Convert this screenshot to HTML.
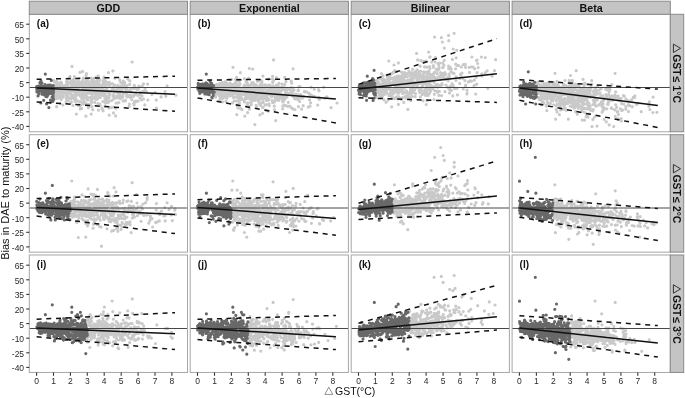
<!DOCTYPE html><html><head><meta charset="utf-8"><style>html,body{margin:0;padding:0;background:#fff;overflow:hidden}svg{display:block;will-change:transform}</style></head><body><svg width="685" height="398" viewBox="0 0 685 398">
<rect width="685" height="398" fill="#fff"/>
<rect x="29.3" y="14.3" width="158.2" height="117.45" fill="#fff"/>
<path d="M68.3 93.3h0M91.2 78.2h0M120.1 90.9h0M71.2 93.4h0M129.7 95h0M84 101h0M73.8 97.8h0M63.6 87.1h0M105.7 103h0M99.6 87.2h0M82.8 80.3h0M72.5 84.4h0M72.7 88.3h0M76 84.5h0M122.7 82h0M79.1 93.7h0M57.6 88h0M102.8 87.9h0M72.2 84h0M75.5 88.5h0M103.9 83.4h0M105.7 84.4h0M65.8 88.3h0M71.4 94.5h0M125.1 92.8h0M71.2 85.5h0M96.4 77h0M80.3 92.6h0M98.2 87.5h0M75.1 97.5h0M60.1 90.1h0M113.6 95.4h0M107.4 83.7h0M76 95.5h0M53.6 86.8h0M82.8 104.1h0M85 95h0M104.1 85.1h0M84.6 95h0M143 91.2h0M103.2 80.9h0M111.1 107.6h0M59.3 90.2h0M72.6 84h0M108.8 97.9h0M61.4 90.9h0M59.7 93h0M105.6 95.5h0M78.9 85.3h0M133.7 103.6h0M102.9 95.5h0M56.6 82.6h0M123.1 93.2h0M67.3 94.4h0M66.6 87.2h0M84.8 92h0M97.3 80.7h0M96.1 96.4h0M67.4 85h0M92.4 85.4h0M120.7 82.4h0M105.8 90.2h0M103.4 90.5h0M67.6 97.2h0M130.7 89h0M66.4 98.6h0M83.2 92.4h0M97.3 89.8h0M80 91.1h0M103.2 85.9h0M100.2 88h0M57.8 97.8h0M75.2 101.5h0M104.3 79.3h0M82.6 95h0M55.7 98.4h0M59.5 88h0M66.1 88.4h0M95.8 83.7h0M87.9 80.9h0M104.9 90.5h0M99.8 104.1h0M70.5 88.8h0M75 99.9h0M54.6 90.5h0M96.8 94h0M111.4 91.1h0M107.1 98h0M128.7 96.3h0M86.1 79.4h0M88.4 90.8h0M53.6 93h0M96.2 91.2h0M60.9 84.7h0M138.1 101.1h0M103.5 81.5h0M61.2 99.5h0M90.4 104.7h0M131.8 99.6h0M77.7 86.9h0M57.8 91.3h0M129.5 91.1h0M84.9 95.7h0M100.5 93.8h0M92.1 85h0M115.8 96.4h0M100.8 86.7h0M57.5 90.7h0M59.3 87.7h0M94.8 102.4h0M59.2 97.6h0M71.8 97h0M66 88h0M100.4 91.7h0M89.3 89h0M124.7 82.7h0M101.9 85h0M96.1 92.5h0M96.3 95h0M145.1 88.3h0M88.4 93h0M165.1 91.6h0M78.4 88h0M75.4 93.6h0M70 93.1h0M156.3 100.1h0M92.3 88.1h0M117.4 89.7h0M101.2 89.4h0M129.4 104.2h0M118.9 95.3h0M74.3 91.8h0M55.1 87.8h0M120.5 96.4h0M60 83.6h0M94.4 97.7h0M102.1 90.7h0M91.6 88.4h0M91.3 89.5h0M55.9 89.3h0M72.2 88.4h0M93.9 85.5h0M87.1 86h0M92.1 94.6h0M81.4 92.2h0M73 105.5h0M78.7 93.2h0M94.3 90.5h0M75.3 83.7h0M114.6 85.1h0M85.8 81.6h0M115.6 115.9h0M95.1 98.5h0M115.6 96.7h0M80.4 94.6h0M73.9 87.9h0M115.6 108.3h0M60.8 82.2h0M114.8 78.2h0M79.5 83.2h0M78.1 80.9h0M53.7 80.5h0M76.6 86.1h0M120 96h0M142 95.8h0M57.8 95h0M83.6 97.4h0M74.1 82.9h0M84.6 85.6h0M71.7 88.2h0M124.1 88.4h0M118 95.5h0M109.1 97.7h0M87.4 87.2h0M56.9 84.8h0M99.4 93.6h0M76.3 82.9h0M109.2 115.2h0M97.1 88.3h0M123.1 100.9h0M82.6 102.1h0M86.5 85.3h0M112.7 87.3h0M73.3 95.5h0M99 84.4h0M68.7 87.6h0M54 85.9h0M124.3 84.6h0M126.7 94.4h0M59.9 97h0M127.7 79h0M87.6 88.9h0M101.8 92.8h0M106.6 84.5h0M72 80.5h0M65.4 91.8h0M77.8 93.6h0M118.6 97.7h0M60.2 88h0M59.5 88.9h0M55 91.1h0M99.2 97.3h0M103.4 91.4h0M113.8 89h0M141.6 100h0M56.6 106.7h0M89.7 97.5h0M119.8 92.6h0M92.1 96.6h0M77.3 95.1h0M105.2 92.4h0M83.5 98.3h0M125.7 86.4h0M74.8 95.5h0M72.6 96.1h0M83.1 84.7h0M124.4 87.6h0M129.8 84.4h0M132.5 95.5h0M54.8 90.6h0M85.4 89.1h0M87.4 79.5h0M74.4 81.8h0M91.4 78.6h0M118.9 88.4h0M62 92.9h0M114.5 85.5h0M138.3 89.2h0M65.2 92.7h0M70.6 81.9h0M129.3 106.3h0M76.4 86.5h0M93.6 89.4h0M88.5 106.1h0M97.6 87.8h0M78.4 105.4h0M74.5 86.6h0M102.7 109.9h0M112.1 89h0M107 96.8h0M67.9 100h0M119.4 89.2h0M97.4 87.4h0M60.9 88.9h0M87 96.7h0M95.5 94.4h0M58.8 86.7h0M120.4 98.7h0M84.9 90.8h0M56.2 94.7h0M127 96.9h0M113.5 112.9h0M56.3 84.7h0M136 101.1h0M66.2 87h0M88.7 83.9h0M106.6 96.8h0M86.4 87.5h0M92.9 98.3h0M103.7 78.6h0M132.9 88.1h0M117.8 85.3h0M120.5 87.8h0M143.5 99h0M78.5 92.1h0M57.9 86.9h0M105.4 80.8h0M63 95h0M78.3 79.8h0M70 76.4h0M146.3 91.4h0M74.3 79.4h0M87.6 99.9h0M133.4 96.5h0M104.6 92.5h0M62.9 105h0M66.6 97.6h0M76.3 93.6h0M65.1 89.3h0M78.2 101.2h0M74.4 85.1h0M155.1 92.5h0M81.8 85.9h0M105.8 87.3h0M70.8 93.8h0M97.6 79.7h0M85.5 87.7h0M109.3 82.4h0M91.8 100.4h0M53.8 99.4h0M94.8 92h0M96.5 95.7h0M66.2 101.5h0M83.1 96.8h0M99 89.9h0M75.3 100h0M89.6 91.3h0M121.1 86.2h0M114.1 98.9h0M66.1 95.2h0M117.2 92.4h0M104.4 92.4h0M78.1 80h0M123.4 81.1h0M90.8 100.9h0M75.1 92.2h0M64.6 91.2h0M127 85.5h0M64.9 86.1h0M108.5 72.7h0M88.3 83.5h0M144.1 91h0M82.7 85.3h0M116 96.8h0M66.8 94.4h0M99.1 94h0M62.8 95.8h0M82.5 90.9h0M142.2 85.8h0M67.4 95.5h0M118.8 95.8h0M97 85.9h0M57.9 84.6h0M55.9 95.9h0M66.5 82.2h0M95.4 88.6h0M151.9 94.4h0M95.3 94.9h0M99.6 94.9h0M105.5 100.6h0M69.3 89.1h0M113 96.7h0M125 101h0M75.8 99.4h0M104.8 98h0M94 84.7h0M53.6 85.5h0M68.9 98.1h0M73.2 97.2h0M89.9 93.4h0M71.2 91.5h0M111.3 84h0M61 97.4h0M103.2 82.9h0M108.1 91.4h0M144.8 104.9h0M66.2 103.1h0M91 84h0M60.9 84.4h0M58.7 90.9h0M87.1 93.3h0M77 89.8h0M98.3 75.9h0M78.8 90.5h0M76.4 82.2h0M113.6 107.2h0M82.5 91.3h0M99.7 93.2h0M125.8 87h0M109.1 101h0M70.7 89.5h0M104.1 77.1h0M59 86.9h0M83.1 89h0M80.2 108.9h0M108.9 93h0M61.5 85.9h0M67.4 88.5h0M99.1 86.5h0M87.3 91.3h0M104.5 93.8h0M134.1 104.9h0M112.8 94.8h0M84.8 103.5h0M93.8 82.7h0M102.6 84.3h0M167.1 85.8h0M85 84.9h0M83.5 78h0M93.8 78.6h0M130.1 97.1h0M62.1 85.9h0M58.8 83.8h0M126.5 94.5h0M156.5 108h0M84.4 89.6h0M68.2 100.5h0M71.9 86.6h0M133.3 87.8h0M126.2 90.5h0M117.7 90.2h0M64.6 85.5h0M90.1 84.8h0M79.2 85.7h0M124.2 87.2h0M59.1 84.2h0M70 83.3h0M73.1 85.3h0M83.2 87.9h0M54.5 82h0M81.7 98.8h0M108.2 102.5h0M54.2 91.2h0M102.2 94.9h0M81.5 92.1h0M135.8 101.8h0M68.9 97.5h0M116.1 103.1h0M147.9 100h0M73.7 79.3h0M60.2 103.6h0M98.1 89.2h0M89.5 87.4h0M134.4 85.4h0M134.5 101.6h0M120.8 86h0M65.3 88.3h0M78.6 83h0M81.8 84.9h0M93 82.8h0M60.1 89.2h0M79.5 90.8h0M117.2 89.6h0M80.3 101.9h0M58.1 88.8h0M57.2 89.4h0M100 79.9h0M57.5 88.8h0M82.6 71.4h0M122.6 85.5h0M72.7 85h0M73.8 98.5h0M129.8 80.9h0M82.7 88.2h0M54.3 92.5h0M84.1 83.4h0M69.2 97.8h0M104 94.6h0M91.1 88.3h0M87 99.7h0M59.4 85.1h0M57.2 98.5h0M92.6 83.5h0M109.4 95.1h0M109.6 91.4h0M59.4 90.1h0M77.3 89.1h0M108.3 92.9h0M119.7 79.9h0M101.4 86.9h0M119.7 86.7h0M135.8 88h0M86.4 73.7h0M96.2 99.4h0M99 82.4h0M91.2 114.1h0M140 98.1h0M75 88.7h0M61.6 84.3h0M114.6 90.9h0M59.7 87.8h0M79.6 92.4h0M60.2 87.5h0M92 93.3h0M114.3 98.6h0M92.4 91.6h0M60.8 93h0M84.5 97.2h0M71.5 83.4h0M94.4 81.3h0M68.1 96.2h0M114.5 90.2h0M98.5 110.2h0M84.7 87.8h0M85.2 89.6h0M91.2 81.2h0M81.7 108.5h0M90.3 98.1h0M53.9 89.8h0M94.2 86.6h0M108 91h0M60.3 85.7h0M57.2 94.9h0M81.9 90.6h0M76.2 89.9h0M87 85.7h0M70.9 87.1h0M59.4 91.1h0M62.7 86.4h0M93.3 92.7h0M66.9 81.1h0M103.3 101.7h0M84.3 86.9h0M60.5 87.3h0M74.4 76.5h0M91 90.1h0M58.5 88.3h0M56.6 86.7h0M75.8 98.6h0M130.5 97.5h0M62.2 91.5h0M68.2 82.7h0M58.3 83.3h0M122 91.4h0M99.9 91.7h0M67.1 92.3h0M86 103.4h0M74.4 87.5h0M89.4 83.6h0M72.7 87.4h0M60.8 88h0M67.8 90.1h0M105.9 85.5h0M123.1 84h0M122.9 95h0M97.7 98.8h0M53.8 86.5h0M66.8 85.4h0M80.4 93.9h0M71 83.7h0M96.3 99.3h0M58.2 97.2h0M82.9 82.8h0M76.7 85.6h0M91.1 83.6h0M109 108.1h0M135.9 94.1h0M72.2 88.9h0M138.8 86h0M97.8 82.7h0M87.9 86.9h0M117.1 98h0M100.2 105.3h0M71.5 102.1h0M72.9 86.2h0M139.8 94.5h0M69.3 90.8h0M62.3 86.9h0M71.3 93.5h0M85.4 87.4h0M82.4 90.5h0M66.6 85h0M61.5 82.9h0M71.5 89.4h0M97 85.3h0M65.1 91.2h0M78.4 94.3h0M82.1 89.2h0M91.7 102.2h0M143.6 83.8h0M88.4 107.7h0M57.3 94.9h0M58.4 91.1h0M137 89.5h0M80.3 96.2h0M63.5 89.1h0M104.1 101.5h0M96.1 84.6h0M71 98.8h0M103.9 94.9h0M119.6 94.9h0M113.8 98.9h0M81.6 82h0M92.6 87.6h0M62.9 94.6h0M100.2 97.5h0M96.7 82.6h0M57.5 87.4h0M98 103.5h0M87.8 81.5h0M65.4 87h0M63.8 89h0M56.9 90.2h0M73.3 81.1h0M94.9 90.8h0M88.2 86.7h0M63.3 97.1h0M73.4 87.6h0M85.1 83.1h0M161.1 96.9h0M74.4 88.1h0M89.8 87.5h0M55 92.5h0M134 95h0M91.8 92.2h0M83.3 89.1h0M70.7 102.7h0M165.8 96.2h0M56.8 81.2h0M107 88.3h0M137.9 95.5h0M103.9 90.4h0M89.1 83.8h0M56.7 86h0M64.3 91.6h0M125.6 86.5h0M122.9 97.2h0M70.8 87.4h0M106.9 100.8h0M60.1 84.4h0M119.9 95.9h0M86.1 75.6h0M83.2 95.4h0M60.1 96h0M91.8 106.6h0M134.9 94.8h0M104 86.7h0M71.2 94.5h0M91.2 92.5h0M94.1 87.3h0M104.6 86.1h0M73.3 89.9h0M93.2 85.1h0M147.7 84.2h0M85.1 91.6h0M69.6 77.8h0M91.6 94h0M84 88.3h0M175.9 95.2h0M115.2 97.6h0M81.3 83.5h0M133.9 88.6h0M58 93.9h0M81.5 94.4h0M57.5 85h0M123.4 84.9h0M102.8 101.7h0M121.4 90.9h0M77.5 92.4h0M126.8 96.5h0M117.5 86.5h0M72.4 96.7h0M127.1 88.9h0M85.2 97.3h0M66.9 87.7h0M107 90.2h0M109.3 85.7h0M118.9 102.6h0M69.5 78.8h0M125.5 100.3h0M103.1 110.8h0M78.9 86.7h0M109.2 95.3h0M140.4 92.3h0M105 106.2h0M139.5 87h0M58.6 88.3h0M118.2 102.9h0M74.4 89.7h0M76.9 93.6h0M96.2 89.4h0M119.6 92.2h0M112.2 83.5h0M68.8 90.3h0M58.5 88.4h0M88.4 104.4h0M80.7 82h0M53.8 100.2h0M106.4 82.1h0M100.5 86h0M73.4 81.2h0M131.6 92h0M114.5 92.2h0M87.7 89.8h0M117 87.5h0M88.4 105.6h0M60.8 85.5h0M72.9 88h0M93.7 80.7h0M80.3 105.8h0M121.3 89.3h0M101.9 108.2h0M87.2 82.8h0M55.5 86.6h0M98.2 91.9h0M90.3 84.9h0M117.2 90.4h0M104.1 91h0M82.5 87.6h0M109.6 93.8h0M65.7 92.5h0M77.8 86.3h0M111.7 100.6h0M61.2 92.6h0M72 66.4h0M132.1 62h0M112.9 70.9h0M80 72.4h0M76.4 114.1h0M85.9 116.2h0M92.7 109.7h0" stroke="#c9c9c9" stroke-width="3.2" stroke-linecap="round" fill="none"/>
<path d="M48 94.9h0M49.4 85.4h0M37.3 89.3h0M38 95.9h0M44.7 94.6h0M48.5 93.9h0M37.9 88.4h0M43 89.2h0M52.6 92.7h0M39.7 87.5h0M46.6 103.9h0M50.1 89h0M41.4 87.8h0M45.9 88.7h0M44.5 90.6h0M45.9 96.4h0M36.7 86.5h0M46.8 91.2h0M53.5 92.6h0M47.7 93.1h0M50.7 90.4h0M45.3 87.1h0M45.1 93.7h0M38.4 89.3h0M37.4 88h0M45.5 92.8h0M45.4 95.3h0M53.3 85.6h0M40.3 91.1h0M50.5 93.4h0M44.8 87.5h0M48.4 87.5h0M36.7 88h0M50.5 100.1h0M40.2 91.1h0M45.8 87.7h0M43.7 100.3h0M45.6 88.1h0M49 89.2h0M38.2 91.4h0M52.6 101.5h0M42.9 87.1h0M38.9 93.9h0M39.2 90.8h0M45 84.5h0M41 90h0M53.4 90.7h0M41.5 88.1h0M44.2 86.1h0M53 94.8h0M43.8 93.2h0M38.5 90.7h0M47 96.7h0M47 86.9h0M47.2 89.7h0M36.9 91.8h0M45.2 93.9h0M42.1 94.2h0M51.3 80.4h0M39.3 86.4h0M53.2 95.9h0M47.3 89.5h0M48.8 85.9h0M45.6 87.8h0M47.9 90.1h0M39.6 90.2h0M50 86.5h0M48.7 86.5h0M41 81.1h0M52.1 97.2h0M52.9 89.4h0M49.6 85.4h0M42 83.1h0M48.8 88.1h0M36.9 87.4h0M50.8 92.4h0M46 86.5h0M40.7 91.1h0M53.1 89.9h0M47.1 87.6h0M46.6 88.1h0M53.5 90.3h0M38.1 90.1h0M40.7 86.6h0M42 91.1h0M53 87.8h0M48.9 107.6h0M37.9 86.3h0M53.3 98.4h0M50.7 101.9h0M36.8 89.5h0M39.9 82.7h0M38.7 92.6h0M43.9 92.9h0M51.9 93h0M53.4 99.7h0M53.1 88.2h0M42.1 86.4h0M40.4 89.8h0M42.1 90.9h0M40.8 102.9h0M41.2 87.8h0M38.5 86.1h0M49.5 90.5h0M37.3 89.9h0M48.1 91.9h0M50.5 85h0M42.3 92.7h0M50.8 87.3h0M45.2 88.2h0M39.2 89.1h0M38.7 93.1h0M40.3 87.7h0M44.4 94.9h0M40.9 85.3h0M48.1 85.1h0M45.3 74.1h0" stroke="#686868" stroke-width="3.2" stroke-linecap="round" fill="none"/>
<line x1="29.3" x2="187.5" y1="87.5" y2="87.5" stroke="#333" stroke-width="0.9"/>
<line x1="36.6" x2="175" y1="79.3" y2="76.2" stroke="#111" stroke-width="1.5" stroke-dasharray="5 4.7"/>
<line x1="36.6" x2="175" y1="101.9" y2="111.3" stroke="#111" stroke-width="1.5" stroke-dasharray="5 4.7"/>
<line x1="36.6" x2="175" y1="87.9" y2="94.2" stroke="#111" stroke-width="1.5"/>
<rect x="29.3" y="14.3" width="158.2" height="117.45" fill="none" stroke="#a6a6a6" stroke-width="1"/>
<text x="36.8" y="26.8" font-family="Liberation Sans" font-weight="bold" font-size="10" fill="#111">(a)</text>
<rect x="190.2" y="14.3" width="158.2" height="117.45" fill="#fff"/>
<path d="M225 94.4h0M262.4 89.9h0M215.5 89.8h0M262.6 98.7h0M256.2 88.5h0M297.8 99.4h0M224.9 95.3h0M232.6 89.1h0M256.6 91.7h0M247.4 96.3h0M260.7 103.9h0M276 93.1h0M283.7 87.4h0M266.3 91.6h0M283.4 99.5h0M225 81.8h0M263.1 107.6h0M220.9 93.9h0M232.2 84.3h0M272.5 92.6h0M249.7 88.9h0M281.1 98.1h0M273.7 80.6h0M240.1 90.6h0M229.2 92.1h0M264.9 86.1h0M285.4 90.3h0M256.6 85.3h0M303.2 105.7h0M269 92.5h0M251.2 89.9h0M220.8 98.4h0M259.1 86.7h0M255.5 95.1h0M282.5 101.3h0M282.3 87.2h0M272.2 100.7h0M245.8 96h0M235.9 90h0M268.5 92.9h0M244.7 89.6h0M262.5 85.3h0M266.3 100.5h0M262.4 90.4h0M216.6 90.4h0M245.6 92.9h0M235.9 88h0M276.4 85.1h0M222 86.2h0M240.1 88.2h0M217 87h0M278.8 100.4h0M238.1 94.9h0M233.5 87.9h0M267 92.5h0M300.8 94.6h0M244.4 101.9h0M229.1 87.2h0M248.4 89.2h0M249.1 94.1h0M275.3 94h0M274.3 91.1h0M219 95.4h0M249.4 96.3h0M236.7 88.5h0M239.8 89.3h0M243.5 90.5h0M221.8 90.1h0M252.6 91.9h0M275.2 96.2h0M310 106.2h0M229.3 88.4h0M221.7 91.3h0M270.3 87.9h0M254 93.9h0M311.1 87.2h0M285.3 93h0M272.8 81.8h0M287.6 93.1h0M224.8 91.8h0M248 88.9h0M283.8 95.7h0M225.9 89.9h0M266.5 110.4h0M226.8 98.2h0M229.2 87.6h0M215 88.8h0M276.5 77.5h0M263 98.5h0M251.5 90.2h0M229.8 93h0M236.2 92.6h0M227.4 93.3h0M248 102.9h0M280.7 91.2h0M225.1 97.2h0M244.8 89.2h0M279.1 96h0M297.1 98.3h0M278.9 83.3h0M215 93.1h0M238.6 97.7h0M297.3 95.1h0M229.2 84.6h0M256.9 106.3h0M261.4 92.6h0M238.1 97.5h0M244.5 89.2h0M237.4 92.9h0M279.1 90.3h0M245.5 97.7h0M301.6 109.2h0M220.7 87.1h0M310 95.1h0M242.2 88.9h0M231.5 86.4h0M239.9 92.7h0M224.7 95.3h0M231.3 91.1h0M302.3 98.2h0M266 91.3h0M280.7 96.2h0M261.5 91.2h0M226.3 91.4h0M215.3 91.6h0M267.9 100.2h0M221.4 93.9h0M216.7 92.7h0M243.1 89.9h0M274.2 93.8h0M214.6 95.8h0M291.7 83.2h0M254.5 85.9h0M246.1 82.1h0M233.5 87.9h0M304.4 91.7h0M247.3 91h0M236.7 89.3h0M259.7 80.3h0M292.7 95h0M318.5 89.5h0M216.8 87.1h0M237.3 85.2h0M226.8 90.3h0M253.3 82.7h0M227.5 96.3h0M229.3 88.8h0M217.3 91.8h0M259.4 91.7h0M237.7 86.1h0M291.2 94.7h0M234.9 92.2h0M227.4 92.6h0M249.3 87.3h0M298.5 87h0M233.7 87.4h0M232.7 90.6h0M227 91.3h0M284.2 96.9h0M223.5 88.1h0M319.1 97.3h0M216.6 84.3h0M269.7 93.4h0M285.9 81.4h0M216 94.2h0M215.7 97.1h0M282.9 96.8h0M233.5 84.9h0M238.6 93.8h0M260.3 84.3h0M216.3 90h0M217.7 88.7h0M246.3 80.4h0M260.9 84.2h0M252.7 69.1h0M292.8 108.9h0M278.2 95.6h0M249.1 97.9h0M262 82.4h0M309 93h0M237.4 93.3h0M231.1 92.2h0M252.2 92.4h0M300.9 97.4h0M231.6 89.4h0M253.5 96.6h0M255.3 97.5h0M238.7 97.4h0M254.3 86h0M263.7 98.2h0M256.1 91.3h0M269.4 94.4h0M285.2 97.1h0M247.6 112.7h0M248.5 94h0M249.5 87.1h0M256.7 93.8h0M231.1 87.9h0M232.5 94.3h0M249 93.7h0M220.2 89.8h0M220 93.3h0M291.9 90.8h0M246.5 98h0M299.6 101.4h0M229.4 92.2h0M220.8 93.4h0M268.7 79.2h0M284.1 105.4h0M313.2 96.4h0M292.1 94.8h0M229.6 95.8h0M237.4 91.7h0M285.8 93.9h0M265 92.4h0M233.3 93h0M225.4 93.2h0M254.2 98.1h0M223.8 96.6h0M255.8 92.5h0M290.7 90.8h0M298 90.4h0M223.1 91.6h0M250.8 99.3h0M248.6 78.4h0M263.2 102.4h0M284.8 84.6h0M281 87.6h0M233.4 88.6h0M289.7 106h0M260.6 105.3h0M251.2 102.4h0M295.9 93.8h0M258 99h0M233.5 86.7h0M287.8 106.3h0M235.3 85.8h0M296.3 94.9h0M283.1 101.9h0M271.1 91.9h0M247.2 98.5h0M276.7 90h0M263.1 88.4h0M249.3 109.2h0M247 105.9h0M275.7 120.6h0M287.7 94.7h0M218.8 88h0M234.2 100.9h0M261.1 93h0M247.3 93.5h0M301 95h0M223.2 98h0M261.6 89.6h0M285.8 105.6h0M229.9 86.9h0M219.9 85h0M237.3 92.7h0M236.6 101.1h0M238.7 80.9h0M236.2 93.9h0M226.4 83.2h0M221.8 91.4h0M261.8 80.9h0M248.3 93.9h0M255.6 98.2h0M225.4 84.8h0M217 89.7h0M247 90.6h0M230.1 84.4h0M249.3 68.4h0M279.6 98.3h0M242.3 93.8h0M232.9 85.1h0M268.3 91.1h0M216.2 88.6h0M234.1 89.9h0M254.9 100.4h0M253.7 87.8h0M295 99h0M217.5 89.8h0M230.2 92.3h0M248.8 106.2h0M236.2 82.3h0M260 96.9h0M227.2 96.8h0M246.3 91.5h0M251 103.1h0M303.4 96.4h0M232.7 88.9h0M278.2 86.1h0M246.9 91.9h0M240.7 108.7h0M229.2 92h0M271 95.4h0M233.7 89.9h0M324.9 98.1h0M272.7 102.7h0M235.5 92.5h0M282.6 108.8h0M221 93.7h0M251.4 94.3h0M251.9 99h0M255.1 96.3h0M220.8 88.5h0M252 93.7h0M236.3 93.4h0M223.1 86.5h0M247.3 95.3h0M272.5 96.2h0M232.7 88.4h0M263.3 99h0M235.5 92h0M269.2 105.6h0M219.7 99.9h0M241.4 97.7h0M237.4 91h0M214.7 93.9h0M290.4 94.1h0M239.6 91.4h0M228.3 93.6h0M236.2 90.4h0M256.1 105.3h0M269.6 92.6h0M240 83.6h0M298.5 90.3h0M244.7 89.5h0M231.7 92h0M287.8 93.1h0M241.1 99.4h0M235.7 90.6h0M232.8 95.1h0M260.6 86.8h0M247.8 94h0M265.9 96.6h0M239.7 83.8h0M235.3 93.3h0M252.4 89h0M261.8 94.6h0M264.2 93.4h0M226 87.4h0M244.1 89h0M219.4 89.7h0M223 93.2h0M220.4 88.1h0M250.4 90.7h0M235.4 97.1h0M237.1 79.8h0M251.9 92.4h0M257.9 94.9h0M254.2 98.6h0M288.3 102.3h0M219.4 91h0M242.4 89.5h0M230.1 93.4h0M221.6 90.5h0M250.8 91.9h0M267.8 90.1h0M238.5 100.3h0M216.3 94.1h0M255.1 90.8h0M259.2 93.4h0M276.7 99.8h0M253 83.8h0M272.5 76.3h0M236.4 93.5h0M337 103h0M311.3 95h0M251.8 82.5h0M232.4 90.2h0M276.4 94.7h0M220 90.8h0M246.3 88.5h0M284.5 89.5h0M235.6 79.6h0M225.8 86.9h0M294.9 109.6h0M215 92.7h0M309.4 94.4h0M248.1 89.5h0M277.5 98.7h0M293.7 94.6h0M306.4 91.9h0M242.1 109.6h0M279.3 94.1h0M271.3 94.3h0M318.6 97.5h0M255.3 88.7h0M217 90h0M232.9 86.4h0M239.2 91.9h0M271.8 87.9h0M246.6 90.3h0M251.9 97h0M224.9 94h0M271.9 87.4h0M222.7 87.3h0M240.6 90.5h0M237.9 107.9h0M258.9 92h0M319 90.8h0M232.5 102.9h0M263 76.1h0M283.7 88.7h0M221.6 96.4h0M290.9 87.7h0M237.3 105.7h0M239.2 104h0M234.2 91.4h0M218.5 89.8h0M269 85h0M275.6 99.6h0M284.7 77.3h0M314.2 89.2h0M246.1 96.2h0M223.1 84.1h0M220.3 96h0M236.6 77.4h0M247.9 96.5h0M270.5 95.4h0M269.1 103.8h0M291.2 81.2h0M287.5 94.3h0M292.7 95.9h0M266 97.6h0M222.7 97.2h0M294.1 90h0M314.6 96.6h0M291.1 107.5h0M298.2 94.8h0M216.1 88h0M253.8 94.2h0M251.2 101.7h0M253.7 83.5h0M248.6 90.9h0M220.3 88.9h0M250 98.9h0M266.3 104.6h0M222.8 93.1h0M258 100.8h0M249.9 91.6h0M250.2 97.8h0M293.5 90.5h0M278.8 88.7h0M229.1 88.7h0M215.4 89h0M225.5 92.5h0M225.7 90.4h0M276.9 90.4h0M244.8 89.3h0M273.7 89.4h0M323.7 87.2h0M262.6 107.4h0M231.6 79.3h0M247.1 97.2h0M275.2 96.2h0M268.2 91.5h0M226.2 95.4h0M245.3 86h0M216.6 93.6h0M252.5 88.8h0M260.4 98.8h0M238.3 90.5h0M252.4 93.9h0M239.1 79.7h0M250.4 92.6h0M225.9 101.3h0M260.3 97.3h0M233.9 97.3h0M272.5 79h0M260.3 88.9h0M215.5 92.3h0M232.5 94.5h0M219.5 91.5h0M282.9 105.8h0M299.9 86.3h0M244.4 78.7h0M276.6 87.6h0M228.3 86.1h0M286.9 97h0M317.7 105.1h0M225.8 88.8h0M215.4 93.1h0M275.4 97h0M245.5 95h0M245.6 99h0M247.8 84.2h0M282.8 99.3h0M278.9 91.9h0M258.6 99.2h0M260.7 93.5h0M278.3 98.2h0M289.1 88.8h0M255.4 97.2h0M251.4 104.7h0M260.6 87.5h0M275.9 99.2h0M225.4 89.7h0M241.5 98.7h0M236.4 90.3h0M249.8 95.5h0M240.2 95.5h0M239.8 84.8h0M268.4 111.2h0M274.5 109.9h0M249.4 96.5h0M246.5 85.3h0M282.2 90.1h0M238.2 85.5h0M246.9 82.3h0M273.2 85.8h0M237.5 97.4h0M299.7 98h0M223.3 90.4h0M225.8 81.9h0M269 99.7h0M252.4 99.4h0M245.8 91.5h0M217.9 93.8h0M244.4 85.1h0M257.6 81.4h0M267.7 97.9h0M243.3 99.8h0M298.1 96.5h0M274.7 90.7h0M298.4 106.7h0M251.6 97.1h0M219.3 86h0M218.2 87.7h0M293.1 88h0M224.3 94.5h0M215.9 87.6h0M236.4 89h0M266.5 95.7h0M231.7 89.6h0M265.1 88.7h0M240.6 79.8h0M227.7 91h0M258.5 89.1h0M243.3 94.6h0M239.9 84.4h0M215.8 91.3h0M225.6 90.3h0M215.3 91.9h0M229.9 86.3h0M215 92.7h0M227.4 87.1h0M215 96h0M266.3 85.4h0M214.7 89.7h0M271.4 92.9h0M288.2 93.6h0M255.3 84.6h0M265 84.8h0M239.9 97.8h0M319.4 99.5h0M271 89.4h0M289.5 93.5h0M286.8 88.1h0M231.5 88.6h0M240.6 92.2h0M275.3 99.4h0M269.6 87.5h0M223.4 87.5h0M275.8 96.6h0M276 95h0M265 98h0M245.7 90.9h0M288.6 94.6h0M263.6 96.1h0M252.8 92.6h0M215.4 88.9h0M247.7 93.8h0M271.4 89.7h0M222.4 96h0M258.8 91.3h0M229.3 93h0M224.1 94.8h0M230.2 86.7h0M274.3 106.2h0M216.2 88.9h0M225.7 88.6h0M270.7 86.1h0M326.9 96.8h0M309.6 99.8h0M267.7 98.5h0M274.6 101.8h0M217.3 93.6h0M251.6 83.4h0M301.7 96.9h0M222.3 98.3h0M277.7 93.3h0M285.7 97.7h0M248.9 86.9h0M294.1 97.6h0M234.5 90.6h0M258.9 101.5h0M266.1 91.7h0M233.4 97.4h0M222.6 86.5h0M219.5 83.6h0M256.6 97.1h0M298.4 90.7h0M222.5 101.8h0M235.2 82.7h0M237.9 104.5h0M236.8 91.7h0M268.7 87.8h0M228.8 95.2h0M236.3 92.6h0M249.6 95.2h0M227.4 96.4h0M267.9 85.9h0M255.2 91.8h0M254.9 91.4h0M232 95.4h0M252.4 91.6h0M247.3 103.4h0M230 83.1h0M265.7 85.9h0M222.8 87.9h0M269.8 85.2h0M242.5 89.3h0M254.1 92.7h0M243.7 86.4h0M331.1 107.7h0M225.9 96.5h0M254.9 124.6h0M222.2 82.5h0M222.6 85h0M228.3 93.7h0M218.5 85.8h0M272.6 82.5h0M248.4 91.6h0M308.3 107.1h0M292.4 91.9h0M261.5 90.2h0M234.4 89.6h0M216.1 90h0M220.3 97.9h0M219.2 95.7h0M266.3 99h0M281.4 94.4h0M262.5 97.4h0M310.6 102.8h0M269.4 87.7h0M271.8 96.8h0M251.4 89.2h0M232.5 92.6h0M239.4 99h0M232.3 89.9h0M239.9 95h0M249.5 86.3h0M219.7 90.9h0M254.4 88.1h0M217.1 89.5h0M272 91.1h0M230.2 92.5h0M248.9 94.9h0M275.9 90.8h0M228.5 95.9h0M274.8 87.6h0M251.9 85h0M262.7 101.7h0M284.5 99.7h0M270.5 89.5h0M259.4 103.4h0M254.2 90.3h0M239.6 102.5h0M282 84.1h0M250.3 85.3h0M243.9 86.8h0M228.8 84h0M254.4 99.4h0M218.1 91.7h0M287.1 92.9h0M253.6 100.2h0M267.2 91h0M263.4 98.2h0M264.9 105h0M229.6 79.3h0M247.6 97h0M254.6 93.4h0M264.8 92.4h0M249.8 93.7h0M231 90.2h0M269 99.1h0M287.7 89.4h0M215.8 91.3h0M259.9 114.9h0M271.3 94.9h0M273.6 59.9h0M293.1 68.8h0M233 67.3h0M240.4 72.7h0M236.8 114.7h0M244.8 116.2h0M262.6 113.3h0" stroke="#c9c9c9" stroke-width="3.2" stroke-linecap="round" fill="none"/>
<path d="M205.2 85.7h0M200.5 88h0M199.8 91.1h0M205 91.4h0M206.8 83.4h0M200.4 84.3h0M201.2 92h0M204.1 86.8h0M199.1 88h0M206.2 89.9h0M203 86h0M198.9 87.1h0M207.5 89.7h0M204.9 94h0M212 90.1h0M211.8 97.3h0M200 85h0M207.4 88.9h0M210.9 85.4h0M197.9 88.9h0M201.2 87.1h0M211 86.7h0M202.5 83.8h0M213.8 85.6h0M200.2 90.9h0M204.5 91.7h0M208.8 90.1h0M208.8 84.9h0M204.3 85.9h0M197.8 87h0M208.4 94.4h0M203.8 86.6h0M207.3 86.4h0M198.5 86.3h0M210.1 81.4h0M199.8 88.3h0M213.2 95.4h0M200 91.3h0M204.8 85.6h0M211.3 88.4h0M209.2 89.5h0M207.4 91.2h0M198.2 83.4h0M199.1 91h0M199.8 84.5h0M199.8 93.3h0M206 90.7h0M202 88.4h0M207.5 88.3h0M209.6 92.6h0M207.8 85.8h0M210.9 92.2h0M211.5 85.2h0M201 87.9h0M201 85.6h0M197.7 87h0M207.8 86.2h0M208.7 90.7h0M198.7 88.4h0M211.6 83.3h0M209.1 85.5h0M201.1 90.7h0M211.2 87.8h0M203.6 87.5h0M210 90.3h0M198 89.1h0M201.3 90.6h0M199.7 87.9h0M208.2 87.3h0M197.7 87.9h0M208.9 87.7h0M198 87.9h0M202.1 88.3h0M200 85.5h0M203.2 90.7h0M210.9 88.4h0M200.5 85h0M213.4 92h0M202.8 88.2h0M199.6 89.8h0M206.1 90.4h0M209.2 94.7h0M202.3 89.2h0M214.3 92.1h0M210.6 86.6h0M202.9 84.5h0M206 86h0M212.6 90.6h0M210.4 84.9h0M212.2 97.8h0M205.1 83.9h0M206.9 92.3h0M200.2 84.5h0M211.4 88.2h0M202.7 86.6h0M198 86.9h0M205.2 87.9h0M205.8 82.8h0M206.9 90.8h0M199 88.9h0M205.1 84.8h0M207.4 86.9h0M198.3 84.6h0M202.4 90.3h0M202.9 88.8h0M202.2 91.9h0M204.7 88.9h0M207.3 94.1h0M213.2 93.3h0M206.3 74.1h0" stroke="#686868" stroke-width="3.2" stroke-linecap="round" fill="none"/>
<line x1="190.2" x2="348.4" y1="87.5" y2="87.5" stroke="#333" stroke-width="0.9"/>
<line x1="197.5" x2="335.9" y1="80.2" y2="78.5" stroke="#111" stroke-width="1.5" stroke-dasharray="5 4.7"/>
<line x1="197.5" x2="335.9" y1="97.9" y2="123" stroke="#111" stroke-width="1.5" stroke-dasharray="5 4.7"/>
<line x1="197.5" x2="335.9" y1="87.9" y2="98.9" stroke="#111" stroke-width="1.5"/>
<rect x="190.2" y="14.3" width="158.2" height="117.45" fill="none" stroke="#a6a6a6" stroke-width="1"/>
<text x="197.8" y="26.8" font-family="Liberation Sans" font-weight="bold" font-size="10" fill="#111">(b)</text>
<rect x="351.2" y="14.3" width="158.2" height="117.45" fill="#fff"/>
<path d="M386.6 89.3h0M429.3 78.9h0M434.9 90.8h0M407.6 94h0M390.1 88.9h0M417 76.8h0M405.9 98.1h0M401.2 90.7h0M421.7 81.5h0M434.7 72h0M396.6 85.7h0M376.7 85.6h0M463.2 89h0M411.8 76h0M416.6 53.4h0M417.7 80.3h0M471.4 81.2h0M410.5 79.7h0M398.6 93.2h0M389.6 86.5h0M406.5 90.9h0M485.3 72.8h0M432.8 86.7h0M467.1 93.4h0M410.9 78.3h0M417.1 69.9h0M429 71.5h0M403.9 88.5h0M394.8 88.1h0M376.4 91.3h0M458.7 65.5h0M422.5 94.4h0M430.4 91.4h0M396.4 78.6h0M429.8 57.2h0M431.9 75.4h0M377.6 90.9h0M402.3 87.8h0M439 69.1h0M381.5 85.3h0M401.2 83.7h0M390.3 87.4h0M415.6 93.5h0M387.7 79.2h0M431.8 62.1h0M431.5 85.8h0M459.7 83.4h0M388.9 77.2h0M447.6 78.5h0M399.1 86.3h0M384.1 81.4h0M422.6 79.8h0M440.5 72.6h0M392.4 94h0M445 72.6h0M430 74.4h0M381.4 73.5h0M448.6 66.1h0M402.4 80.8h0M407.3 80.6h0M402.8 72.8h0M428.6 73.9h0M414.6 76.8h0M421.5 80.2h0M393.4 82.4h0M395.7 77h0M383.5 84.6h0M402.7 88.3h0M425.9 83.7h0M394.7 91.2h0M390.7 82.9h0M473.2 67.2h0M468.4 81.9h0M394.7 70.6h0M384.6 94.3h0M381 88.9h0M415.2 96.6h0M397.3 83.6h0M401.2 72h0M449.7 87.8h0M398.9 90.4h0M391.4 83.9h0M466.8 94.1h0M385.4 90.2h0M423.1 100.8h0M448 77.1h0M423.4 73.8h0M454 73.4h0M432.8 88.8h0M384.9 89h0M420.9 71.3h0M375.5 85.9h0M434.3 94.3h0M383.3 90.1h0M418.3 73.6h0M381.2 93.2h0M397.1 85.4h0M448.3 80.8h0M434.7 78.2h0M448.6 35.4h0M426.2 104.5h0M426.9 67.2h0M398.7 85.8h0M379.4 84.2h0M388.8 87.1h0M419.4 89.6h0M408.5 85.4h0M449.5 78h0M445.4 79.2h0M382.3 94.9h0M437.7 87.2h0M428.1 95.4h0M389 94.2h0M447.5 79.8h0M423.6 83.8h0M398.5 90.7h0M419.1 90.4h0M401.5 82.8h0M437.2 78.1h0M451.2 68.9h0M413 92.6h0M407.5 80.4h0M420.9 60.7h0M391.6 95.2h0M437.5 92.3h0M461.1 77h0M427.6 88.9h0M391 73.6h0M394.5 72.3h0M456 80.4h0M416.4 81.9h0M423.6 80h0M397.7 79.9h0M428.5 80.8h0M423.9 71.8h0M402.4 77.4h0M417.2 85.5h0M430.2 78.3h0M441.6 95.5h0M397.6 88h0M408.5 81.2h0M430.6 79.4h0M427.2 89h0M389.6 80.1h0M392.9 90.9h0M381 94.1h0M461.3 74h0M453 73.2h0M380.4 96.6h0M402.4 80.3h0M442.7 67.6h0M426.3 79h0M384.5 92.2h0M445.7 74.3h0M429.3 93.7h0M427.9 84.9h0M427.4 77.7h0M417.9 87.3h0M386.9 85.8h0M421.9 82.4h0M403.2 92.2h0M406.8 73.6h0M413.2 81.5h0M394.4 82.5h0M402.7 93.4h0M398.3 84.2h0M423.9 93.4h0M422.8 86.6h0M425.4 89.3h0M428.4 84.4h0M421.4 91.3h0M426.7 93.2h0M476 77.2h0M394.6 81.9h0M380.2 84.1h0M385.4 94h0M433.4 65.5h0M388 84.3h0M451.4 90.3h0M393 92.6h0M387.7 87.6h0M445 91.7h0M443.8 75.2h0M419.8 83.4h0M424.9 76.7h0M422.3 77.5h0M402.6 87.2h0M401 80.2h0M411.3 85.7h0M471.7 66.9h0M494.5 70.7h0M445.7 79.2h0M410.4 84.2h0M426.7 90.3h0M406.2 86.8h0M427.3 74.6h0M389.1 84.2h0M404.2 77.6h0M437.1 84.3h0M410.5 88.8h0M411.7 92.5h0M425.3 91.5h0M429.4 90.2h0M439.4 91.5h0M423.2 61.3h0M417.8 76.7h0M395.8 79.6h0M478.2 67.6h0M392.9 82.6h0M390 89.3h0M379.7 92.7h0M399.7 88.8h0M399.5 87.8h0M415.5 71.5h0M393.9 82.3h0M381.7 91.7h0M417.7 59.9h0M379.3 84.2h0M424.3 90.5h0M384.1 83.5h0M417.1 87.5h0M401.9 75.6h0M426.6 72.1h0M422.5 82.3h0M396.8 88.4h0M376.7 86.6h0M412.3 96.4h0M411.2 78.8h0M404.9 92.4h0M456.1 76.8h0M410.9 93.5h0M389.2 80.1h0M447.5 87.2h0M421.9 86.4h0M381.9 95.4h0M418.1 80.6h0M384.2 88h0M394.7 77.2h0M410.8 100.6h0M460.4 74.4h0M426.1 81.7h0M417 81.2h0M405.4 74.6h0M420.2 74.8h0M444.4 79h0M378.8 82.7h0M432.6 87.2h0M450.1 90h0M474.3 85.4h0M382.2 80.9h0M417.5 78.4h0M395.3 86.3h0M424 76.5h0M476.4 60.6h0M398 98.9h0M406.9 83.8h0M379.3 89.9h0M435.4 57.5h0M389 84.3h0M440.9 75h0M384.6 85.6h0M446 85.1h0M378.8 92.7h0M416.7 78.9h0M396.6 89.7h0M441.7 77.5h0M393.7 89.3h0M410.7 80.9h0M404.7 80.8h0M383.6 88h0M411.6 84.1h0M407.6 82.7h0M433.5 76.4h0M430 85.2h0M421.9 87.8h0M395.4 83.3h0M428.5 88.7h0M385.1 81.7h0M387.8 79.6h0M440.1 76h0M413.2 86.2h0M391.7 93.9h0M441 85.4h0M377.5 88.2h0M391.5 74.1h0M396.3 91.2h0M409.3 93.4h0M412.4 75.4h0M439.7 63h0M411.1 83.7h0M492.1 76.1h0M419.1 83.5h0M390.3 93.1h0M379.1 93.6h0M442 83.7h0M449.5 93.1h0M431.6 74.9h0M387 83.7h0M393.2 72.4h0M463.3 64.6h0M435.1 62h0M424.2 79.9h0M387.3 86.3h0M389.4 82.2h0M398.9 87.9h0M423 81.9h0M420.8 89.7h0M383.1 75.7h0M411.6 85h0M388.4 83.9h0M405.9 97h0M452.4 59.4h0M407 92.7h0M450.3 89.9h0M395.8 82.8h0M439.7 85.3h0M429.4 77.5h0M437.5 70.3h0M390.7 83.2h0M394.2 79.1h0M442.2 84.6h0M429.9 68.6h0M406.9 82.3h0M462 73h0M390 89.7h0M397.5 77.1h0M435.2 86.6h0M392.1 78h0M389.9 79.4h0M411 96.5h0M428.6 52.1h0M424.5 66.9h0M405.7 83.3h0M392.2 78.5h0M376.2 84.6h0M383.4 83.4h0M417.4 80.8h0M475.7 94.1h0M377.4 82.9h0M401.4 99.4h0M410.4 81.9h0M454.5 88.2h0M419 75.5h0M452.1 83.6h0M411.3 93h0M400.8 83.8h0M388.2 99.9h0M423.8 73.4h0M381.9 95.2h0M404.7 72.6h0M389.6 85.7h0M477.2 60h0M384 99.8h0M397.5 79.1h0M393.8 93.3h0M428.1 71.5h0M413.8 89.5h0M452.8 85.5h0M408.9 97.7h0M419.6 82.3h0M409.5 82.9h0M432.8 78.8h0M396.6 80.8h0M388.3 83.3h0M399.3 78.2h0M449.2 89.2h0M435.8 78.1h0M420.7 75.4h0M402.2 83.7h0M436.2 69.1h0M397 88.7h0M378.1 87h0M428.9 79.5h0M425.2 77h0M414.2 82.7h0M399.6 92h0M411.9 78.8h0M391 91.9h0M427.8 83.3h0M379.2 84.1h0M396.9 71.3h0M428.7 77.6h0M382.6 86.7h0M388.8 95.6h0M407.7 94.4h0M386.7 83h0M399.7 86.7h0M387.5 77h0M400.4 79.7h0M407.9 94.9h0M383.2 78.8h0M408.8 72.5h0M404.8 80.7h0M408.8 94.1h0M469.5 72.4h0M448.8 76.8h0M390.1 78.1h0M431.2 81.1h0M399.3 87.9h0M481.9 75.9h0M427.1 79.2h0M440.3 79.4h0M381.1 91.6h0M398.4 96.7h0M379.7 84.8h0M410.5 90.8h0M443.2 73.3h0M398.5 78.5h0M383.2 84h0M403.8 102.4h0M422.9 84.8h0M454.9 88.6h0M414 85.1h0M376.9 85.5h0M388.9 76.6h0M453.2 85.5h0M389.6 89h0M395.9 83.7h0M414.7 88.1h0M464.9 80.6h0M384 91.1h0M426.7 93.9h0M441.5 73.3h0M399.5 89.6h0M382.4 96.4h0M383.3 83.5h0M403.4 88h0M380.6 78.9h0M395.9 86.1h0M387.2 86.4h0M415.7 72.6h0M457 88.4h0M377.5 80.1h0M394.6 81.1h0M386.6 92.3h0M391.3 97.4h0M414 72.9h0M380.9 86.6h0M388.8 61h0M389.6 76.4h0M402.1 79.9h0M461.4 67h0M411.8 72.6h0M402.8 73.3h0M410 81h0M429.8 79.4h0M438.7 64.9h0M444.2 60.4h0M414.1 72.9h0M413.2 83.4h0M426.3 72.3h0M376 90h0M420.3 66.2h0M457 65.3h0M399.8 83.9h0M425.6 95.5h0M435.5 77.5h0M449.1 74h0M414.4 87.3h0M377.7 85.3h0M412.3 79.3h0M379.9 86h0M443.9 76.9h0M412 88.3h0M434 99.6h0M495.6 59.7h0M430 84.4h0M376.5 85.5h0M455.6 68.8h0M403.8 76.1h0M456.2 57.8h0M469.1 67.3h0M419.1 71.6h0M398.1 82.5h0M399.3 83.9h0M438 63.7h0M397.4 76.2h0M399.5 84.1h0M474 85.9h0M400.2 81.2h0M409.8 75.2h0M393.2 81.5h0M401.7 76.6h0M427.1 79.9h0M433.6 73.6h0M450.5 86h0M429.7 66.5h0M415.2 76.6h0M388.8 84.4h0M417.8 79.8h0M399.3 88.6h0M413.4 72.9h0M419.7 72.3h0M425.7 61h0M395.5 82.4h0M439.1 67.2h0M409 71.1h0M401.5 82.3h0M376.8 87.2h0M433.4 67.3h0M450.1 67.4h0M481.8 73.8h0M404 81.4h0M452.8 95.9h0M432.3 77.8h0M377.9 91.3h0M407.4 76.8h0M443 67.7h0M448.7 68.7h0M465.6 85.1h0M399.1 76.1h0M487.1 70.8h0M383 82.3h0M437.4 91.2h0M455.7 64.2h0M400 79.7h0M434 82.3h0M408.2 92.9h0M385.4 91.7h0M383.8 84.7h0M385.3 86.5h0M388.6 81.2h0M451.3 86.3h0M388.4 85.7h0M388.6 83.1h0M411.6 77.8h0M407.4 80.7h0M412.4 85.3h0M397.1 86.9h0M414.8 90.1h0M386.8 75.1h0M467 90.2h0M376.5 90.3h0M385.2 82.8h0M474.7 68.8h0M427.6 73.7h0M397.6 89.3h0M397.8 82.2h0M382.2 94.5h0M440.9 75.2h0M383.2 89h0M465.5 86.4h0M403 89.5h0M442.2 74.8h0M417.6 81.9h0M420.1 76.9h0M444.4 74.7h0M400.8 81.9h0M437.2 73.7h0M438.4 86.2h0M423.2 62.5h0M383.4 82.3h0M392 96h0M449.3 75.8h0M407.8 85.5h0M415.5 84.3h0M412.6 69.3h0M405.9 75.5h0M388.8 86.2h0M462.9 78.3h0M430 56.9h0M410.7 73.9h0M395.5 89.2h0M428.4 89.6h0M456.7 50.3h0M413.1 78.9h0M457.5 94.9h0M390 86.1h0M406.2 74.3h0M393.1 89.5h0M395.9 87.6h0M415.2 75.4h0M443.9 65.3h0M465.3 64.4h0M425.5 77.4h0M410.1 82.9h0M427 100.7h0M419.8 92.7h0M422 80.1h0M412.7 90.3h0M388.6 84.2h0M384.9 80h0M477.7 63.5h0M476.8 84.2h0M384.6 86.2h0M415.6 74.7h0M402.7 97.6h0M435.8 85.2h0M400.5 98.1h0M376.7 81.2h0M396.8 87.4h0M409.2 83.3h0M376.5 89.7h0M383.7 83.9h0M391.7 106.8h0M381.1 92.9h0M474.3 80.2h0M404.2 84.9h0M387.3 77.3h0M376.2 90h0M422.1 76.3h0M440.7 85.2h0M485.3 57.5h0M397.9 85.6h0M487.8 88.4h0M394 92.3h0M401.9 86.5h0M426.5 86.6h0M409 80.2h0M465.5 67.3h0M396.1 96.8h0M387.3 85h0M386.7 88h0M426 88h0M405.4 96.1h0M430.4 89.7h0M393.8 98.4h0M477.1 72.7h0M377 86.1h0M380 90.2h0M429.8 87.2h0M442.8 63.2h0M402.5 89.8h0M376.9 83.9h0M432.8 87.4h0M394.6 84.2h0M407.6 95.9h0M383.2 88.6h0M376.2 96.1h0M377.5 92.3h0M386.2 83h0M401.2 86.6h0M376.5 97.5h0M429.6 82.5h0M379.6 95.6h0M438.9 95.4h0M402.6 85.1h0M392.8 89.9h0M395.8 81.2h0M451 71.6h0M459.7 78.5h0M383.8 87.5h0M429.8 74.1h0M394.1 84.1h0M418.6 79h0M406.6 82.8h0M417.3 85.9h0M420.4 96.9h0M400.3 76.9h0M375.7 85.3h0M470.1 80.9h0M411.6 80h0M380.4 91h0M406 76.4h0M408.1 85.6h0M439.1 76.5h0M429.4 83.9h0M418.8 76.1h0M386.7 89.9h0M401.1 83.8h0M403.7 79.9h0M397.4 93.1h0M376.8 87.2h0M404.5 84.7h0M395.4 98.3h0M434.6 37.1h0M441.4 37.7h0M454.1 33.3h0M442.3 42.1h0M448.8 40.7h0M444.3 48.1h0M453.2 49h0M471.9 57h0M481.4 57h0M394 65h0M398.4 62.9h0M407.9 109.4h0M386 102.3h0M398.4 104.4h0" stroke="#c9c9c9" stroke-width="3.2" stroke-linecap="round" fill="none"/>
<path d="M363.8 88.9h0M374.5 94.6h0M367.9 84.2h0M370.7 83.5h0M362.3 84.3h0M360 90.8h0M367.1 91.8h0M372.5 90.8h0M374.1 89.1h0M373.9 93h0M361.5 85.2h0M359.8 94.3h0M363.5 95.5h0M374.1 98.1h0M371.5 88.5h0M371.9 86h0M366.2 89.7h0M369 84h0M372.3 82.7h0M365.2 86h0M365.5 82.8h0M367.1 90.6h0M366.6 85.8h0M363.8 89.3h0M369 85.8h0M365.4 88.4h0M361.4 89h0M362 90.2h0M370.8 85.3h0M366 86.1h0M360.5 94.7h0M359.1 89.5h0M371.4 88.2h0M374.4 87.5h0M363.2 86.2h0M373.4 86.1h0M368.1 91.6h0M368.7 86.9h0M362.8 85.1h0M359.1 94h0M375.1 89.9h0M371.8 87h0M366.2 85.5h0M374.3 87.1h0M369.8 91h0M359.3 88h0M368.2 87.9h0M373.2 85.3h0M365.8 86.8h0M372.5 85.8h0M364.3 93h0M370.2 82h0M373.8 79.9h0M372.4 89.8h0M365.7 87.4h0M374.8 83.4h0M375.3 94.9h0M367.3 82.6h0M373.4 82.5h0M372.7 85.8h0M371.8 88.1h0M371.3 84.9h0M374.6 83.7h0M360.2 92.1h0M370.2 88.2h0M362.1 84.3h0M361.9 89.4h0M372.6 78.7h0M361.5 85.5h0M364.4 91.6h0M363.8 91h0M374.4 84.4h0M358.5 90.3h0M363.8 86.9h0M359.4 93.9h0M361.1 84.6h0M371.8 89.3h0M361.4 86.2h0M360.6 87.8h0M361.8 91h0M367.8 90.3h0M372.2 81.5h0M368.8 85.8h0M369.2 84.8h0M359.2 86.2h0M366.4 87.4h0M363.9 82.8h0M368.7 85.7h0M362.1 87h0M372 83.9h0M364.3 86.4h0M373.1 100.4h0M359.7 88.2h0M360.3 88.3h0M375.3 93.4h0M373.3 80.9h0M372.6 87.3h0M374.6 83.1h0M363.8 90h0M358.9 89.9h0M367 87.1h0M369.2 84.1h0M363 89.5h0M366.6 100.3h0M360 86.8h0M367.6 87.2h0M360.4 88.6h0M359.8 92.5h0M375.1 86.4h0M369.3 84.1h0M366 86.7h0M366.9 83h0M364.9 91.8h0M365.4 95.7h0M360.5 89.4h0M359.9 86.6h0M369.3 88h0M359.5 88.6h0M366.2 95.9h0M366.8 93.7h0M366.5 90.2h0M374.7 87.5h0M367.4 89.8h0M359.2 91.7h0M367.8 89.2h0M366 88.2h0M375 93.3h0M373.8 93.8h0M360.4 85.8h0M365.2 87.7h0M361.4 87.9h0M361.3 88.4h0M374.8 88.5h0M374 85.2h0M371.3 87.1h0M374.1 70.3h0M367.3 76.2h0" stroke="#686868" stroke-width="3.2" stroke-linecap="round" fill="none"/>
<line x1="351.2" x2="509.4" y1="87.5" y2="87.5" stroke="#333" stroke-width="0.9"/>
<line x1="358.5" x2="496.9" y1="84.4" y2="38.6" stroke="#111" stroke-width="1.5" stroke-dasharray="5 4.7"/>
<line x1="358.5" x2="496.9" y1="97.8" y2="102.4" stroke="#111" stroke-width="1.5" stroke-dasharray="5 4.7"/>
<line x1="358.5" x2="496.9" y1="88.9" y2="73.7" stroke="#111" stroke-width="1.5"/>
<rect x="351.2" y="14.3" width="158.2" height="117.45" fill="none" stroke="#a6a6a6" stroke-width="1"/>
<text x="358.7" y="26.8" font-family="Liberation Sans" font-weight="bold" font-size="10" fill="#111">(c)</text>
<rect x="512.1" y="14.3" width="158.2" height="117.45" fill="#fff"/>
<path d="M540.9 91.8h0M569 92h0M540.5 85.5h0M616.7 107.3h0M592 126.6h0M618.5 97.8h0M546.8 110.7h0M622.6 110h0M572.5 96.5h0M603.9 109.5h0M604 107.7h0M605.7 89.1h0M595.1 104.8h0M603.2 108.2h0M594.8 102.9h0M589.2 95.4h0M545.1 88.6h0M574.1 101.9h0M540.2 90.4h0M542.1 97.4h0M548.6 97.2h0M545.9 89.5h0M652.9 112.5h0M588.5 91.8h0M576.4 106.1h0M576.2 70.7h0M588.8 96h0M583.7 97.9h0M570.6 100h0M540.2 97.5h0M600.7 103.3h0M603.5 98.1h0M577.7 105.4h0M545 96.5h0M572.7 104.1h0M592.8 111h0M547.2 91.8h0M548.3 94.4h0M537.8 89.3h0M591.9 84.3h0M563.3 99.4h0M638.1 103.5h0M597.5 86.3h0M583.5 99h0M649.1 103.7h0M546.2 94.2h0M583.6 83.9h0M541.3 95.9h0M542.3 102.4h0M549.8 93.7h0M596.3 91.6h0M556.6 92h0M597.1 90.3h0M607.6 104.2h0M582.3 107.4h0M587.5 84.5h0M565.2 104.3h0M631.6 99.9h0M588.9 103.2h0M575.4 84h0M562.5 86.9h0M620 99.8h0M575.8 86.4h0M539.8 93h0M550.2 92.7h0M589.1 108.1h0M546.9 87.8h0M559.2 89.9h0M538.9 88.1h0M553 86.1h0M543.3 95.6h0M536.9 93.5h0M553.3 89.3h0M554 94.7h0M563.7 84.3h0M579.6 90.5h0M551.2 90.7h0M573.3 90.5h0M561.2 104.2h0M592.9 104.5h0M579.1 95.1h0M593.9 101.3h0M574.7 104.6h0M545 98.8h0M560.2 92.1h0M563.9 94.2h0M542 85.6h0M581.3 100.5h0M585.7 92.3h0M560.1 87.9h0M581.5 109h0M583 79.3h0M570.3 82.7h0M548.5 89.9h0M538.1 90.8h0M545.9 91.8h0M537.5 92.1h0M583.6 89.2h0M542.1 93.5h0M608.5 101.8h0M550.5 103.6h0M549.3 95h0M576 86.9h0M550.1 93h0M571.9 96.9h0M572.8 94.1h0M576.3 93.9h0M549 85.2h0M544.3 83.5h0M577.6 94.7h0M602.1 112.2h0M597 126.1h0M557.1 111.9h0M625.9 106.6h0M553.9 94.7h0M550.5 91.4h0M555.6 119.2h0M588.8 105.4h0M548.6 93.5h0M556.8 90.1h0M553.2 98.8h0M564.7 102.1h0M609.4 101h0M587.6 89.1h0M584.5 120.2h0M582.4 103.4h0M545.4 98.9h0M607.3 95.8h0M547.4 102h0M605.8 98.1h0M560.6 92.9h0M615.7 91.9h0M611.2 108h0M620.1 100.3h0M588.9 88.3h0M575.5 100h0M582 94.2h0M585.9 99.2h0M577.5 95.2h0M553.7 104.8h0M587.4 103.2h0M571.2 102.7h0M595.6 90.6h0M538.4 89.2h0M550.3 92.8h0M555.3 95.5h0M579.5 93.9h0M609.3 91.4h0M570.2 102.2h0M546.6 93.9h0M544.9 89h0M578.5 96.2h0M574.2 108.2h0M541.4 92.4h0M593.2 100.1h0M573.6 104.3h0M553.6 85.3h0M588.1 106.1h0M576.3 95.8h0M571.2 84.3h0M583.5 87.9h0M553.9 89.9h0M551.4 100.7h0M583.4 97.2h0M558.6 104.9h0M565 80.6h0M564.5 98.5h0M602.6 95.5h0M556.6 90.1h0M617.9 111.5h0M566.1 86.8h0M554 89.8h0M553.9 97.8h0M539.5 90.5h0M586.3 97.6h0M539.4 99.6h0M547.4 90.2h0M618 99.8h0M554.2 91.8h0M617.4 112h0M593.3 91.3h0M557.9 84.5h0M601 88.9h0M557.6 98.8h0M548.3 95.2h0M560.9 96.7h0M562 92h0M593.9 93.4h0M608.6 94.2h0M551.9 96.3h0M583.7 91.9h0M539.6 85.6h0M613.3 97.7h0M588.3 108.9h0M555.2 90.1h0M540 92h0M547.5 83.5h0M578.9 96.3h0M570.3 91h0M551.9 92.6h0M567.5 86.6h0M587.1 108.9h0M561 100h0M571.3 93.6h0M590.3 94.4h0M553.1 97.9h0M570.6 93.7h0M584.9 93.2h0M574.5 87.8h0M559.6 102.7h0M543.1 92.2h0M567 86.3h0M562.3 94.4h0M632.3 106.7h0M537.7 82.3h0M549 85.1h0M568.7 90.1h0M577.7 92.6h0M547 90.4h0M578.8 107.3h0M536.4 87.5h0M542 89.7h0M543.9 92.9h0M546.4 95.8h0M605.8 94.6h0M552.1 97.7h0M588.9 104.3h0M539.2 86.8h0M653.1 97.1h0M567.8 91.2h0M620 99.6h0M585.2 108.5h0M581.9 108.9h0M559.9 92h0M546.3 98.1h0M589.8 92.9h0M611.9 108.5h0M586.4 91.4h0M539.7 91.7h0M586.9 97.9h0M595.1 101.2h0M629.5 105.7h0M599 90h0M566.5 103.1h0M536.7 88h0M588 117.2h0M540.9 98.1h0M562.2 101h0M542.4 91.1h0M607.2 97.9h0M628.5 111.6h0M571.3 101h0M614.9 95.2h0M550.5 86.5h0M568.6 96.3h0M570.8 98.2h0M563.4 94.7h0M608.4 102.4h0M603.4 100.6h0M656.9 112.3h0M543 86.6h0M582.9 109h0M587.6 104.2h0M621.3 121h0M590.1 106.1h0M579.8 101.7h0M572.3 80.4h0M602.8 107.8h0M564.1 107.1h0M537.5 89.8h0M563.3 104.6h0M554.3 88.9h0M554.1 87.9h0M616.1 96.2h0M550.7 91.5h0M572.5 81.8h0M580.4 97.1h0M544 96.7h0M569.2 90.2h0M565.6 90h0M571.5 89.1h0M577 99.9h0M582 88.7h0M541.9 90.5h0M542.2 88.4h0M575 89.4h0M594 92.8h0M573.2 105.6h0M578.3 108.3h0M595.3 95h0M574 92.8h0M564.6 86.5h0M552.1 89.8h0M545.3 90.4h0M556 106h0M582.9 95.7h0M608.2 101.4h0M574 87.9h0M589 106.7h0M571.9 106.6h0M579.3 86.5h0M554.4 92.8h0M579.3 93.9h0M559.8 100.7h0M577.7 104.1h0M574 100.8h0M547.6 96h0M620.3 108.8h0M582.9 104.6h0M550.4 82.5h0M556.9 81.3h0M592.2 96.1h0M548.2 94.9h0M648.8 106.3h0M585.4 90.2h0M554.2 98.4h0M615.3 116.3h0M584.1 108h0M613.7 126.5h0M542.4 98.4h0M593.5 96.5h0M609.9 89.3h0M583 99.8h0M584.7 96.5h0M549.1 84.1h0M559.1 93.4h0M554.4 93.9h0M542.1 100.9h0M589 114h0M615.2 110h0M590.4 96.3h0M578.7 97.1h0M592.1 110.1h0M546.4 106.1h0M595.3 93.1h0M595.3 100h0M560.4 89.2h0M558.1 86.5h0M588 95.3h0M546.8 85.3h0M600.1 92.9h0M555.6 84.4h0M589.1 90.2h0M591.1 88h0M587.1 100.6h0M573.2 92.4h0M565.7 92h0M565.5 99.4h0M565.3 108h0M547 99.3h0M582.1 96.9h0M575 88.4h0M565.5 89.7h0M649.4 101.9h0M560.7 109.9h0M546.1 99.1h0M550.8 93.5h0M557.4 89.6h0M566.3 110.2h0M543.3 89.7h0M623.4 95.5h0M544.5 87.3h0M542.5 87.5h0M568.8 87.7h0M550.7 94.1h0M584.2 85.4h0M609.2 124.9h0M577.3 114.2h0M550.6 99.1h0M576.3 96.3h0M556.5 96.2h0M559.8 92.1h0M571.3 101.4h0M553.9 89.7h0M575.5 88.2h0M589.8 91.1h0M569.2 80.4h0M562.2 91.7h0M572.3 101.6h0M558.9 86.6h0M597.3 99.9h0M547.3 89.5h0M628.4 104.7h0M575.3 101.4h0M596 106.2h0M559.5 87.4h0M583.4 95.4h0M547.9 91.3h0M562.8 102.3h0M586.1 116.7h0M587.2 88.8h0M545.2 93.1h0M573.8 98.8h0M543 94.1h0M589.5 93.9h0M585 97.1h0M555.6 89.4h0M559 92.4h0M594.6 98.8h0M558.4 98h0M538.5 91.7h0M550.8 89.1h0M591.1 85.8h0M557.2 104.2h0M583.6 92.9h0M607.1 90.1h0M537.8 88.8h0M570.2 106.2h0M548.6 90.3h0M578.8 93.4h0M577.8 95.7h0M571.5 91.6h0M585.5 99h0M582.9 94.9h0M548.6 82.8h0M574.5 94.3h0M575.6 111.7h0M556.3 100.9h0M543.8 103.1h0M547.9 87.9h0M636.5 104.4h0M541 104.8h0M578.7 102.2h0M553 89.4h0M539.2 84.4h0M560 91.7h0M556.2 92.4h0M584.1 100.8h0M577.2 96.1h0M540.9 88.3h0M561.4 99.7h0M577.7 99.7h0M562.7 89.3h0M611.5 107.8h0M624.3 96.2h0M606.1 96.3h0M603.5 99.7h0M556.5 90.7h0M545.5 95.5h0M602.7 110.9h0M565 101.8h0M553 99.7h0M612.3 99.3h0M543.3 102.1h0M568.3 89.9h0M585 96.7h0M555.9 95.9h0M572.3 100.4h0M572.9 94.3h0M548.2 92.1h0M649.9 109.6h0M562 94.4h0M564.3 104.7h0M561.3 101.3h0M544.6 85.3h0M617.9 118.7h0M547.2 92.9h0M556.9 90.4h0M553.6 96.5h0M559.3 96.5h0M546.4 93.6h0M597.8 93.9h0M552.9 101h0M548.1 97.9h0M566.6 94.7h0M546.3 105.1h0M590.5 97.3h0M553 84.6h0M560.5 107.2h0M564.7 100.4h0M604.1 119.3h0M542.8 93.2h0M547.5 94.3h0M537.8 93h0M544.3 87.6h0M551 82.3h0M542 81.9h0M565 108.9h0M561.1 95.9h0M582.5 98h0M611.9 95.8h0M559.2 90.3h0M610.3 97.2h0M563.3 109.4h0M575.6 103h0M618.5 114.5h0M580.7 101.4h0M558.1 97h0M568.6 97.7h0M614.7 109.8h0M568.1 98.3h0M539.2 99.3h0M623.8 104.1h0M581.7 92.3h0M547.2 90.7h0M538.4 93.5h0M553.6 82.6h0M573.3 100.9h0M579.5 99.2h0M550.3 90.4h0M593.3 109.6h0M578.9 98.4h0M591.7 80.7h0M565 89.8h0M600.6 96h0M590 108.5h0M603.2 103.9h0M590.4 88.1h0M575 89.6h0M578.3 85.4h0M581.9 93.3h0M575.4 95.1h0M569.4 82.9h0M579.9 105.7h0M576.9 92.6h0M611.7 96.8h0M571.2 94.2h0M563.1 88.7h0M551.6 99.6h0M602.8 103.7h0M538.6 97.6h0M625.8 109.2h0M548.8 97.7h0M572 103h0M583.6 90.4h0M621.6 103.6h0M554.1 84.9h0M621.1 118.7h0M556.5 95.5h0M568.8 100.7h0M550.2 96.8h0M574.2 84.8h0M608 104.5h0M573 106.9h0M584.4 112.3h0M560.1 92.5h0M573.4 97.5h0M618.1 96h0M641.2 111.7h0M540.1 99.8h0M574.8 107.3h0M576.2 104.7h0M581.9 111.2h0M615.7 104.8h0M539 93.4h0M545.1 94h0M544.2 96.3h0M543.6 88.6h0M551.6 90.3h0M607.4 87.9h0M582.2 120h0M608.7 94.4h0M552.4 89.9h0M565 92.1h0M595.3 87.8h0M544.4 90.5h0M585.5 108.7h0M590.6 110.2h0M601.4 101.8h0M594.6 117h0M611.8 84.6h0M594.1 94h0M553.2 96.4h0M556.2 109.6h0M548.5 103.2h0M585.1 83.2h0M560.9 94.1h0M586.6 94.7h0M552.9 86.7h0M606.8 108.8h0M570.5 75.5h0M573.8 90h0M621.1 98.4h0M627.6 100.7h0M584.6 104h0M559.6 97.7h0M572.7 93.6h0M606.3 121.9h0M601.8 106.1h0M554 88.3h0M613.1 99.7h0M579 89.5h0M621.9 110.4h0M567.8 103.6h0M548.6 92.1h0M598.8 104.9h0M548.2 85.8h0M537.5 90h0M571.9 86.7h0M538.2 88.8h0M556.4 87.9h0M570.1 95.8h0M582.8 101.3h0M629.8 101.1h0M559.7 88.3h0M551.6 97.5h0M574.8 104h0M582.3 89.4h0M558.2 98h0M584.4 95.3h0M572 99.4h0M549.6 82.1h0M577.8 94h0M551.1 93.8h0M618.4 119.1h0M568.3 101h0M590.3 90.5h0M569.1 86.2h0M587.7 105h0M558.6 90.3h0M625.9 99.1h0M581.5 88.4h0M565.7 85.5h0M634.9 95.8h0M588.6 90.7h0M609.9 97.9h0M582.7 96.3h0M586.6 114.3h0M586.4 95.5h0M595 89.7h0M555.4 85.2h0M615.6 97.4h0M537.7 83.3h0M633.3 97.3h0M614.5 96.3h0M564.8 98.4h0M567.2 95.2h0M587.7 92h0M557.2 86.9h0M541.4 96.1h0M537.8 90.2h0M574.3 100.2h0M634.7 97.5h0M548.8 95.5h0M545 91.9h0M592.9 119.4h0M540 93.6h0M544.7 97.9h0M576.3 86h0M563.3 91h0M587.7 116.8h0M612.8 100.3h0M546 83.9h0M563.2 86h0M589 96.7h0M577.6 90.5h0M555 73.3h0M615.1 73.3h0M568.3 119.2h0M559.4 114.7h0" stroke="#c9c9c9" stroke-width="3.2" stroke-linecap="round" fill="none"/>
<path d="M532.2 89.2h0M523.5 84.7h0M532.2 85.8h0M523 87.2h0M529.7 83.4h0M521.9 92h0M522.1 87.7h0M521.1 88.6h0M533.1 90.9h0M528.1 93.9h0M523.8 82.1h0M528.4 86.8h0M534.2 88.6h0M526 84.5h0M520.6 85.9h0M528.4 92.1h0M525 87.8h0M534.4 98.5h0M527.6 88.8h0M519.9 87.1h0M530.9 94.6h0M522.2 94.2h0M524.1 85.5h0M525.5 87.6h0M529.4 92.8h0M530.4 94.5h0M520 95.1h0M531.7 89.1h0M527.4 91.1h0M534.7 97.9h0M527.1 95.9h0M529.7 91.1h0M524.8 85.8h0M526.3 89.8h0M526.7 91.9h0M533.8 87.7h0M534.9 90.5h0M535.3 88.3h0M534.8 82.3h0M521.2 87.6h0M522.3 90h0M535.8 86.4h0M520.9 93.1h0M525.2 90h0M532.4 97.4h0M521.1 88.4h0M523.8 84.7h0M532 84.2h0M520.9 85.9h0M527.3 91.1h0M529.2 88.9h0M534.1 94.1h0M535.1 86.5h0M527.6 92.8h0M521.1 88.4h0M527 89.6h0M528.7 87.2h0M530.7 86.3h0M525.6 87.2h0M524 84.8h0M535.7 88.9h0M535.6 93.9h0M536.2 96.3h0M531.2 84.8h0M522.4 86.3h0M521.9 87.6h0M527.2 91.5h0M532 96.8h0M535.5 89.5h0M535.2 93.4h0M535.7 104h0M522.9 95.7h0M535.1 89.6h0M524 90.2h0M526.3 92h0M536.3 89.2h0M521.6 90.3h0M528.6 90.2h0M535.9 86.3h0M534.6 93.8h0M534.6 89.1h0M527.6 85h0M522.7 89.6h0M526.4 91.3h0M532.3 89.5h0M524 87.2h0M525.9 85.1h0M523.5 89.1h0M534.8 89.1h0M533.5 89.7h0M525.3 85h0M528.4 88.8h0M526.2 85.3h0M532.3 84h0M521.9 89.6h0M531.5 93.5h0M534.6 89.8h0M531.4 90.2h0M529.3 88.9h0M520.2 88.5h0M534.1 85.5h0M522.7 86h0M519.7 90.2h0M536.3 86.2h0M531.5 89.1h0M526.5 85.2h0M532.9 93h0M525.4 90.4h0M534 92.4h0M520 86h0M524.2 89.1h0M531.9 90h0M528.6 91.5h0M535.8 91.5h0M526.2 84.2h0M536 93.7h0M534.8 89h0M519.5 91.3h0M522.2 89.8h0M533.7 85.6h0M523 96.7h0M521.4 89.1h0M529.2 91h0M525.6 104h0M533.3 88.8h0M533.5 98.2h0M522.9 91.6h0M530.5 97.3h0M524.2 92.8h0M525.6 87.9h0M527.1 84.7h0M531.2 88.6h0M529.3 95.7h0M532.7 90.3h0M536.2 87h0M532.8 88.3h0M525.6 94.6h0M527.9 87.9h0M527.3 96.5h0M533.9 97.4h0M522.1 93.1h0M528.4 85.1h0M532.4 89.3h0M536.2 97.1h0M536.1 94.7h0M524.3 86.9h0M533.6 88.1h0M530 85.5h0M530.5 90.3h0M530.5 93.3h0M530.8 84.9h0M526.4 93.2h0M527.9 90.4h0M520.7 89.9h0M528.3 71.8h0" stroke="#686868" stroke-width="3.2" stroke-linecap="round" fill="none"/>
<line x1="512.1" x2="670.3" y1="87.5" y2="87.5" stroke="#333" stroke-width="0.9"/>
<line x1="519.4" x2="657.8" y1="79.7" y2="89.1" stroke="#111" stroke-width="1.5" stroke-dasharray="5 4.7"/>
<line x1="519.4" x2="657.8" y1="100.3" y2="127.5" stroke="#111" stroke-width="1.5" stroke-dasharray="5 4.7"/>
<line x1="519.4" x2="657.8" y1="87.9" y2="105.4" stroke="#111" stroke-width="1.5"/>
<rect x="512.1" y="14.3" width="158.2" height="117.45" fill="none" stroke="#a6a6a6" stroke-width="1"/>
<text x="519.6" y="26.8" font-family="Liberation Sans" font-weight="bold" font-size="10" fill="#111">(d)</text>
<rect x="29.3" y="134.7" width="158.2" height="117.45" fill="#fff"/>
<path d="M141.1 221.3h0M100.1 204.9h0M89.4 207.1h0M115.6 222.2h0M116 191.9h0M75.3 209.7h0M100.1 204.4h0M167.1 202.8h0M96.3 202.6h0M122.1 222.3h0M80.8 204.2h0M97.8 215.5h0M146.8 215.1h0M83.4 205.5h0M106.6 207.7h0M120.2 217.6h0M84.3 203.3h0M86.9 209h0M160 213.6h0M117 202.9h0M91.5 209.4h0M83.4 204.7h0M83.2 204.8h0M116.9 218.3h0M111.1 212.3h0M79.2 202.8h0M79.2 210.6h0M110.3 205.2h0M137.8 211.9h0M87.8 220.7h0M83.1 205h0M109 200h0M110.4 214.5h0M98.7 199.5h0M78.2 205.7h0M118.9 216.4h0M103.7 219.3h0M121 229.4h0M82.6 206.5h0M81.3 213.1h0M93.6 224.3h0M113.5 196h0M78.8 202.5h0M147.3 214.7h0M156.4 203.6h0M106.8 199.6h0M174.8 210.2h0M110.1 205.1h0M93 212h0M113.8 230.3h0M90.9 209.3h0M136.5 194.7h0M73.4 200.7h0M132.4 214.2h0M137.3 215.7h0M91.8 214.8h0M98.9 207.8h0M89.1 216.2h0M106.4 216.5h0M175.5 214.4h0M84.2 208.5h0M94.3 221.9h0M70.7 206h0M98.2 205.4h0M119.4 209.2h0M71.1 205.2h0M107 217.6h0M130.4 210.7h0M91.1 210.1h0M171.5 206.4h0M79.2 204.5h0M91 209.1h0M87.6 208h0M100.8 210.3h0M73.9 202.8h0M99.7 202.9h0M133.6 213.1h0M75.2 215.8h0M75 211.5h0M84.9 215.1h0M109.4 203.9h0M77.9 208.1h0M97.4 209.2h0M89 200.1h0M107.4 201.7h0M93.5 215.7h0M92.4 212h0M109.2 221.3h0M89.1 214.1h0M94.2 197.9h0M105.1 206.3h0M147.1 199.6h0M96.2 211.1h0M101.2 214.8h0M128.2 211.6h0M83.8 212h0M72.7 206.3h0M86.5 202.7h0M140.1 211.2h0M140.7 213.5h0M89.8 204.2h0M89.1 201.6h0M142.6 213.8h0M120.7 216.2h0M107.2 217.3h0M111.8 208.3h0M136.6 208.9h0M103.1 206.3h0M74.6 198.9h0M73.9 212.4h0M145.6 202.7h0M103.9 219.3h0M107.5 202h0M97.2 213.5h0M100.8 210.8h0M81 210.5h0M84 201.2h0M90.6 217.2h0M104.8 216.6h0M84.4 214.5h0M72.6 207.7h0M122.3 223.4h0M107.7 192.5h0M71.8 213.5h0M84.1 214.9h0M121.6 218.5h0M82 194.8h0M99.5 217.3h0M97.5 204.8h0M113.2 213.6h0M93.8 199.2h0M94.5 218.9h0M103.9 212.7h0M111.4 214.3h0M152.1 218.6h0M101.5 246.2h0M114.7 207.1h0M103.2 205.8h0M92.9 214.3h0M116.6 228.4h0M104.4 208.4h0M122.4 208.6h0M96.4 219.6h0M131.4 201.4h0M70.9 201.7h0M118.6 218.9h0M93.4 213.1h0M91.8 212h0M93.2 210.2h0M103.4 203.8h0M85.8 201.2h0M155.6 222.4h0M171.2 214.9h0M79 206.7h0M110.3 212.3h0M88.3 204.5h0M125.1 208h0M105.1 212.5h0M87.5 225.9h0M110.3 216.2h0M133.3 215.6h0M74.2 207.8h0M70.9 212.9h0M134.5 210.5h0M102.6 206.8h0M81.3 210.8h0M96 206.5h0M105.8 205.7h0M111.2 214.4h0M83.3 207.9h0M76.6 207h0M102.1 203h0M90.1 206.5h0M143 204h0M80.6 206h0M74.1 206.5h0M133.3 215.1h0M104.5 201.1h0M105.8 214.9h0M83.9 207.8h0M127.9 223.8h0M91.7 215.3h0M114.7 220.5h0M88.7 204.9h0M80.4 215.1h0M122.8 203h0M104.7 211.4h0M120 203.4h0M74.6 197.2h0M93.9 209.1h0M169.1 209.4h0M119.5 201.2h0M122.1 214.8h0M102.6 201.7h0M77 206h0M110.9 214.8h0M91.5 204.7h0M112.5 202.4h0M90.9 215.8h0M92.9 204.2h0M91 194.1h0M126.1 210.4h0M141.2 206.7h0M111.9 230.9h0M128.6 209.1h0M98.6 208.4h0M70.5 216h0M101.2 206.6h0M138.1 206.9h0M132.4 218.1h0M112.5 207.9h0M102.6 199h0M71.6 214.1h0M93.5 209.1h0M132.8 211.3h0M81.2 211.8h0M89.5 217.5h0M90.7 211.6h0M85 215.4h0M103.6 218.1h0M116.7 202.6h0M108.3 202.8h0M96.2 214.9h0M100.2 220.2h0M107 228.8h0M81.6 215.6h0M94.5 207.8h0M94.2 209.1h0M81.1 203.3h0M93.3 203.1h0M101.7 208.3h0M99.2 208.8h0M95.9 204.6h0M117.4 207.1h0M74.7 208.5h0M104.9 206.6h0M104.3 219.3h0M99.4 202.1h0M80.1 205.1h0M149.9 220.6h0M93.7 194.3h0M115 219h0M78.3 215.1h0M75.4 216.4h0M126.2 224.5h0M88.8 202.2h0M124.9 218.8h0M110.9 221.7h0M71.2 208.9h0M150.5 217.6h0M96.4 212.2h0M73.3 204.3h0M115.4 209.1h0M83.5 220.1h0M103.8 205.3h0M117.1 222.1h0M92.4 204.7h0M108.1 201.9h0M72.8 206.3h0M77.2 208.1h0M150.3 215.8h0M88.5 223.1h0M90.1 204.4h0M124 210.5h0M87 202.8h0M152.6 227h0M107.4 205.1h0M72.4 214.7h0M77.1 208.9h0M84.3 214.3h0M84.8 196.5h0M103.4 217.8h0M116.5 206.5h0M108.6 212.4h0M117.9 231.3h0M114.2 213h0M76.8 222.5h0M142.5 208.8h0M79.2 210.8h0M110 212.9h0M78.3 202.3h0M87.8 224.7h0M93.3 205.6h0M73.6 209.1h0M118.3 217.6h0M109.5 202.6h0M120.5 225.4h0M95.9 207.4h0M93.4 224.1h0M79.8 212.5h0M124.6 216.3h0M112 219.6h0M172.3 220.6h0M70.5 208.4h0M95.4 219.3h0M74.8 211.3h0M73.7 208.8h0M86.3 216.7h0M76 207.3h0M108.3 219.1h0M165.1 215.4h0M85.8 208.1h0M112.5 219.5h0M75.2 212.8h0M111.5 215.2h0M76.2 205.7h0M84.7 209h0M131.2 232.6h0M78.9 214.6h0M73.9 200h0M163.9 215.9h0M77.7 208.9h0M117.6 228.2h0M123.3 200.2h0M113.1 216.1h0M87.1 222.9h0M133.8 206.7h0M96.5 211.9h0M89 205h0M86.7 207h0M72.7 209.7h0M106.4 209.3h0M109.8 218.6h0M103.5 207.4h0M108.1 194.1h0M175 208.9h0M112.9 209.9h0M118.1 224.6h0M133.3 206.1h0M72.6 209.3h0M96.9 201.6h0M77.5 210.2h0M125.7 211h0M106.8 204.7h0M72.6 206.4h0M90.7 199.6h0M143.9 215.4h0M113.7 208.1h0M74.6 201.6h0M98.1 210.9h0M81.5 200.4h0M111.6 220.1h0M84 215.7h0M100.8 210.9h0M156.2 210h0M104 208.3h0M84.2 213.7h0M134.4 217.1h0M105 206h0M112.4 203h0M129.2 205.7h0M105.3 210.4h0M72.7 204.3h0M111.7 205.4h0M102.6 208h0M94.4 198.6h0M109.2 210.6h0M123.6 218.5h0M92.2 219.3h0M75.3 213.4h0M95.1 203.4h0M91.3 209.3h0M103.9 208.2h0M73.3 215.5h0M164.8 207.6h0M76 210.9h0M100.9 203.8h0M124 214.2h0M116.9 228.7h0M159.3 220.9h0M158.8 213h0M77.8 220.5h0M101.6 202.8h0M95.9 206.6h0M90.5 218.2h0M85.6 213h0M130.1 224.8h0M85.9 214.1h0M83.5 200.5h0M77.6 201.9h0M77.4 211.1h0M78.3 237.5h0M127.9 212.3h0M85.1 206.8h0M113.3 204h0M89.2 210.3h0M125.3 224.7h0M133.6 215.8h0M113.4 202.8h0M125.3 217.1h0M165.2 220.9h0M139.5 213.7h0M72.3 205.7h0M104.3 209.4h0M114.4 220.9h0M127.8 212.5h0M81 207.2h0M71.2 206.7h0M78.9 218h0M114.1 187.7h0M97.4 189.4h0M85.3 207.9h0M90.2 210.3h0M73.3 204.3h0M137 203h0M113.7 214h0M88.1 188.9h0M116.9 221.2h0M85.8 213.5h0M98.1 207.3h0M85.1 212.9h0M111.1 220.4h0M118.5 209.1h0M73 208.4h0M86.8 210.7h0M91.7 209.8h0M100.2 208h0M96.7 205.5h0M101.4 211.9h0M101.9 208.5h0M97 203.1h0M72.1 206.8h0M108.3 211.2h0M104.9 207.7h0M101.1 227.1h0M76.6 211.7h0M107.6 206.7h0M115.4 218.7h0M73.3 213.4h0M111.7 231.2h0M83.2 212.8h0M92.6 195.1h0M112.8 205.2h0M85.8 223.3h0M87.6 211.2h0M85.6 207.9h0M89.4 209.9h0M126.1 222.6h0M86.7 216.3h0M157.5 221.8h0M126.9 201.4h0M123.3 214.2h0M96.4 201.2h0M70.9 209h0M95.6 200.5h0M97.8 218h0M115.9 208.7h0M74.1 203.8h0M95.7 208.6h0M86.3 209.3h0M79.8 209.5h0M161.5 211.2h0M87.4 210.1h0M85.6 221.1h0M99.9 206h0M130.9 207.2h0M103.4 215.5h0M85 213.9h0M72.9 202h0M93.1 228.2h0M128 200.9h0M79.9 203.7h0M77.5 215.6h0M95.9 195.5h0M96 208.2h0M82.1 218.7h0M78.2 216.5h0M148.8 223.2h0M100.8 210.9h0M122.2 214.7h0M80.4 203h0M77.2 211.6h0M91.5 209.3h0M115.8 203.5h0M101.7 199.1h0M132.9 209.5h0M89.7 213.1h0M147.2 197.6h0M129 207.3h0M130 221.9h0M87.9 214.8h0M77 207.2h0M109.9 196h0M127.8 222.7h0M99.6 226.6h0M120.6 215.2h0M104.9 214.3h0M101.9 208.1h0M79.6 206h0M85.5 200.9h0M77.9 215.4h0M91.2 212.9h0M79 204.3h0M122.1 227h0M82.5 212.6h0M130.6 206.4h0M113.1 213.5h0M126.9 217.2h0M95.2 210.3h0M117.2 209h0M124.1 209.2h0M74.5 208.7h0M72.6 217.2h0M97.3 224.5h0M97.2 208.8h0M159.7 214.4h0M106.5 216.2h0M118.2 214.9h0M71.8 181h0M132.2 182.7h0M85.8 237.2h0" stroke="#c9c9c9" stroke-width="3.2" stroke-linecap="round" fill="none"/>
<path d="M49.1 210h0M45.7 213.9h0M62.1 209.3h0M67 208.3h0M38 208.3h0M68.9 213.5h0M58 208.3h0M68.5 209.7h0M62.6 206.8h0M47.2 211h0M58.7 208.5h0M70.1 210.3h0M40.9 211.1h0M59.5 210.8h0M40.7 203.8h0M62.3 212.4h0M66.9 212.9h0M54.3 205.7h0M41.7 208h0M57.2 206.9h0M38.8 205.6h0M61.5 203.2h0M50 202.4h0M55.9 212.4h0M61.3 203.9h0M50.6 205.4h0M48.6 207.7h0M54.1 206.2h0M50 205.9h0M62.7 206.6h0M62.5 205.3h0M65.2 204.6h0M53.2 208.3h0M69.9 219.8h0M47.2 208.4h0M66 207.3h0M46.4 200.6h0M60.3 214.5h0M63.1 209.6h0M62.7 211h0M48.8 211h0M39.1 208.4h0M42.1 207.3h0M50.5 208.5h0M56.9 210.7h0M63.9 216.8h0M43.3 209.3h0M67.1 204.5h0M63.1 208.2h0M45.3 205.1h0M59.8 217.4h0M62.6 206.1h0M57.3 213.9h0M68 209h0M42.7 207.3h0M57.6 206.4h0M59.8 213.5h0M45 208.1h0M38 208.3h0M39.3 207.2h0M68.7 203.8h0M60.5 210.1h0M43.7 209.5h0M66.5 208.4h0M51.7 205.8h0M58.2 212h0M39 206h0M58.5 206.7h0M57.2 209.7h0M47.5 214.6h0M44.1 205.6h0M56.9 203.3h0M38.3 206.3h0M54.5 208.3h0M58.4 212h0M56.4 215.9h0M38.4 207.6h0M69.4 207.5h0M50.1 207.3h0M69.8 208.5h0M48.4 209.6h0M52.2 208.2h0M39.8 207.8h0M52.5 207.1h0M57.9 212.6h0M69.5 203.8h0M64.4 210.3h0M61.6 218.7h0M38.2 207.7h0M45.9 207.4h0M55.8 207.6h0M41 208h0M57.8 216.3h0M68.1 214.5h0M55 217.3h0M50.9 202.1h0M55.4 210.1h0M42 212.7h0M37.6 207h0M50.5 209.5h0M38.9 205.3h0M42 203.2h0M47 209h0M64.5 205h0M47.1 211h0M51.5 209.1h0M45.1 206.5h0M40.7 207.2h0M42 204.2h0M51.9 213.4h0M44.2 209.1h0M53.8 202.5h0M68.1 206.2h0M60.9 212.1h0M69 211.2h0M64.4 219.9h0M57.8 213.2h0M47.8 200.6h0M55.9 208.6h0M54.3 206.6h0M48.7 207.2h0M61.3 206.5h0M67.1 216.1h0M55.7 210.9h0M64.3 207.9h0M70.1 210.7h0M52.5 208.6h0M54.4 202.2h0M59.3 212.3h0M67.4 198.8h0M70.1 208.7h0M63.6 212.8h0M59.5 207.8h0M68.2 207.5h0M39.8 199.1h0M59.2 202.7h0M54.6 209.2h0M51.6 208.1h0M58.1 207h0M59.8 211.1h0M60.3 215.7h0M53.2 209.3h0M63.2 206h0M45.6 205.4h0M37.5 206.5h0M52.8 211.8h0M60.2 202h0M37.8 209.1h0M49.6 211.6h0M52.5 200.3h0M65.3 206h0M67.1 206.2h0M52.9 198.9h0M37 207.6h0M58.8 203.4h0M62.9 206.8h0M63.9 207.6h0M50.3 212.7h0M61.5 214.8h0M46 204.8h0M52.1 203.8h0M58.3 207.4h0M68.6 213.2h0M56.1 199.3h0M64.2 213.8h0M38 211.1h0M59.5 204.5h0M62.2 214.7h0M40.5 212.4h0M58.8 204.7h0M61.1 206.8h0M57.4 209.5h0M60.9 197.3h0M58.3 214.5h0M65.9 214.2h0M58.6 207.1h0M67.9 209.2h0M50 202.4h0M60.2 211.6h0M56.7 209.1h0M58.5 207.6h0M52.3 211.3h0M47.3 207h0M58.2 210.2h0M67.4 210.4h0M44.7 211.6h0M60.5 211.1h0M59.2 211.9h0M51.5 215.2h0M58.1 202.4h0M68.8 205.6h0M56.4 212h0M49.3 215.4h0M43.4 209.4h0M54.3 209.1h0M42.1 206.3h0M54.1 210.8h0M43.4 205.6h0M50.6 209.6h0M52.3 209.5h0M51.8 207.4h0M45.9 206.7h0M43.9 208.5h0M45.1 207.6h0M55.3 219.9h0M49.3 214.8h0M51.8 210.7h0M51.4 208.6h0M39.7 208.1h0M37.7 207.5h0M63 207.8h0M57.5 204h0M65.1 211.2h0M68.6 219.2h0M62.3 211.8h0M64.8 209.3h0M39.1 210.7h0M57.4 200.4h0M42.8 205.5h0M37.8 206.3h0M68.7 210.4h0M43 202.9h0M42.2 203.4h0M57.6 208.3h0M45.7 207.9h0M52.5 211.8h0M69.6 206.9h0M47 205.1h0M62.3 209.8h0M64.7 208.4h0M59.7 213.9h0M52.1 210.5h0M67.7 214.8h0M45.7 211.7h0M55.1 210.4h0M43.5 209.4h0M49.1 198.5h0M49.9 207.6h0M58.5 200.1h0M58.4 208.5h0M67.8 208.9h0M61.9 213.1h0M41.2 207.6h0M61.4 205.7h0M62.9 206h0M60.2 206.2h0M47.6 209.5h0M36.7 201.4h0M67.6 219.1h0M48.8 206.8h0M63.7 209h0M63.1 208.7h0M59.1 198.5h0M67.2 209.2h0M69.5 206.3h0M55.9 207.1h0M59.9 208h0M62.1 209.1h0M69.2 208.4h0M60.3 209.2h0M38.9 202.6h0M68.2 216.3h0M37 209.1h0M52.5 213.9h0M48.7 214.2h0M53.1 205.7h0M38.7 208.3h0M41.2 206.8h0M53.5 203h0M50.8 219.9h0M42.5 209.9h0M66.3 212.4h0M47.4 206.7h0M68 210.7h0M48.5 209.2h0M48 214.1h0M47 207.5h0M55.4 214.3h0M66.9 197.7h0M56.3 210.6h0M47.3 202.9h0M39.5 212.4h0M36.9 204.9h0M66 201h0M56.9 207.1h0M67.4 206h0M43.9 205.1h0M67.9 217.1h0M57 210h0M44.9 207.5h0M54.1 209.1h0M68 218.7h0M52.3 185.4h0M45.4 193.2h0" stroke="#686868" stroke-width="3.2" stroke-linecap="round" fill="none"/>
<line x1="29.3" x2="187.5" y1="208" y2="208" stroke="#333" stroke-width="0.9"/>
<line x1="36.6" x2="175" y1="198.6" y2="193.9" stroke="#111" stroke-width="1.5" stroke-dasharray="5 4.7"/>
<line x1="36.6" x2="175" y1="216.1" y2="233.6" stroke="#111" stroke-width="1.5" stroke-dasharray="5 4.7"/>
<line x1="36.6" x2="175" y1="207.4" y2="214.4" stroke="#111" stroke-width="1.5"/>
<rect x="29.3" y="134.7" width="158.2" height="117.45" fill="none" stroke="#a6a6a6" stroke-width="1"/>
<text x="36.8" y="147.2" font-family="Liberation Sans" font-weight="bold" font-size="10" fill="#111">(e)</text>
<rect x="190.2" y="134.7" width="158.2" height="117.45" fill="#fff"/>
<path d="M268.1 217.9h0M270.4 206.2h0M282.4 212h0M233.2 216.6h0M252.2 215.4h0M234.7 212h0M256.3 215.9h0M236.5 215.7h0M266.2 225.8h0M277.1 217.8h0M244.9 207.6h0M256.7 220.5h0M233.7 203.2h0M234.4 199.4h0M238.8 214.7h0M232 203.7h0M259.5 222.4h0M281.1 207.6h0M266.6 210.3h0M249.1 217.4h0M260.3 218.7h0M259.7 219.6h0M234.2 204.8h0M241.3 212.7h0M281.7 216.2h0M283.1 205.5h0M271.7 224.9h0M266.7 211.8h0M236 210h0M296.1 203.3h0M234.7 219.3h0M254.7 220.6h0M289.5 232.5h0M305.9 214.1h0M241.9 208.4h0M269.1 220.8h0M251.7 204h0M241.7 205.4h0M256.4 205.3h0M252 215.8h0M333.7 217.5h0M236.1 219.9h0M248.3 217.3h0M231.8 209h0M257.8 199.7h0M265.8 222.2h0M248.8 214.9h0M248.5 205.1h0M233.8 230.3h0M275.3 216.6h0M266.2 205.4h0M275.8 212.3h0M292 222.9h0M282.6 215.3h0M238 201.7h0M299 221.1h0M238.1 210.1h0M279.4 205.6h0M243.5 210.8h0M271.2 214h0M246.3 211.8h0M243.6 221.5h0M281.5 216.3h0M293.7 209.9h0M262.5 196h0M252.2 210.3h0M273.4 223.6h0M233.4 212.2h0M286.4 222.2h0M271.3 210.5h0M274.4 209.7h0M242.1 211.1h0M295.6 206.1h0M243.1 212.1h0M293.9 226.6h0M256.8 218.8h0M259.6 199.4h0M286.7 217.5h0M250.7 208.4h0M240.8 210.7h0M275.4 218.7h0M241.8 204.8h0M244.7 217h0M232.8 205h0M300.1 214.9h0M258.9 227.2h0M242.5 214.8h0M245.8 211.4h0M234 207.6h0M264.5 207.5h0M307.3 211h0M248.3 211.5h0M254 219.1h0M269.5 211.1h0M291.7 223h0M282.3 204.9h0M312.9 213.4h0M237.2 217.3h0M232.5 202.5h0M257.5 217.5h0M280.7 218.2h0M248.8 219.7h0M269.4 214.9h0M253.4 215.1h0M291.7 214.6h0M263.2 212.4h0M235.8 213.6h0M244.2 213.2h0M262.2 214.8h0M232.6 222.1h0M255.3 206h0M233.9 209.9h0M265.9 219.1h0M254.6 205.3h0M286.7 208.4h0M232.5 201h0M266.5 211.4h0M279.8 215.7h0M263 224.1h0M292.1 210.7h0M303.9 219.3h0M231.4 214.8h0M277.4 219.7h0M283.9 220h0M247.1 213.3h0M270.3 199.6h0M253.1 201.7h0M243.2 220.1h0M243.9 210.3h0M263.3 206.2h0M235.7 204.1h0M288.3 214.2h0M266.8 204h0M301.6 218.6h0M245.9 204.6h0M268 209.9h0M278.1 203h0M246.2 210.8h0M262.7 218.6h0M304.9 221.3h0M250.5 215h0M247.2 210h0M245.4 210h0M245.1 225.3h0M268.6 208.6h0M245.9 204.4h0M274 205h0M278.1 210h0M267.5 210.1h0M257.3 205.4h0M261.3 218h0M239.7 219h0M323.6 220.4h0M271.6 208.2h0M241.7 206.7h0M278.2 225.4h0M255.2 212.7h0M237.8 206.5h0M270.1 218.6h0M252.4 213.4h0M257.1 201.2h0M235.1 213h0M234 220.5h0M247.9 204.3h0M294.4 209.8h0M246.9 209h0M268.6 219.9h0M276.3 200.7h0M281 212.1h0M263.6 201.1h0M255.5 210.1h0M287.7 207.6h0M280.7 218.6h0M271.7 208.7h0M282.9 220.8h0M255.9 208.7h0M313.5 213h0M292.7 230h0M292.9 214.5h0M266.8 200.1h0M248.5 202.6h0M284.8 214.1h0M243.1 210.6h0M262 205.4h0M254.8 216.8h0M234 213.2h0M249.8 200.4h0M270.4 217.3h0M251.3 203.2h0M254 224.1h0M252 212.8h0M254.1 199.6h0M244.4 232.5h0M252.6 209.6h0M257.1 223.8h0M285.3 210.9h0M231.7 214.4h0M304.8 201.7h0M249.9 211.9h0M265.9 206.3h0M288.2 201.6h0M298.8 211.7h0M269.5 221.2h0M233.2 210.4h0M235.4 210.7h0M272.4 199.6h0M257.9 219.4h0M286.9 221.2h0M261.4 194.8h0M255.5 209.6h0M282.5 215.1h0M234.3 210.8h0M247.3 205.3h0M288.4 210.1h0M256.9 224.4h0M254.4 217h0M285.8 215.3h0M279.1 215.6h0M250.9 210.1h0M239.1 211.7h0M248.3 206.6h0M255.9 220.6h0M303.1 208h0M256.1 218.2h0M235.8 220.2h0M258.3 211.1h0M266.3 215.8h0M237.2 190.1h0M252 214.5h0M234.9 219.1h0M255.3 212h0M284.9 214.8h0M319.5 223.6h0M250.4 198.3h0M265.2 202.5h0M266.6 206.5h0M260.9 210.8h0M257.8 221.5h0M244.6 208.2h0M266.5 205.5h0M242.1 203.9h0M256.8 202.1h0M260.5 225h0M252.6 208h0M231.8 207.9h0M246.6 207.6h0M244.2 204.4h0M281.5 216.7h0M275.5 210.1h0M232.8 203.3h0M236.1 202.7h0M258.5 215.2h0M277.2 222.1h0M253.5 212.8h0M246.6 209.9h0M270.6 223.5h0M257.7 209.2h0M243.9 214.8h0M259.7 211.4h0M242.2 214.3h0M242.4 200.9h0M262.3 197h0M240.1 205.3h0M232.8 202.6h0M234.7 227.6h0M268.6 215.1h0M301 211.6h0M249.4 206.4h0M265.7 216.9h0M300.8 215.5h0M235.8 205.8h0M239.4 214.2h0M318 208.3h0M248.3 215.2h0M232.6 203.7h0M261.2 213.3h0M251.3 201.8h0M263.5 229.2h0M243.2 221h0M242.9 214.1h0M246.6 215.3h0M255.6 208.3h0M285.2 208.8h0M245.2 206.8h0M330.7 220.9h0M247.6 200.1h0M279.6 217.8h0M242.5 218h0M307.8 195h0M244.4 219.4h0M239.9 205.3h0M312.6 218h0M243 200.6h0M233.8 206.1h0M263.9 214.8h0M241.4 210.3h0M265.8 220.5h0M235.9 214.9h0M276.8 204.1h0M235.5 203.4h0M280 218.1h0M234.5 220.3h0M246.7 199.3h0M277.6 199.5h0M268.9 215.8h0M256.5 199h0M246.7 214.5h0M243.9 205h0M244.1 223.2h0M290.4 202.5h0M269.3 203.3h0M252.8 218.4h0M296.8 218.5h0M262.9 194.8h0M280.2 213h0M282.4 205.4h0M251.1 208.6h0M283.5 218.3h0M282.9 209.2h0M259.6 210h0M295.9 226.1h0M269.4 210.6h0M255.3 214.7h0M232.1 201h0M233.4 213.4h0M259.9 221.7h0M253 214.2h0M251.6 206h0M243.4 214.7h0M242.3 197.2h0M285.2 204.4h0M237.1 216.2h0M232.8 210h0M294.9 220.7h0M253.2 201.7h0M282.7 208.8h0M281.1 211.9h0M256.1 226.2h0M253.8 214.3h0M259 205.2h0M279.4 218.2h0M250.5 208.7h0M296.8 212.7h0M281.7 213.2h0M253.9 214.7h0M275 216.3h0M282.7 204.5h0M268.4 218.4h0M244.7 201.8h0M258.9 231.2h0M293 218.2h0M304.1 212.9h0M277.8 203.2h0M247.1 213.7h0M292.8 225.2h0M274.4 199.5h0M245.4 198.3h0M268.8 222.9h0M240 207.2h0M265.2 213.5h0M264.4 210.3h0M269.1 215.6h0M266 210.7h0M291.5 226h0M258 203.3h0M272.7 219.5h0M259.1 207.2h0M292.5 205.7h0M233.8 217.1h0M309.5 208.9h0M319.6 224h0M235.2 207.7h0M244 208.8h0M274.6 218.2h0M264.2 206h0M250.8 220h0M242.8 224.6h0M250.7 219.5h0M241.2 212.7h0M264.7 206.4h0M283.4 208.9h0M279.1 220.2h0M245.1 203h0M250.2 220.6h0M265.2 205.5h0M253.8 209.3h0M259.2 206.2h0M238.6 221.8h0M311.4 207.7h0M249.3 219.9h0M268.1 211.8h0M273.8 208h0M290.8 213.5h0M270 219.1h0M232.2 212.2h0M255.8 213.2h0M277.1 214.1h0M244.1 208.7h0M279.4 205.5h0M274.3 203.3h0M288.3 209h0M261.5 219.3h0M262.3 222h0M290.3 219.9h0M261.5 218.2h0M264.6 204h0M298.4 213.8h0M249.6 198.6h0M267.4 208h0M242.6 204.8h0M252.1 211.8h0M247.4 222h0M259.5 213h0M264.8 214.5h0M247 212h0M239.4 219.6h0M289.9 202.9h0M247.9 219.1h0M247.8 217h0M267.6 208.6h0M263.8 211.9h0M259.7 213.5h0M244.7 200.4h0M240.6 222.4h0M276.2 215.6h0M273.9 224.5h0M234.5 214.2h0M237.4 224.9h0M252.3 214.6h0M275 209.5h0M262.7 205.6h0M303.9 211.8h0M252.5 211.7h0M292.2 210.7h0M258.2 218.3h0M249.2 208.3h0M239.7 203.6h0M243.8 223.5h0M241.2 206.8h0M233.5 217.1h0M236.4 209.5h0M305.1 212.9h0M236.6 216.7h0M263.2 207.5h0M246.7 211.7h0M290.2 208.1h0M246.7 220.2h0M248.6 215.9h0M279.3 215.2h0M266.3 211.3h0M254.5 215.4h0M236.6 212.4h0M233.8 204.7h0M281.7 212.7h0M290.3 225.4h0M265.3 214.5h0M292.2 213.4h0M271.2 219.3h0M280.6 205.1h0M242 215.6h0M234.6 212.1h0M254.9 207.3h0M307.3 211.4h0M293.1 224.4h0M240.3 220.7h0M256.7 215.9h0M245.3 207.1h0M244.8 210.9h0M250.3 203.2h0M260.9 201.6h0M282.5 211.3h0M259.7 210.5h0M247.8 216.2h0M313.4 211.5h0M281.5 216.8h0M243.8 204.9h0M254.5 209.3h0M249 217h0M236.6 201.6h0M258.2 219.4h0M290.3 213.6h0M263.3 220.2h0M285.9 191.3h0M237.3 215.3h0M240.7 206.2h0M262.6 197.5h0M317.2 208.8h0M293.6 221.3h0M246.2 213.3h0M235.8 214.5h0M263.6 216.3h0M260.6 231.2h0M311.4 223.3h0M273.8 223.1h0M246 204.8h0M262.7 208.4h0M257.4 221.4h0M257.5 216.5h0M267.2 207.8h0M322.3 219.5h0M305.9 221.3h0M245.1 198.5h0M316.2 215.9h0M285.2 197.7h0M275.4 209.2h0M270.8 213.4h0M291.9 219.2h0M251.6 214h0M270.1 208.4h0M288.6 207.2h0M300.2 204.4h0M254.8 215.8h0M269.2 201.2h0M257.8 214.6h0M252.7 216.9h0M264.6 217.2h0M232.6 214.2h0M272.1 224.7h0M232.8 181h0M273.1 181.8h0M293.2 188.4h0M231.9 190.2h0M240.8 193.2h0M246.8 237.2h0M233.4 229.7h0" stroke="#c9c9c9" stroke-width="3.2" stroke-linecap="round" fill="none"/>
<path d="M214.6 205h0M214.5 211.4h0M223.3 216.8h0M225.6 206.4h0M228.9 224.1h0M216.2 210.2h0M223.2 207.5h0M198 206.6h0M213.4 213h0M229.6 201.9h0M223.5 206.7h0M227.9 214.9h0M211.2 215.8h0M226 209.5h0M227.9 207.8h0M228.7 209.1h0M206.9 205.8h0M210.2 206.9h0M219.5 214.7h0M224.7 207.7h0M222.4 207.7h0M220.8 210.2h0M199.2 205.3h0M226.1 218.3h0M231 216.7h0M220 205.8h0M220.6 219.1h0M201.5 208.9h0M202.3 204.2h0M210.5 206.4h0M222.3 206.5h0M215.9 214.5h0M222.3 205.4h0M213.8 206.8h0M204 206.3h0M207.6 211.9h0M230.4 211.8h0M207.7 206.8h0M208.3 206.1h0M215.7 210.6h0M204.9 211.8h0M202.3 208.9h0M230.4 217.6h0M216.7 212.7h0M214.3 212.6h0M225.7 216.4h0M219.5 207.2h0M224.6 204.9h0M206.9 209.1h0M199.9 217h0M212.6 216.6h0M227.8 206.7h0M205.9 206h0M202.3 203h0M207.7 202.6h0M215.4 208.4h0M223.4 214.4h0M204.8 209.4h0M213.2 219.1h0M225.9 209.1h0M229.9 209.8h0M199.7 204.1h0M213.1 205.9h0M207.3 210h0M205.2 206h0M224.4 210.7h0M214.1 207.8h0M220 205.7h0M202.9 207.4h0M227.8 213.2h0M206.6 208.4h0M231 212.7h0M199.9 212h0M214.2 213.2h0M218.9 218.7h0M205.6 203.4h0M219.3 211.7h0M205.2 207.7h0M203.9 202.4h0M227.9 211h0M217.5 208.8h0M198.3 205.3h0M219.7 211.8h0M204.1 207h0M216.3 208.1h0M212.4 206.1h0M223.7 208.9h0M223.1 206.5h0M209.2 207.2h0M207.5 210.3h0M200.9 209.8h0M219.6 204.6h0M228.5 210.4h0M201.2 211.8h0M217.4 214.7h0M202.3 209.4h0M203.5 212.6h0M222 208.3h0M227.9 204.6h0M201.4 205.8h0M226.9 204.7h0M202.8 203.8h0M229.8 207.3h0M206.7 211h0M219.8 209.1h0M205.6 208h0M219.8 203.9h0M207.4 214h0M226.1 208.9h0M217.5 207h0M229.8 222.7h0M201.7 207.4h0M212.8 207.6h0M218.3 209h0M227.1 210.6h0M220.1 210.9h0M206.3 211.9h0M220.8 207.6h0M207.3 212.1h0M227.3 209.5h0M215.2 212.8h0M230.1 209.5h0M228.9 215.1h0M228.4 207.6h0M223.3 211.2h0M225.3 215.8h0M207.6 206.7h0M231.1 209.4h0M225.5 212h0M206 208.2h0M218.6 209.1h0M201.1 209.2h0M225.4 214.5h0M219.9 212.2h0M219.2 214.7h0M212 209.9h0M214.7 211.1h0M204.7 204.8h0M205.4 206.3h0M215.7 215.1h0M224.4 205.9h0M225 206.4h0M211.6 207.4h0M216.8 207.8h0M213.5 205h0M219.8 209.3h0M203.6 203.3h0M198.4 206.8h0M218.1 207.2h0M220.6 214.4h0M209.1 200.2h0M203 211.8h0M228.8 221.8h0M206.6 206.9h0M199.8 205.2h0M224.5 212.1h0M208.5 209h0M230.4 211.8h0M223.9 200.7h0M197.7 208.1h0M199.1 210h0M199.9 205h0M205.1 213.3h0M221.9 212.9h0M214.9 215.7h0M223.1 207.6h0M226 213.3h0M222.2 214.4h0M223.5 206.1h0M226.5 210h0M225.1 211.1h0M201.5 204.8h0M203.6 202.3h0M216.9 206.5h0M223.6 209.1h0M200.7 214h0M198.9 209.7h0M224 207.8h0M225.6 212.4h0M198.8 214.2h0M229.4 214.2h0M199.8 206.6h0M212.3 207.1h0M197.7 206.3h0M219.7 206.8h0M230.2 202.3h0M211.3 203.8h0M202.8 208.6h0M198.5 207.6h0M206.4 211h0M224.4 214.2h0M221.7 215.1h0M216.7 200.4h0M208.2 205.7h0M215.3 208.2h0M221.7 215.1h0M217.5 206.8h0M212.1 208.5h0M220.7 197.6h0M225.5 209.7h0M201.4 211.2h0M209.5 208.3h0M228.8 213.9h0M200.1 205h0M230.9 217.2h0M229.5 211.9h0M206.5 207.2h0M227.2 210.3h0M223.7 215.9h0M222.7 208.8h0M227.6 217.1h0M197.6 206h0M221.8 210.1h0M222.8 204.7h0M227.4 207.6h0M203.8 213.5h0M200.6 207.8h0M221.8 208.5h0M213.6 208.5h0M230.4 208.7h0M227.9 216.6h0M230.8 214.9h0M214.8 208.6h0M224.2 214.7h0M211.1 206.4h0M204.8 205.2h0M212.4 208.5h0M222.6 213.2h0M207.3 203.8h0M224.8 214.3h0M217.6 209.4h0M225.3 207.8h0M230.6 218.4h0M200.8 206.4h0M212.2 202.9h0M224.8 213h0M227.8 205.1h0M225.9 212.1h0M228.4 206.7h0M210.7 207.5h0M223.1 205h0M221.9 212.1h0M213.3 207.6h0M214.7 212.4h0M199.1 202.2h0M198.6 212.2h0M223.9 225.8h0M207 206.8h0M225.6 198.9h0M227.8 204h0M206.8 206.5h0M225.4 205.4h0M199.8 206.5h0M200.6 213.1h0M216.7 211h0M213.1 206.6h0M228.1 206.2h0M209.3 222.6h0M211.9 205.7h0M201.6 209.9h0M211.3 203h0M210.4 205h0M220 212.1h0M207.8 209h0M215.9 221.3h0M226.3 213.5h0M225.8 212.7h0M206.9 207.4h0M225.8 214.8h0M201.4 214h0M199.2 207.1h0M213.4 210.9h0M204.2 207.3h0M202.4 210.4h0M224.8 210h0M218.9 206.5h0M201.4 208.9h0M230.1 209.4h0M217.8 212.8h0M208.5 210h0M230 213.1h0M226.2 215h0M206.4 193.2h0" stroke="#686868" stroke-width="3.2" stroke-linecap="round" fill="none"/>
<line x1="190.2" x2="348.4" y1="208" y2="208" stroke="#333" stroke-width="0.9"/>
<line x1="197.5" x2="335.9" y1="199.7" y2="195.7" stroke="#111" stroke-width="1.5" stroke-dasharray="5 4.7"/>
<line x1="197.5" x2="335.9" y1="217.9" y2="235.2" stroke="#111" stroke-width="1.5" stroke-dasharray="5 4.7"/>
<line x1="197.5" x2="335.9" y1="207.4" y2="218.4" stroke="#111" stroke-width="1.5"/>
<rect x="190.2" y="134.7" width="158.2" height="117.45" fill="none" stroke="#a6a6a6" stroke-width="1"/>
<text x="197.8" y="147.2" font-family="Liberation Sans" font-weight="bold" font-size="10" fill="#111">(f)</text>
<rect x="351.2" y="134.7" width="158.2" height="117.45" fill="#fff"/>
<path d="M444 206.8h0M465.1 193.9h0M419.8 198h0M426.5 210.7h0M489 196.7h0M474.7 205.4h0M424.7 201.1h0M433.1 188.8h0M441 180.9h0M403.3 200.9h0M422.9 205.1h0M405 210.3h0M400.9 206.9h0M409.6 201.7h0M392.3 206.6h0M409.1 199.1h0M416.8 192.8h0M438.2 202.1h0M424.7 199h0M410 208.7h0M422.1 202h0M464.8 185.7h0M459.2 191.8h0M428.9 195.9h0M426.6 204.8h0M414.7 205.1h0M406.7 205.4h0M430.8 195.6h0M396.8 216.2h0M448.9 192h0M395.8 205.8h0M468.6 207.3h0M422 207.6h0M447.3 178.5h0M456.8 205.5h0M436.2 190.9h0M467.9 195.5h0M402.8 209.8h0M395.9 210.9h0M421.3 194.4h0M458 211.8h0M433.1 209h0M420.5 212.1h0M430.1 200h0M412.4 199.2h0M424.8 193h0M416.4 205.5h0M409.5 211.7h0M424 209.3h0M431.8 191.8h0M417.9 204.5h0M423.1 205.3h0M483 202.7h0M430.5 188.9h0M455.2 202.8h0M396.4 212.7h0M426.1 209.1h0M435.7 203.2h0M419.4 199.5h0M409.5 203.6h0M437.1 203.2h0M411.5 206.4h0M406.4 211h0M422.1 201.1h0M434.8 195.4h0M399.8 208.4h0M421.1 207h0M439 182.8h0M421.8 194.5h0M429.1 205.6h0M394.2 213.2h0M396.1 205.5h0M404 200.8h0M467.8 189.9h0M414.9 205.8h0M442.9 206h0M439.3 186.7h0M416 196.7h0M430.4 209.4h0M471.2 204h0M413.1 209.1h0M428.8 204.9h0M441.9 177.9h0M437.8 194.2h0M442.6 195.9h0M402.1 200.9h0M401.5 207.1h0M425 205.2h0M437.7 194.5h0M420.5 211.7h0M408.6 215.2h0M408.4 207.5h0M424.8 187.9h0M404.6 208.2h0M401.4 202.3h0M419.4 210.7h0M432.7 195.3h0M415.2 202.6h0M429.4 200.3h0M395.2 198.8h0M449.9 202.3h0M426.7 209.7h0M461 199.6h0M453.1 204.3h0M444.1 201.8h0M406.3 207.3h0M465.7 200.7h0M447.9 196.6h0M393.3 200.4h0M435.4 183.4h0M475.2 188.8h0M422.3 189.1h0M430.4 198.8h0M393.3 210.1h0M397.7 201.5h0M408.1 211.7h0M451 202.9h0M432.7 198.1h0M437.3 207.7h0M416.8 205h0M405.1 203.2h0M405.1 201.7h0M417.4 216.5h0M412.2 204.5h0M407.7 199h0M455.7 200.1h0M459.5 199.2h0M446.6 187.2h0M407.3 198.2h0M398 193.8h0M406.2 210.1h0M408.7 196h0M403.2 195.4h0M427.2 192.5h0M424.7 208h0M395.7 200.5h0M431.2 170.5h0M412.7 183.9h0M406.3 198.5h0M464.7 203.4h0M395.8 201.7h0M393 199.8h0M402.9 203.3h0M402.5 201.2h0M394.4 206.7h0M415.7 196.9h0M414.8 201.3h0M423.9 206.8h0M449.9 205.1h0M439.1 201.1h0M458.6 198.8h0M427.8 208.5h0M401.4 212.1h0M444.8 202.8h0M440.3 203h0M406.2 210.6h0M404.3 199.7h0M402.5 211.9h0M432.1 202.1h0M421.3 208.1h0M481.8 194.8h0M421.9 204.4h0M415.4 199.6h0M439.9 202.7h0M430.8 199.5h0M417.7 212.2h0M393.6 206.7h0M433.8 194.6h0M474.9 187.9h0M403.1 203.3h0M429.4 208.1h0M407.1 204.3h0M413.3 207.3h0M430.3 203.6h0M429.8 192.6h0M412.3 200.5h0M398.3 202.2h0M413.5 217.3h0M404.7 200.4h0M417.9 208.6h0M431.3 209.8h0M414 200h0M394.1 207.5h0M400 197.3h0M460.5 209.9h0M392.8 204.8h0M410.7 198.6h0M437.2 190.8h0M459.6 202.9h0M416.8 192.9h0M409.7 205.4h0M476 202.7h0M465.9 184.4h0M477.6 197.7h0M409.4 211.8h0M405.5 202.9h0M401.2 196h0M398.6 203.4h0M425.7 198.1h0M444.6 201.3h0M406.8 200h0M414.8 212.3h0M406.6 212.4h0M451.4 207h0M392.7 209h0M404.2 200.5h0M456.3 189h0M398.6 203.7h0M442.9 204.7h0M435.8 180.9h0M435.5 205.1h0M424.6 200.1h0M434.5 192.5h0M411 210.3h0M467.4 198.8h0M435.8 189.7h0M455.3 187.6h0M409.3 202.8h0M434.9 204.8h0M406.1 210.5h0M400 206.9h0M449.7 201.8h0M445 195.2h0M396 211.9h0M411.8 202.5h0M427.9 195.5h0M443.8 189.1h0M400.4 222.1h0M421.2 209h0M457.2 205h0M398 214.5h0M401 193.6h0M482.4 204.2h0M401.5 200.7h0M429.3 203.2h0M434.8 201.3h0M418.5 199h0M400.7 215h0M424.1 198.6h0M406.1 202.2h0M423.6 187.5h0M462.2 193.3h0M408.6 215.6h0M442.9 205.3h0M432.8 210.4h0M436.8 203.4h0M398.9 207.5h0M416 209.5h0M395.7 203h0M453.8 198.5h0M396.4 203.2h0M439.7 196h0M404.8 199.4h0M397.8 214.1h0M417.5 203.1h0M397.2 212h0M394.6 210h0M411.7 202.2h0M442.1 197.5h0M419.1 206.5h0M413.6 213h0M424.5 206.5h0M438 184.6h0M419.5 190.4h0M397.2 206.4h0M408.5 205.9h0M418.6 204.2h0M416.7 200.9h0M424 201.9h0M488.3 203.9h0M419.9 199.2h0M430.9 195.3h0M394.1 203.4h0M398.3 210.3h0M427.4 205.4h0M430.9 192.6h0M467.3 212.2h0M431.3 208.4h0M412.2 205.4h0M416.7 206.8h0M460.4 198.3h0M441.2 198.7h0M425.4 205.7h0M456.3 205.1h0M453.6 202.3h0M403.4 204.2h0M414.3 213.1h0M424.3 203.8h0M410.7 216.8h0M437.5 204.3h0M408.2 207.2h0M419.6 196.2h0M429.5 193.1h0M421.5 204.5h0M399.1 202.9h0M409.4 198.1h0M437.9 197.2h0M418.9 206.1h0M426.2 198.2h0M450.1 203.1h0M401.6 202.4h0M397.6 206.4h0M432.2 202.2h0M402.6 208.8h0M428.1 190.1h0M425.5 184.8h0M430.3 195h0M411.7 204.5h0M401.3 203.9h0M429.4 196.3h0M451.1 177.9h0M433.7 202.5h0M409.2 205.4h0M438.3 190h0M437.2 200h0M435.8 205.6h0M399.3 206.9h0M457.3 193.1h0M431.1 212.9h0M412.6 209.3h0M417.5 207.7h0M454.9 200.8h0M430 193.3h0M458 176h0M434.5 198.7h0M448.2 189.8h0M420.2 210.8h0M435.9 190.7h0M424.2 195.2h0M403.3 210.5h0M422.9 196.7h0M434.2 198.5h0M447.6 209.3h0M414.1 204.4h0M448.6 193.6h0M396.3 210.3h0M413.7 201.8h0M394.8 204.6h0M396.2 209.1h0M426.3 203.4h0M401 204h0M403.1 203.9h0M450.8 185.1h0M440.3 203h0M455.6 207.6h0M432.7 209.2h0M410.7 208.7h0M404.5 200.9h0M400.4 213h0M401.8 221.2h0M420.1 203.2h0M420.8 194.7h0M397.5 209.9h0M419.2 192.8h0M398.7 205.6h0M441.6 206.4h0M460.6 194h0M410.4 207.7h0M424.3 206.4h0M408.9 206.9h0M423.8 195.4h0M432.7 194.3h0M448.5 195.2h0M392.4 206.1h0M473.9 195.1h0M393.9 205.1h0M443.2 200.2h0M449.7 201.3h0M449.7 211.1h0M414.2 205.2h0M436.7 202.9h0M454.8 202.6h0M457 201.2h0M438.6 210.1h0M416.4 204.3h0M412.3 205.9h0M447 191.9h0M438.6 201.3h0M408.9 209.1h0M399.6 201.3h0M403 205h0M446 205.4h0M401.1 205.4h0M419.3 207.8h0M412.6 203.4h0M462.4 199.3h0M453.3 203h0M441.1 203.1h0M401.3 204.4h0M392.8 200.6h0M394.1 209.7h0M402.5 210.1h0M441.6 194.4h0M400.6 205.9h0M411.5 213.9h0M397.6 201.8h0M408.6 212.3h0M412 215.3h0M399.2 210.6h0M435.9 205.3h0M428.6 209.3h0M401.7 199.9h0M395.7 211.3h0M448.9 194.2h0M421.8 206.9h0M399.9 202h0M452.7 203.7h0M467.3 183.5h0M438.3 203.3h0M405.1 199.2h0M477.9 192.4h0M412.8 200.2h0M436.1 189.4h0M446.2 207.3h0M394.5 201.6h0M417.1 210h0M399.2 192.1h0M428.6 203.5h0M439.1 198.4h0M412.7 186h0M412.6 214.7h0M406.1 206h0M421.6 207.3h0M450.2 200.6h0M421.4 205.6h0M409.7 196.9h0M416.1 202h0M411.1 214.9h0M401.5 206.4h0M418.5 208.3h0M411.2 208.2h0M397.3 203.4h0M392.7 210.9h0M403 200.3h0M401.7 200.5h0M404.1 208.4h0M433.3 209h0M413.2 216.7h0M402.1 201h0M440.6 201h0M397.3 205.7h0M402.2 205h0M437 195.5h0M436.9 184.9h0M394.5 200.4h0M415.1 203.8h0M407.4 202.9h0M415.8 199.9h0M410.7 206.3h0M407.4 205.2h0M434.7 196.1h0M416 199.8h0M432.3 198.1h0M442.2 203.7h0M452.8 193.2h0M398.3 211.6h0M441.2 203.2h0M447.7 205.5h0M397.4 201.1h0M417.6 206.7h0M414.2 204.8h0M448.6 204.7h0M394.4 200.7h0M404.4 208h0M467.5 180.5h0M399.6 213.9h0M403 210.2h0M404 199.8h0M417.8 197.1h0M443.2 190.4h0M396 205.5h0M443.1 191h0M446.5 202h0M403.2 211.3h0M426.8 197.2h0M423.2 196.5h0M434.1 201.4h0M432.1 195.7h0M423.9 204.4h0M408.9 204.2h0M429.9 211.7h0M417.3 206.4h0M416.4 204.2h0M433.7 208.8h0M423.7 206.7h0M463.3 201.3h0M436.6 206.3h0M442.3 177.3h0M418.8 197.5h0M396.3 206.3h0M395.4 204.1h0M405.4 213.3h0M393.8 205.7h0M396 206.5h0M394.1 204h0M446.5 186.1h0M418.6 195.8h0M409.4 199.8h0M455.4 202.7h0M440.7 147.5h0M443.1 155.5h0M434.7 157.3h0M454.2 162.4h0M444.3 160.3h0M454.2 166.9h0M449.7 172.9h0M394.4 184.8h0M407.8 229.7h0M403.3 223.7h0" stroke="#c9c9c9" stroke-width="3.2" stroke-linecap="round" fill="none"/>
<path d="M378.2 207.3h0M380.6 203.8h0M388.4 205.3h0M369.8 206.1h0M391.5 201.5h0M384.2 207.9h0M373.3 207.5h0M387.7 208.7h0M387.5 207.9h0M378.9 210.2h0M383.9 204.5h0M390.4 193.3h0M376.3 206.8h0M377 197.6h0M366 217.3h0M382.4 201.9h0M384.4 203.3h0M359.4 212.7h0M379.2 220.2h0M380.2 209.9h0M381 205.1h0M381.6 208.6h0M362.9 213.8h0M388.6 203.2h0M372.6 209.3h0M388.7 201.9h0M362 213.9h0M380 203.1h0M362.6 214.1h0M387.6 204.4h0M366.1 209.4h0M371.2 207.7h0M378.4 204.9h0M385.5 192.7h0M377.7 209.1h0M389 203.5h0M392 209.3h0M365.9 208.3h0M371.1 212.5h0M382.7 203.3h0M366 208.6h0M375.5 212.9h0M384 209.9h0M388.3 212.8h0M383 209.1h0M386.1 206.5h0M376 200.5h0M387.7 202.7h0M364.8 214.3h0M362.8 207.4h0M376.8 209h0M376.6 211.2h0M371 206.5h0M369.2 202.3h0M386.1 203.3h0M380 203.4h0M367 208.1h0M381.9 206.2h0M376.8 204.2h0M390.1 201.8h0M364.6 208.2h0M377.3 205.3h0M386.2 204.5h0M387.8 201.9h0M358.6 212.5h0M365.6 211.5h0M373.6 205.6h0M379.4 202.4h0M373.2 210.5h0M379.3 204.7h0M363.9 205.9h0M362.2 211.3h0M361.1 207.9h0M372.2 203.1h0M385.7 209h0M359.2 208.5h0M380.8 207.9h0M370.1 207.6h0M367.4 211h0M366.1 208.2h0M376.4 210.7h0M366 209.4h0M380 207.2h0M387.1 205.8h0M369.7 212.3h0M363.3 208.9h0M385.8 207.8h0M367.5 210.1h0M376.9 208.4h0M364.8 200.1h0M380.1 202.4h0M370.1 212.7h0M388.8 196.9h0M374.7 207.7h0M388 205.5h0M373.8 206.8h0M386.8 208.9h0M390.9 205.4h0M382.5 207.8h0M358.9 208.9h0M392.1 205.4h0M381.1 201.5h0M365.8 207h0M366.5 210.3h0M364.1 209.9h0M374.6 209.5h0M381.2 206.5h0M379.5 204.8h0M371.4 205.3h0M389.5 208.9h0M364.6 210.7h0M377.6 200h0M380 203.8h0M361.7 212.2h0M361.5 208.7h0M382.8 204.6h0M382.9 205.1h0M381.9 204.8h0M384.1 203.3h0M369.5 214.7h0M384.7 204.4h0M367.2 206.2h0M366.9 211.4h0M380 201.8h0M371.6 206.5h0M391.7 205.1h0M367.6 210.1h0M381.8 201.9h0M390.3 212.3h0M369.1 205.9h0M387.8 199.6h0M387.4 207h0M367.5 208.6h0M379.5 205.5h0M378.2 202.1h0M383.2 203.2h0M392.2 199.1h0M389.9 205.6h0M369.7 206.5h0M392.1 211.9h0M383 205.3h0M383 205.2h0M363.8 211h0M389.8 202.8h0M381.7 203.4h0M379.2 210.2h0M378.3 204.4h0M364.3 205.6h0M388.4 209.2h0M389 205.1h0M360.7 209.5h0M386 209.8h0M390.3 213.3h0M367.8 206.8h0M368.2 211.7h0M370.6 210.7h0M381.7 199.8h0M390.3 202.1h0M360.2 206.1h0M379.8 213.3h0M383.1 213.2h0M361.5 208.7h0M366.1 208.4h0M391.9 208.1h0M380.2 207.5h0M369.7 210.2h0M370.8 207.6h0M381.7 201.7h0M369.6 215.7h0M384.3 204.7h0M374.7 206.1h0M372.6 203.6h0M389.5 208.6h0M369.5 204.4h0M378.9 208.2h0M363.6 210.8h0M383.1 209.6h0M382.2 200.9h0M364.1 209.6h0M363.2 208.5h0M369.1 214h0M386.7 208.9h0M367.1 208.2h0M388.1 211.9h0M383.3 210.3h0M374 205.9h0M374.8 211.3h0M377.2 209.2h0M391.4 203.8h0M375.7 209.6h0M377.4 210.7h0M375.9 208.1h0M382.4 205.9h0M372.2 206.2h0M375 210.3h0M384.6 201.9h0M377.7 210h0M376 202.8h0M384 206.7h0M362.2 209.6h0M376.7 206.1h0M380.3 209.2h0M382.4 206.4h0M382.9 211.4h0M375.6 213.4h0M375.5 206.9h0M387.5 215.6h0M390.2 211.6h0M376.5 205.5h0M369.2 212.3h0M388.3 210.7h0M366.2 215h0M377 203.7h0M386.4 204.7h0M368.6 205.4h0M361.6 211.3h0M360.6 206.8h0M386.4 203.6h0M380.9 208h0M390.5 211.2h0M379.4 207.9h0M367.1 210.5h0M371.5 204.9h0M370.8 211.6h0M389.8 202.9h0M383.3 204.7h0M370.7 211.9h0M379.3 210.7h0M366.5 206.7h0M371.9 212.2h0M379.8 206.5h0M380.2 215.7h0M369 206.7h0M390.7 203.6h0M377.2 208.5h0M381 208.3h0M388.1 203.2h0M362 208.1h0M389.9 198.1h0M371.4 209.5h0M391.6 204.2h0M378 197.5h0M390.9 200.6h0M379.7 208.9h0M360.1 213.7h0M381.9 208.7h0M359.8 206.4h0M370.8 204.9h0M368.9 205.4h0M366.7 208.2h0M388.3 206.2h0M362.9 209.9h0M378.8 206.6h0M389.3 208.3h0M391.2 206h0M390.9 212.3h0M376.2 204h0M372.1 205.2h0M361.3 207.1h0M364.9 207.1h0M364 211.4h0M365.9 204.1h0M388.8 209.5h0M381.3 204.7h0M370.9 209.2h0M375.3 208.3h0M390.4 206.5h0M364.3 211.1h0M363.7 209.3h0M388.7 204.7h0M372.1 205.5h0M366.5 208h0M373.6 207.6h0M361.2 212.7h0M376.2 216.1h0M368.5 207.3h0M372.3 211.5h0M376.7 211.2h0M375 207h0M370.5 208.8h0M367.8 212.8h0M367.6 206.6h0M385.8 200.5h0M365 210.9h0M377.2 213.3h0M387.5 211.2h0M376 206.6h0M364.1 202.7h0M366.8 209.8h0M377.8 196h0M365.9 214.9h0M390.1 206.5h0M389.2 204h0M376.4 211.6h0M377.1 200.2h0M389.4 203.2h0M375.8 205.1h0M379.5 201.5h0M361.9 209h0M386.2 204.5h0M368.3 207.1h0M374.3 184.2h0" stroke="#686868" stroke-width="3.2" stroke-linecap="round" fill="none"/>
<line x1="351.2" x2="509.4" y1="208" y2="208" stroke="#333" stroke-width="0.9"/>
<line x1="358.5" x2="496.9" y1="203.2" y2="160.9" stroke="#111" stroke-width="1.5" stroke-dasharray="5 4.7"/>
<line x1="358.5" x2="496.9" y1="219.4" y2="212.9" stroke="#111" stroke-width="1.5" stroke-dasharray="5 4.7"/>
<line x1="358.5" x2="496.9" y1="209.4" y2="195.9" stroke="#111" stroke-width="1.5"/>
<rect x="351.2" y="134.7" width="158.2" height="117.45" fill="none" stroke="#a6a6a6" stroke-width="1"/>
<text x="358.7" y="147.2" font-family="Liberation Sans" font-weight="bold" font-size="10" fill="#111">(g)</text>
<rect x="512.1" y="134.7" width="158.2" height="117.45" fill="#fff"/>
<path d="M608.4 212.4h0M587.1 234.8h0M622.3 217h0M576.3 214.7h0M583.4 210h0M585.8 208.6h0M577 201.3h0M600.2 211.6h0M573.9 219.9h0M596.4 217.8h0M559.1 217h0M561.2 215.8h0M626.5 222.5h0M640.4 226.5h0M612.2 214h0M564.9 209.5h0M593.5 220.7h0M603.1 220.5h0M582.8 218.6h0M583.1 217.4h0M576.3 211.4h0M653.3 222.4h0M591.7 220.7h0M588.7 209.7h0M576.7 222.7h0M610.4 212.4h0M586.1 212.2h0M638 225.9h0M561 210.9h0M585.5 211.2h0M562 219.7h0M572.3 204.8h0M623.5 219.1h0M559.4 215.6h0M585.6 220.3h0M557.6 214.6h0M608.2 221.9h0M587.8 210.6h0M583.6 214.9h0M589.6 211.4h0M564.9 219.9h0M604.9 213.3h0M577.2 220.4h0M590.1 222.6h0M553.4 204.3h0M592.6 226.7h0M637.8 219.6h0M564.5 209.4h0M622.6 218.4h0M583.3 218.8h0M626.5 225.2h0M601.9 214.5h0M607.3 219h0M611.4 224.6h0M600.4 221.1h0M555.4 211.1h0M561.1 207.2h0M574.2 217.7h0M562.1 222.5h0M565.5 212h0M584.1 202.1h0M600.9 214.5h0M602.3 207h0M573.3 217.5h0M582 220.2h0M577 211.2h0M605.4 212.8h0M588.6 213.3h0M599.3 232.5h0M558.8 225h0M580.8 211.7h0M586.8 222h0M570.2 207.8h0M568.7 211.2h0M561.1 213.2h0M556.5 209.8h0M575.2 213.4h0M602.4 220.8h0M578.4 217.2h0M590 219.7h0M587.9 216h0M589.5 209.3h0M568.5 228.1h0M582.7 215.3h0M578.9 207.4h0M557.2 212.9h0M553.3 212.8h0M559 209.8h0M571.1 203h0M563 212.4h0M586.5 224.7h0M562.4 223.5h0M597.1 229.2h0M618.3 220.6h0M643.4 220h0M594 208.9h0M580.5 214.2h0M556.4 217h0M604.1 214.6h0M596.8 226.2h0M591.7 212.9h0M599.5 228.8h0M577.4 201.4h0M603.3 221.5h0M553.7 213.6h0M585.9 212.2h0M562.1 202.7h0M652.7 222.3h0M558.7 211h0M572.8 209h0M583.7 220.8h0M559.6 209.2h0M585.4 217.1h0M594.6 219.5h0M619 216h0M558.5 223.3h0M571.4 206.5h0M581.6 206.7h0M561.4 223.1h0M590.2 212.7h0M577.3 208.9h0M559.8 206.5h0M571.8 200.6h0M653.9 224.7h0M573.4 216.1h0M608.8 217.4h0M572.1 208.1h0M574.5 225.3h0M556.9 214.5h0M602.1 208.7h0M646.1 222.7h0M562.3 216.3h0M579.2 216.5h0M566.8 225h0M576.9 212.5h0M593.2 244.3h0M555.1 216.4h0M574.4 207.9h0M598.9 214.8h0M559.2 204.2h0M567.5 203.5h0M556.8 207h0M574.3 208h0M563.3 212.4h0M563.6 213.3h0M566.9 205.9h0M555.6 205.9h0M556.1 204.5h0M623.1 220h0M593.8 210.2h0M575.5 210.4h0M568 212.6h0M561.1 212.7h0M565.9 217.7h0M581.8 213.8h0M621 211.2h0M606.1 218.2h0M621.8 217.9h0M575.7 218.5h0M589.6 216.8h0M596.8 220.4h0M558 209.9h0M564.8 209.7h0M564.1 207.9h0M560.3 208.4h0M629.6 230.5h0M558.9 210.9h0M647.6 227.9h0M585.1 212.5h0M599 213.3h0M553.5 213.5h0M613 213.6h0M554.8 207.8h0M557.1 219.9h0M655.9 222.9h0M585.5 208.2h0M601.9 215.5h0M599 211.2h0M602.8 226.2h0M622.4 216.1h0M563.4 212.3h0M583 216h0M577.2 213.5h0M609.3 232.1h0M560.2 215.4h0M620.3 222.2h0M574.6 216.6h0M614.5 209.5h0M560.7 208.2h0M573.1 221.1h0M576.4 218.1h0M585.3 217.9h0M576.4 211.9h0M561.8 206.3h0M558.4 215.1h0M562.8 209.9h0M578.8 211.3h0M556 206.3h0M571.2 218.7h0M592.1 213.7h0M632.2 225.5h0M554.7 213.5h0M606.7 221.1h0M604.3 223.3h0M602.1 221.2h0M600 219.8h0M555.8 214.3h0M587.4 213.6h0M584.1 211.5h0M591.3 212.4h0M623.7 219.7h0M589.2 209.3h0M619.6 213.1h0M571.9 214.1h0M584.2 224.7h0M557.5 210.4h0M560.7 199.2h0M578.3 217.4h0M624.7 219h0M585.7 216.4h0M574.9 213.4h0M582.1 206.1h0M556.2 211.8h0M566.7 222.6h0M559.9 214.4h0M574.6 211.2h0M624.6 218h0M566.5 205.3h0M578.4 213.1h0M591.3 217.7h0M577.9 206.3h0M598.1 219.4h0M615.2 225.2h0M598.9 212.9h0M564.4 211.1h0M559.6 217.4h0M575.8 209.3h0M597.5 206.1h0M554.2 218.1h0M557.8 201.5h0M554 212.7h0M578.2 214.8h0M570.9 212.9h0M561.8 221.1h0M557.4 212.3h0M571.6 211h0M607.2 212.7h0M599.5 217.4h0M561.7 216.9h0M595.3 218.4h0M583.8 220.5h0M558.1 211.1h0M566.7 211.7h0M588.4 217.1h0M558 215.1h0M555.9 215.4h0M598.9 212.8h0M626 210.8h0M629.4 218.5h0M559.8 210.2h0M570.8 228.3h0M590.7 226.4h0M574.3 215.6h0M554.8 207.3h0M560.7 215.8h0M574.1 203.8h0M577.7 213h0M599.5 213.5h0M609.9 213.3h0M598.1 219.7h0M568.3 203.5h0M598.2 217.3h0M611.8 214h0M575.4 213.4h0M597.2 211.4h0M575.2 217.4h0M640 223.3h0M556.6 208h0M571 204.6h0M559.9 208.8h0M625.5 215.1h0M593.3 215.8h0M577.9 214.8h0M626.3 224.5h0M585.8 225.3h0M553.7 213.5h0M586.1 227.2h0M562.8 208.1h0M561.4 216h0M570.6 209.4h0M603 215.9h0M599 217.1h0M561 204.2h0M562.2 208.9h0M610.9 217.8h0M577.3 208h0M585.6 213.5h0M581.1 207.3h0M613.2 219.6h0M586.9 206.8h0M621.9 214h0M555.4 206.4h0M617.9 221.2h0M590.8 219h0M591.5 214.4h0M579.4 207.4h0M617.5 216.6h0M559.3 212.4h0M570.3 214.9h0M652 223.7h0M556.7 206.2h0M627.6 220h0M622.1 215.6h0M579.1 213.9h0M558.8 208.6h0M568.3 211.6h0M582.8 209.9h0M562.2 214.8h0M592.2 233.2h0M568.5 223.4h0M570 215.8h0M617.6 232.2h0M580.4 216.7h0M603.3 219.2h0M573.7 210.7h0M575 227.1h0M608.5 206.5h0M574.8 220h0M557.8 208h0M559.9 211.3h0M563.8 216.4h0M624.2 218.7h0M562.1 208.6h0M604.8 214.9h0M572.6 219.4h0M560.4 218.7h0M602.5 210.1h0M572.8 219.6h0M601.2 213.8h0M583.2 228.9h0M634.2 226.1h0M604.1 219.8h0M565.1 214.4h0M626 211.4h0M600.7 212.2h0M559.5 209.3h0M560.3 212.6h0M577.4 214.9h0M556.4 224.4h0M563.7 212.1h0M562.7 222.2h0M591.4 221.1h0M569.9 213.3h0M590.4 219.2h0M561.4 221.6h0M558.4 211.8h0M560.2 212.9h0M628.5 222.4h0M556 216.3h0M566.4 209h0M602.8 221h0M554 205.9h0M578 227.8h0M617.1 225h0M623.6 218.8h0M602.2 213.6h0M612.1 218.1h0M637.5 213.9h0M585 227.6h0M572.7 217.4h0M605.5 205.7h0M589.4 219.6h0M591.9 225.4h0M557.5 199.4h0M565.6 210.8h0M580.1 206.4h0M562.1 211.6h0M567.1 210.3h0M588.5 230.8h0M567.1 225.7h0M611.6 217.7h0M615.7 205h0M639.4 221.2h0M564.5 213.7h0M560.4 206.6h0M558.6 209.1h0M578.5 226.7h0M554.1 216.2h0M587.7 217.6h0M576.9 213.7h0M595.9 218.3h0M580.7 208.2h0M581.5 211.9h0M597.9 218.2h0M577.8 222.1h0M604.5 214.5h0M594.2 216.7h0M581.8 212.9h0M584 213.8h0M563.9 212.8h0M617.1 202.8h0M575.4 212.6h0M557.4 206.4h0M592.1 216.7h0M585.1 214.2h0M563.8 214.2h0M565.3 209h0M569.8 210.8h0M561.1 211.8h0M606.8 226.1h0M580 214.4h0M582.6 225.9h0M570.8 216.1h0M563.7 205.9h0M575.6 217.1h0M600.7 214.9h0M587.6 220.5h0M577 222.4h0M605 226.5h0M556.8 202.6h0M588.9 212.8h0M644.7 225.9h0M616.1 200.8h0M561.8 217.1h0M590.7 211.5h0M586.3 211.5h0M560.9 227h0M568.3 212.7h0M621.4 226.6h0M564.2 218.4h0M584.4 207h0M553.7 210.7h0M566.6 209.2h0M630.5 217.1h0M563.9 211h0M588.8 221.8h0M615.5 230h0M586.6 203.2h0M590.5 219.9h0M562.6 211.7h0M609.2 215.6h0M576.6 216.1h0M575.1 215.2h0M566.8 215h0M592.7 211.7h0M568.6 209.2h0M574.1 212.7h0M570.1 214.6h0M619.3 233.5h0M563.2 218.8h0M595.8 211.1h0M602.4 208.3h0M564.8 209.4h0M573.5 209.8h0M558.6 225h0M589.3 217.4h0M582.5 208.7h0M612.6 215h0M577.5 234h0M555.8 211h0M594.9 225h0M603.2 207.3h0M575.3 206.7h0M565.7 214.3h0M598.9 234.5h0M615.4 215.1h0M591.1 207.1h0M559.4 218.7h0M591 208.7h0M579.7 206.6h0M553.9 201.4h0M598.2 217.9h0M568.6 212.9h0M579.2 217.2h0M559.1 209.5h0M564.1 212h0M562 216.6h0M616.6 211.7h0M554.6 211.4h0M558.5 205.8h0M581.6 219.2h0M553.7 215.3h0M577.5 206.2h0M601.3 215h0M588.5 222.5h0M594.9 222.4h0M565.6 210.1h0M554 199.6h0M611.2 211.5h0M590.4 218.2h0M583.3 211.1h0M585.6 219.7h0M615.5 208.4h0M575.2 207.5h0M628.8 219.9h0M575.9 216.6h0M579.6 212.9h0M639.8 237h0M571.7 208.3h0M562.9 222.9h0M608.6 217.5h0M570.1 210h0M566.6 211.8h0M555.1 212h0M599.4 225.2h0M609.7 214.4h0M583.1 218.3h0M637.2 216.8h0M584.9 220.9h0M581.2 203.8h0M640.1 216.7h0M595 213.8h0M562.3 222.1h0M569.8 210.8h0M578.9 232.4h0M595.4 216.1h0M555.5 198.8h0M577.4 213.2h0M589.9 221.2h0M565.3 214.3h0M558.8 217.5h0M570.1 218.9h0M571.3 217.2h0M583.2 204.1h0M554.8 184.8h0M615.2 190.8h0M595.7 193.8h0M568.8 239.3h0M555.4 232.7h0" stroke="#c9c9c9" stroke-width="3.2" stroke-linecap="round" fill="none"/>
<path d="M547.5 213.1h0M538.5 210.3h0M533.3 207.7h0M520.4 203.6h0M540.3 204.5h0M543.9 205.9h0M547.5 211.8h0M528.6 207.7h0M544.3 207.8h0M520.9 205.9h0M540.5 216.1h0M528 211.3h0M526.9 205.3h0M540.7 205.7h0M544.3 210.3h0M547.9 217.3h0M524.9 206.7h0M540.3 205.4h0M531.6 210.2h0M548.9 217.7h0M546 213.3h0M522.1 211.8h0M524.8 208.9h0M545 210.4h0M527.9 212.6h0M522.3 209.1h0M532.2 214h0M548.6 216.2h0M527.1 209.5h0M548.3 205.2h0M549.1 217.2h0M549.4 210.5h0M534.6 210.3h0M537.6 207.6h0M544.8 216.4h0M542.5 211.3h0M545.1 209h0M526.1 210h0M549.2 202.6h0M536.3 211.4h0M528.9 209.8h0M522.3 209.6h0M551.4 215.7h0M535.8 212h0M530.1 207.7h0M540.8 210.9h0M552.5 204.9h0M537.2 213.3h0M529.9 207.2h0M539.9 215.6h0M538.2 202.9h0M546.1 214.8h0M526 207.1h0M550.7 208.6h0M533.1 208.1h0M541 212.9h0M551.7 207.3h0M526 207.4h0M548.3 212.1h0M519.5 210.3h0M545.8 217.9h0M523.8 208.8h0M545.7 209.6h0M522.3 206.4h0M533.3 203.3h0M544.3 210h0M524 210.8h0M542.7 221.1h0M537.6 210.8h0M521.8 207.9h0M522.5 204.4h0M544.1 208.1h0M525 209.3h0M536.2 210.9h0M551.8 207.2h0M522.2 206.7h0M546.1 212.8h0M531.6 208.1h0M538 208.8h0M532.3 213.4h0M535.3 213.5h0M521.1 208.7h0M552.5 210.6h0M538.3 208.6h0M525.3 206.4h0M520.9 208.9h0M551.8 210.8h0M529.1 214.5h0M540.2 203.7h0M537.3 207.8h0M530.1 210.2h0M550.6 217.5h0M528.8 204.9h0M544.3 209.4h0M545.7 208h0M520.6 209h0M538 216.3h0M544.8 202.4h0M548.5 205.3h0M543.5 211h0M545.7 209.2h0M523.9 210h0M539.3 206.1h0M544.4 217.4h0M538.6 202.5h0M527 202.3h0M538.6 212.7h0M528.3 207.6h0M546.4 219.1h0M522.3 213.1h0M544.7 216.5h0M535.8 203.4h0M526.2 204.8h0M537.5 203.8h0M540.8 204.2h0M526.5 206.7h0M551.6 207.3h0M550.5 209.8h0M520.1 205.3h0M521.4 215.5h0M548 202.1h0M523.7 205.2h0M525.9 214.1h0M533.2 215.5h0M542.4 209.2h0M530.9 207.1h0M536.2 207.6h0M520.6 205.3h0M544.6 211.3h0M536.7 209.2h0M546.2 211.4h0M532.5 209.1h0M542.2 208.7h0M547.8 205.6h0M552.1 214.4h0M546.2 209.1h0M519.6 200.8h0M550.8 208.3h0M539.3 209.5h0M541.5 211.4h0M536.3 209.5h0M551.7 205.6h0M522.5 209.7h0M550.7 218h0M539.5 220.3h0M552.6 220.5h0M545.3 208.9h0M521.8 207.3h0M538 206.3h0M529.7 211.7h0M548.9 210.4h0M552.1 207.2h0M537.1 208.5h0M543.7 202.9h0M546.6 199.4h0M523.3 206h0M535.3 209.6h0M532.1 209.3h0M538.3 208.5h0M544.1 212.5h0M551 209.5h0M523.2 209.9h0M552.8 202.8h0M540.9 206.6h0M548.4 215.3h0M523.7 206.7h0M527.9 215.2h0M521.3 208.1h0M528.5 205.6h0M544.8 210.1h0M549 208.4h0M522.2 207.9h0M537.5 208.2h0M537.9 217.9h0M545.2 214.8h0M538 205.5h0M520.9 202.9h0M548.8 211.5h0M535.5 208.3h0M545 213.3h0M548.9 202.9h0M532.8 211.2h0M541.2 219h0M519.5 207.6h0M530.7 208.6h0M524.4 209.2h0M524.3 205.3h0M540.7 215h0M526.4 210.3h0M523.3 209.2h0M528.5 208.8h0M541.5 209h0M531.8 209.9h0M542.2 221.3h0M529.2 202h0M540.6 210.6h0M539.2 213.4h0M536 211.9h0M546 219.5h0M536.4 214.5h0M541.7 207.3h0M520.3 210.1h0M544.8 206.9h0M544.9 218.4h0M536.8 206.7h0M538.5 212.6h0M533.8 211.1h0M537.5 208.8h0M523.9 208.6h0M546.4 210.5h0M547.6 215.3h0M549.3 206.3h0M542.8 207.2h0M530.4 213h0M524.6 204.6h0M536.7 218.6h0M549.9 204.1h0M522.4 206.4h0M522.6 204.5h0M547.1 209.3h0M546.3 210.1h0M537.6 206.1h0M523.8 207.7h0M543.7 215.3h0M533.9 204.2h0M525.7 208.5h0M543 203.8h0M525.4 205.6h0M528.6 204.8h0M541.9 209h0M542.8 209.2h0M550.6 215.5h0M538.2 217.1h0M524.4 213.7h0M529.9 204.9h0M533.8 204.5h0M520.7 198.3h0M523.5 207.6h0M531.9 217.7h0M537.3 207.4h0M525.7 210.6h0M536.9 213.5h0M521.6 202.3h0M538.8 211.2h0M532.8 209.2h0M548.3 215.6h0M550.6 210h0M533.3 216.8h0M536.2 207.1h0M535.4 208.9h0M531 207h0M545.5 209.6h0M537.8 214.9h0M542.4 211.9h0M520.7 209h0M539.8 211.4h0M536.8 202h0M528.3 207.6h0M543.3 213.8h0M545.4 212.7h0M520 213.2h0M528.7 216.6h0M521.2 212.7h0M539.6 218.4h0M528.1 210.1h0M527 209.4h0M538.4 211.3h0M525.5 203.5h0M537.2 215.9h0M545.4 217.8h0M525.3 211.9h0M520.1 205.6h0M529.5 210.9h0M535.1 207.7h0M544 219.4h0M538 213.9h0M535.3 157.3h0M519.5 181.2h0M527.8 191.4h0M535.9 193.2h0" stroke="#686868" stroke-width="3.2" stroke-linecap="round" fill="none"/>
<line x1="512.1" x2="670.3" y1="208" y2="208" stroke="#333" stroke-width="0.9"/>
<line x1="519.4" x2="657.8" y1="197.4" y2="208.4" stroke="#111" stroke-width="1.5" stroke-dasharray="5 4.7"/>
<line x1="519.4" x2="657.8" y1="217.2" y2="240.6" stroke="#111" stroke-width="1.5" stroke-dasharray="5 4.7"/>
<line x1="519.4" x2="657.8" y1="207.9" y2="222.6" stroke="#111" stroke-width="1.5"/>
<rect x="512.1" y="134.7" width="158.2" height="117.45" fill="none" stroke="#a6a6a6" stroke-width="1"/>
<text x="519.6" y="147.2" font-family="Liberation Sans" font-weight="bold" font-size="10" fill="#111">(h)</text>
<rect x="29.3" y="255" width="158.2" height="117.45" fill="#fff"/>
<path d="M118.1 347.9h0M109.6 342.6h0M170.9 336.8h0M87.4 325.3h0M143.7 326.2h0M113.5 341.9h0M92.1 327.1h0M108.1 318h0M107.8 329.5h0M96.9 341.4h0M144.6 330.5h0M129.7 342.6h0M98 331.2h0M89.3 321.4h0M126 327.1h0M165.6 328.5h0M97.8 328.8h0M92.7 326.2h0M87.8 333.7h0M92.3 335.2h0M122.2 337h0M107.6 337.3h0M116.1 330.5h0M116.7 333.6h0M116.6 327.6h0M117.6 326h0M87.5 335.3h0M92.5 331.2h0M100.1 321.3h0M143.2 330.3h0M110 333.4h0M122.6 340.5h0M97.8 321.1h0M119.7 312.8h0M91.3 332.5h0M118.8 328.7h0M120.7 327.5h0M107.1 327h0M110.5 330.2h0M89.6 330.4h0M122.1 328h0M100.7 325.8h0M89.3 332.5h0M108.2 337.4h0M121.7 327.6h0M122.7 333.4h0M101.3 337.1h0M102.1 333.8h0M128.1 347.3h0M112.4 326.8h0M94.4 333.7h0M92.8 327.5h0M114.3 334.4h0M125.3 326.5h0M97 327.5h0M89.9 332h0M102.1 335.2h0M94.2 323.9h0M139.4 322.9h0M120.8 325.6h0M103.5 338.7h0M104.7 344.7h0M151.4 338.1h0M106.8 333.3h0M90.3 326h0M94.4 336.8h0M108.2 334.2h0M104.4 307h0M90.8 325.9h0M126.3 330.5h0M132.2 323.5h0M113.3 333.2h0M90.9 334.6h0M106 325.3h0M100.5 338.1h0M106.5 330.5h0M129.1 318.1h0M96.9 331h0M114 330.9h0M142.1 323.5h0M115.6 342.1h0M134.3 326.8h0M147.5 336h0M88.6 324.7h0M138.7 338.4h0M140 331.5h0M87.6 342.2h0M134.8 334.3h0M102.9 324.7h0M99.9 330.6h0M130.5 328.1h0M103.7 333.8h0M126.1 322.8h0M102.4 335.3h0M137.2 322.6h0M111.7 328.9h0M89.7 323.9h0M135.9 327.7h0M99.5 321.8h0M91.9 331h0M91.6 337.7h0M137.8 339.2h0M103.4 326.8h0M98.9 324h0M107.7 337.6h0M103 341.8h0M100.5 341.7h0M98.2 345.1h0M106.9 319.2h0M120.7 327.7h0M123.8 334.9h0M132.6 335.2h0M116.2 335.2h0M97.7 328.3h0M139.1 322.4h0M108.7 325.1h0M137.5 333.1h0M89.7 334.4h0M123.5 329.2h0M118.8 348.7h0M103.7 326.2h0M136.5 333.4h0M112.7 333.4h0M94.6 335.2h0M103.4 311.8h0M105.8 335.8h0M99.2 331.2h0M87.8 321.3h0M97.6 330.6h0M97.9 328h0M89.7 333.7h0M114.8 341.6h0M131 327.9h0M132.5 336.5h0M95.5 330.9h0M125.9 332.6h0M118.2 329.5h0M155.5 343.5h0M128.8 337.8h0M118.4 340h0M103.2 329.8h0M92.9 334.8h0M92 317.5h0M91.4 330.3h0M131.5 338.2h0M93.3 325.4h0M131.7 329.5h0M92.6 329.7h0M91.5 338.8h0M92.9 333.1h0M116.3 337.2h0M110.8 334.7h0M107.8 314.4h0M91.3 327.3h0M141.7 330h0M132.7 330.4h0M89.8 315.7h0M117.8 323.4h0M95.2 331h0M113.4 319.2h0M122.9 329.2h0M88.6 331.4h0M90 325.5h0M87.6 330.5h0M89.8 347.5h0M103.8 335.7h0M104.9 340h0M91.3 320.7h0M93.3 337.2h0M96.2 326.1h0M92.1 330.1h0M87.4 320.3h0M98.7 339.2h0M119.6 327.4h0M101.4 336h0M114.4 334.6h0M103.3 328.5h0M98.7 329.5h0M115.4 329h0M101 314.5h0M123.2 320.1h0M90.6 339.8h0M101 337.7h0M88.6 330.8h0M117.5 332.7h0M116.7 333.9h0M106.7 328.7h0M98.4 335.1h0M134 329.8h0M90.9 328.9h0M130.9 339.1h0M103.2 320.7h0M90.2 314.5h0M120.7 339.1h0M129.5 330.5h0M114.7 325h0M148.4 337.8h0M126.9 317.8h0M129.3 333.6h0M114.8 331.3h0M143.2 334.8h0M108.1 331h0M97.8 340.5h0M91.4 321.9h0M116.3 334.1h0M156.8 324.9h0M112.8 311.6h0M149.3 336.1h0M115.5 334h0M96.3 324.6h0M93 327.9h0M97 331.2h0M124.5 339.9h0M130.8 328.4h0M109.9 328.4h0M98.3 342.5h0M97.6 338.9h0M123.7 331.9h0M116.2 321.6h0M94.6 330.3h0M101.9 328.4h0M104.8 322.1h0M107.5 340.9h0M142.4 339.1h0M93.2 335.3h0M106.3 334.5h0M119.8 334.6h0M134.3 339.7h0M119.3 335.2h0M95.9 330.6h0M120.9 335.5h0M105.1 324.6h0M105.8 326h0M128.4 330.5h0M103.3 324h0M130.3 323.6h0M137.2 321.4h0M117.3 332.9h0M99.4 320.7h0M124.4 323.2h0M112.7 345.8h0M118 332.4h0M135.6 340.2h0M96.4 332.1h0M102.3 331.4h0M89.7 322.1h0M104.4 328.6h0M107.4 324.4h0M127.5 335.7h0M101.2 322.8h0M132.7 313.4h0M96.3 330.3h0M94.4 337.8h0M106.8 327.1h0M172.3 338.2h0M87.9 333.5h0M103.2 344.1h0M99.5 338.5h0M134.7 340.2h0M114.6 330.1h0M97.2 323.8h0M98.9 334.1h0M108.2 331.9h0M122.2 328.3h0M122 331.8h0M118.5 331.9h0M92 327.9h0M99.9 332.7h0M105.9 323.7h0M107.9 337.2h0M118.3 324.8h0M112.3 323.7h0M111.7 326.3h0M110.5 325h0M120 327.6h0M123.3 339.3h0M106.5 329h0M138.5 333.3h0M128.1 325.3h0M138.3 333.3h0M141.8 313.6h0M104.1 327.5h0M89.8 335.1h0M125.6 334.2h0M104.2 329.9h0M87.5 334.5h0M90.8 318.8h0M108.2 342.6h0M94 330.4h0M121.4 323.8h0M120.4 337.1h0M88.7 336.5h0M104.8 331.7h0M137 330.6h0M105.8 334.6h0M133.6 336.2h0M88.3 332.1h0M111.9 332.1h0M92.6 331.7h0M102.7 318.3h0M93.1 336.1h0M119 332.7h0M113.4 334.4h0M88 318.7h0M91.2 325.3h0M109.1 328.5h0M93.1 331.2h0M94.7 327.4h0M102.6 324.1h0M167.5 328.4h0M141 329.2h0M87.3 338.7h0M116.6 339h0M88.1 333h0M114.1 336.8h0M112.4 329.4h0M128 317h0M115.5 330.3h0M141.3 332.5h0M138.4 327.1h0M113.3 334h0M139.8 332h0M103.3 314.8h0M128.3 324.4h0M171.6 332.3h0M116 329h0M135.1 328.7h0M95.8 331h0M94.7 330.3h0M106.7 323.1h0M87.4 325.6h0M97.6 327.1h0M93.4 335h0M99.8 326h0M112.1 301h0M132.2 298.9h0M127.7 310.8h0" stroke="#c9c9c9" stroke-width="3.2" stroke-linecap="round" fill="none"/>
<path d="M85.7 326.1h0M48 327.6h0M46.6 329.9h0M63.4 340.1h0M48.8 331.8h0M52.2 328.3h0M50.8 331.1h0M41.8 329.7h0M46.2 323.1h0M64.7 322.5h0M80.7 327.4h0M79.6 332.8h0M83.3 320.2h0M37.8 328h0M80.8 332.5h0M43.3 326.3h0M56.5 327.6h0M78.9 329h0M73.9 341.6h0M68 321.3h0M61.9 338.5h0M63.5 330.2h0M57.2 333h0M67 333.7h0M49.5 327.7h0M76.1 331.9h0M78.1 328.9h0M82.9 330.5h0M58.7 331.1h0M40.5 322.9h0M53.8 336.4h0M73.6 323.9h0M37.4 328.3h0M65.1 330.4h0M85.6 330.6h0M75.8 316.2h0M84.9 322.9h0M55.7 325.6h0M73.4 335.2h0M82.8 320h0M51.3 331.1h0M66.2 330.1h0M78.2 339.1h0M59 330.8h0M70.8 329.9h0M85.6 333.4h0M68.7 336.9h0M81.8 334.9h0M41.7 332.2h0M68.3 327.9h0M52.7 329.9h0M65.3 339.1h0M60.1 327.3h0M68.4 330.1h0M65.2 329.2h0M77.5 328.9h0M83.6 331.6h0M48.8 323.8h0M59.6 327.7h0M59 331.6h0M69.4 328.8h0M79.5 325.5h0M79.2 334.2h0M79.3 327.1h0M48.4 332.2h0M80.5 331.7h0M47.2 326.7h0M53.9 327h0M61.6 338.5h0M50.7 333.4h0M49.9 332.1h0M72 323.9h0M84.9 337.1h0M57.2 331.5h0M83.8 328.6h0M48.3 330.1h0M85.8 326.7h0M80.1 329.5h0M75.4 324.3h0M67.7 330.2h0M62 334.6h0M50.5 327.8h0M64.4 328.8h0M42.3 326.4h0M70.2 327.4h0M44.3 323.5h0M58.3 330.5h0M82.5 338.1h0M63.6 330.4h0M80.7 334.4h0M78.1 323.6h0M85.5 335.7h0M58.5 327.3h0M39.8 331.3h0M83 326.4h0M82 334.4h0M39.7 325.9h0M86.2 334.3h0M60.1 320.1h0M46.1 323.2h0M55.6 331.2h0M75.2 320.5h0M60.3 324.7h0M60.5 327.6h0M71 325.5h0M45.6 331.4h0M43.9 327.8h0M85.6 330.8h0M63 327.5h0M60.3 336.6h0M42.5 325.1h0M76.9 323.4h0M86.9 335.8h0M55.9 326.3h0M47 327.5h0M83.4 328.6h0M48.3 325.8h0M50.4 327.3h0M47.2 328.2h0M57.3 327.2h0M83.5 339.7h0M59.9 321h0M73.9 330.9h0M85.2 323.9h0M61.2 334.7h0M79.3 340.9h0M56.5 337.4h0M73.2 330.6h0M85.2 334.9h0M79.5 332h0M43.5 330.2h0M51 324.2h0M71.5 320.9h0M56.1 328.5h0M61.2 329.7h0M65.5 325.7h0M55.1 332.8h0M65.1 327.2h0M41.8 325.2h0M66.2 318.5h0M72.2 322.4h0M64.2 339.5h0M61.1 337.6h0M39.2 329.9h0M63.2 332.4h0M58 326.2h0M57.6 334.3h0M67.8 327.2h0M64.9 329.2h0M42.7 329.8h0M57.1 325.4h0M78.3 324.3h0M63.3 332.4h0M61.9 334h0M64.5 323h0M67.5 331.1h0M61 329.1h0M37.5 328.4h0M71.9 338.6h0M44 325.2h0M55.1 339.1h0M49.6 336h0M84.5 331.9h0M78.4 331.8h0M65.2 320.8h0M43.2 327.5h0M68.4 331.2h0M71.6 321.7h0M39.9 328h0M49.2 326.4h0M65.7 323.5h0M73 335.8h0M77.3 332.1h0M66.8 331.9h0M39.9 327.9h0M68 324.9h0M69.2 330h0M85.2 328h0M47.8 327.3h0M63 337h0M58.7 323.7h0M37.8 327.4h0M54.4 329.7h0M54.4 332.8h0M84.4 331.5h0M79.1 327.7h0M85.5 324.3h0M76.2 336.5h0M85.4 323.8h0M64.2 338.1h0M73.7 338.2h0M67.5 330.1h0M40.4 333.4h0M60.9 335.3h0M80.1 332.5h0M53.6 323.9h0M49.5 330.7h0M65.8 331.9h0M66.2 327.9h0M69.9 327.4h0M53.2 324.3h0M68.9 327.9h0M40.7 324.2h0M80.1 329.7h0M84.1 333h0M86.8 334.4h0M66.7 335.3h0M69.8 328.3h0M58.8 332.3h0M50.2 325.1h0M83.4 329.9h0M61.2 334.1h0M39.3 328.5h0M42.7 327.5h0M39.2 324.3h0M81.6 334.4h0M64.5 329.7h0M63.2 337h0M53.8 329.3h0M70.2 334.3h0M42.6 324.2h0M56.8 334.6h0M83.9 336.4h0M65 331.8h0M51.7 326.7h0M71.4 325.2h0M69.9 323.5h0M39.2 330.1h0M49.3 331h0M47.7 330.4h0M39.1 324h0M62.1 334.7h0M54.6 328.1h0M85 334.3h0M50.7 330h0M79.8 331h0M39.7 327.6h0M85.6 329.5h0M65.6 328.5h0M51.7 332.5h0M49.4 335.9h0M59.3 332.5h0M52 331.4h0M69.3 337.8h0M58.5 331.9h0M51.9 327.7h0M42.7 325.3h0M42 333.1h0M72.6 329.2h0M80.6 340.2h0M39.2 332.7h0M65.1 322h0M50.2 327.6h0M81 324.2h0M82.5 324.8h0M69.8 328h0M44.1 324.3h0M42.9 328.5h0M83.4 333.9h0M59.9 333h0M52 327.4h0M69 326.1h0M68.9 334.4h0M56.1 330.9h0M49.6 329h0M54.2 323.2h0M58.6 327.5h0M83 325.5h0M77.9 334.2h0M62 330.3h0M54.3 326.1h0M54.4 328.5h0M68.9 335.5h0M70.3 327.7h0M45.9 330.2h0M39 325.4h0M83 332.4h0M72.3 342.7h0M86.7 332.8h0M82.9 339h0M77.5 314.7h0M50.2 325.8h0M50.9 324.9h0M68.8 328.1h0M57 334.9h0M36.9 326.9h0M78.1 333.9h0M46.3 329.2h0M63.4 324.2h0M44.2 326.3h0M54.4 340.9h0M83.3 331.3h0M44.6 327.2h0M76.6 327.8h0M65.6 333.6h0M82.6 321h0M58.4 329.7h0M48 335.5h0M79.7 331.8h0M69.8 327.3h0M57.7 335.5h0M76.1 330.2h0M63.3 331.4h0M46 325h0M58.9 328.6h0M81.1 335.9h0M66.3 332.7h0M58.3 328.2h0M45 332.3h0M60.8 325.2h0M73.1 323.4h0M38.5 327.7h0M63.6 323.6h0M61.3 323.9h0M57.5 323.9h0M56.4 330.5h0M39.4 330.6h0M60.4 325h0M78.2 328.4h0M73.3 328h0M53 325.2h0M80.1 337.2h0M87.3 335.2h0M87 330.4h0M45.7 330.4h0M56.9 332.7h0M75.2 335.4h0M45.9 324h0M83.4 328.3h0M51.8 331.9h0M75.2 338.9h0M86.3 332.2h0M42.6 327.3h0M67.3 329.9h0M62.4 325.5h0M84.4 338.8h0M71.9 334.7h0M86.4 332.8h0M54.2 330.9h0M81.2 342.6h0M53 333.6h0M81.8 330.2h0M43.6 329.3h0M37.9 327.8h0M69.1 328.9h0M59.2 333.3h0M65.3 331.7h0M64.7 320.2h0M54.2 323.3h0M42.9 329.4h0M82.9 334.6h0M86.3 335.1h0M60.4 324.2h0M63.4 326.5h0M38.7 323.4h0M59.9 332.2h0M69 335.1h0M68.5 329.4h0M70.4 339.3h0M61.1 328.4h0M84.3 328.4h0M48 333h0M58.6 330.4h0M41.9 331.3h0M71.9 321.8h0M42.1 328.2h0M37.7 328.3h0M63.9 332.4h0M80.7 338.8h0M54.3 327h0M50.7 330.8h0M41.9 329.3h0M42.2 332.1h0M69.3 330.4h0M72.3 331.5h0M73.8 320.4h0M77.1 326.1h0M53.3 333.3h0M53.5 330.4h0M63.7 318.5h0M41 327.4h0M78.1 335.1h0M74.2 328h0M46.4 324.8h0M48 327.6h0M66.3 339.4h0M61.3 325.6h0M84.7 326.4h0M85.1 333.9h0M69.1 332.2h0M78.6 318.3h0M85.5 333.8h0M60.8 329h0M87.3 329.1h0M58.9 334h0M45.4 326.5h0M86.8 328.7h0M45.9 324.4h0M62.7 326.7h0M49.9 333.8h0M76.8 335.7h0M81.4 323.1h0M79.3 338.5h0M57.4 335.7h0M83.4 327.4h0M55.6 331.7h0M68.2 327.1h0M54.6 329.6h0M67.3 329.2h0M77.3 330.5h0M81.4 315.8h0M84.2 331.4h0M81.9 335.8h0M74.5 332.5h0M41.5 331.1h0M87.3 330.4h0M37.9 324.1h0M45.1 331.1h0M53.6 326.6h0M56.4 336.4h0M70 330.1h0M65.6 325h0M44.3 326.3h0M60.8 332.5h0M79.1 335.6h0M73.8 324.7h0M76.9 333.9h0M71.6 335.4h0M66.9 339.3h0M62.5 328h0M58.2 327.7h0M39.1 327.8h0M85.2 324h0M46.4 331.2h0M76.4 340.6h0M57.2 328.9h0M46.1 327.2h0M81 330h0M79.3 326.1h0M59.2 327.7h0M84.8 320.4h0M86.1 334.9h0M52.8 328h0M68.5 337.8h0M87.2 334.2h0M53.5 328.6h0M39.1 326.6h0M87.1 330.5h0M77.2 328.3h0M41.3 323.9h0M65 333.5h0M70.9 318.4h0M51 326.3h0M53.3 327.3h0M50.6 325.2h0M42.1 327.9h0M78.6 325.7h0M77.3 331.5h0M48.8 323.9h0M61.7 330.7h0M83.1 328.7h0M56.6 325.7h0M81.8 327h0M80.8 328.2h0M77.8 316.1h0M72.4 331.2h0M52.3 304.8h0M71.8 307.2h0M71.8 312.3h0M80.4 312.3h0M85.8 353.6h0M45.4 314.7h0" stroke="#686868" stroke-width="3.2" stroke-linecap="round" fill="none"/>
<line x1="29.3" x2="187.5" y1="328.5" y2="328.5" stroke="#333" stroke-width="0.9"/>
<line x1="36.6" x2="175" y1="319.3" y2="312.7" stroke="#111" stroke-width="1.5" stroke-dasharray="5 4.7"/>
<line x1="36.6" x2="175" y1="336.8" y2="349.6" stroke="#111" stroke-width="1.5" stroke-dasharray="5 4.7"/>
<line x1="36.6" x2="175" y1="327.9" y2="333.7" stroke="#111" stroke-width="1.5"/>
<rect x="29.3" y="255" width="158.2" height="117.45" fill="none" stroke="#a6a6a6" stroke-width="1"/>
<text x="36.8" y="267.5" font-family="Liberation Sans" font-weight="bold" font-size="10" fill="#111">(i)</text>
<rect x="190.2" y="255" width="158.2" height="117.45" fill="#fff"/>
<path d="M251.3 322.4h0M324.9 334.3h0M255.8 335.4h0M261.6 336.2h0M270.5 325.5h0M250 329.4h0M269 318.4h0M271.3 331.9h0M254.8 335.8h0M286.3 333.9h0M252.7 345.6h0M270.9 338.3h0M284.4 335.3h0M257.6 338h0M294.5 337.9h0M267.5 333.4h0M279.6 334.2h0M248.6 328.4h0M250.4 328.7h0M254.4 350.2h0M261.4 332.6h0M250.5 331.7h0M255.4 330.2h0M256.9 339.1h0M334.8 338.5h0M254.7 330.6h0M300.7 337.6h0M255.4 324.7h0M275.5 328.3h0M263.1 331.8h0M291.2 344.6h0M252.6 325h0M283.1 341.8h0M282.4 333.6h0M286.1 328.5h0M283.3 338.1h0M254.9 335.6h0M291.1 330.6h0M262.9 334.7h0M253.4 328.2h0M273.7 339.8h0M284.3 318.4h0M282.2 320.3h0M274.5 326.9h0M318.7 342.4h0M276 336.4h0M264.6 327.9h0M255.1 322.8h0M259.7 341.3h0M303.7 344.7h0M258.2 332.2h0M256 337.2h0M270 328.8h0M286.4 321.3h0M250.8 328h0M266.2 329.4h0M250.4 327.2h0M276.9 330.1h0M296.1 342.5h0M263.8 331.7h0M252.1 332.2h0M258.8 332.6h0M270 326.9h0M257.1 330.8h0M284.1 340.2h0M255.1 332.1h0M259.6 331.1h0M250.2 340.8h0M255.5 327.8h0M256.2 335.1h0M263.5 334.8h0M275.7 322.5h0M301.7 336.3h0M252.5 330h0M300.7 332.9h0M286.6 340.6h0M250.2 345.3h0M273.1 336.2h0M262.4 334.1h0M262.5 330.8h0M259.7 337.3h0M256.6 320.1h0M283.9 326h0M276.6 328.7h0M270.9 326.2h0M289.7 338.9h0M292.9 341.3h0M255 329h0M255.8 322.6h0M290.5 336.1h0M291.2 340.9h0M254.9 331.7h0M275.7 323.3h0M285.6 329.4h0M252.9 339.2h0M276.5 333.7h0M257 332.3h0M252.7 329h0M265.4 331.3h0M275.2 330.6h0M248.7 335.3h0M296.2 331.9h0M252.4 338.9h0M273.9 338.5h0M263.3 337.8h0M278.5 330.7h0M250.8 335.9h0M281 330h0M306.6 330.8h0M257 332.4h0M256.3 326.9h0M290.8 330.8h0M254.5 339.5h0M266.3 330.8h0M255.8 325.7h0M277.4 337.7h0M254.7 339.5h0M278.8 333.1h0M252.5 324.2h0M274.1 345.4h0M261 341h0M251 326.8h0M249.4 338.7h0M248.3 322.1h0M256.7 341h0M265.7 329.9h0M248.7 342.3h0M285.4 338.9h0M328.1 340.5h0M248.7 335.4h0M251.7 332.3h0M302.4 327h0M267 336.1h0M268.2 330.3h0M281.9 347.7h0M278.6 326h0M270.7 327h0M256.7 340.5h0M258 335.5h0M284.2 349.9h0M285.6 328.8h0M267 334.4h0M250.2 332.8h0M273.2 336.1h0M260.2 332.7h0M277.4 315.7h0M258.9 331.8h0M251.7 319.6h0M276.4 322.7h0M278.4 328.7h0M285.7 331.3h0M306.8 321.7h0M308.5 333.2h0M291.2 344.3h0M263.7 343.2h0M282.6 329.2h0M251.8 321.1h0M265.3 331.9h0M304.3 337.5h0M266.1 321.8h0M248.6 329.6h0M271.8 338.9h0M258.8 332.9h0M281.3 332.7h0M282.4 322.2h0M256.3 330.6h0M260.8 351.1h0M264.7 319.2h0M251.5 342.8h0M262 326h0M250.6 334.6h0M273.9 336.9h0M250 316.5h0M251.9 325.2h0M256.5 345.5h0M266.8 331.5h0M263 332.8h0M269.3 320.2h0M260.1 327h0M267.9 320.1h0M251.2 322h0M257.1 321.5h0M292.9 333.6h0M256.1 330.6h0M249.6 328.7h0M263.6 333.8h0M291.9 331.1h0M266.1 327.7h0M256.2 332.8h0M288.9 336.6h0M268.5 333.4h0M272.3 329.8h0M272.1 336.1h0M272.7 319.3h0M314 334.3h0M277.5 327.2h0M289.6 333.8h0M249.8 338.9h0M301.1 332.7h0M303.5 335.1h0M285.7 326.1h0M274.8 327.8h0M280.6 329.6h0M273.9 325.9h0M269 333.3h0M251.3 331.7h0M249.5 323.6h0M297.5 326.3h0M267 308.6h0M257.4 333.5h0M260.4 334.7h0M288.7 313.3h0M250.1 334.2h0M289.8 335.9h0M265 327h0M316.4 328.5h0M269.2 327h0M269.5 323.8h0M288.6 322.8h0M278.6 330.8h0M259.2 322.2h0M262 326.9h0M292.9 341.7h0M312.5 324.1h0M285 330.8h0M276.5 326.1h0M312.8 329.1h0M282.3 332.7h0M260.4 329.1h0M278.5 331.7h0M284.9 343.7h0M248.9 326.6h0M277.8 347.6h0M277.3 340.6h0M256.2 323.9h0M267.8 341.3h0M261.5 333.6h0M273.1 335.9h0M281.9 330.7h0M336.4 326.3h0M264.1 338.8h0M292.3 334.9h0M285.8 337.6h0M290.7 327.1h0M287.6 339.9h0M268.9 337.2h0M267.6 331.9h0M299.5 336.7h0M248.7 333.1h0M251 328h0M264.4 328h0M277.5 322.3h0M275.4 331.6h0M280.5 333.4h0M251.5 326.7h0M252.4 343.5h0M273.9 334.1h0M265.4 333.9h0M261.9 336h0M251.8 328.3h0M261.4 327.5h0M249.5 334.1h0M263 321.2h0M252.7 336.4h0M259.2 333.9h0M274.6 326.7h0M285.2 325.2h0M248.6 331.7h0M266 328.7h0M258.4 329.8h0M270.7 336.6h0M299.1 334.4h0M256.2 339.6h0M273.7 326.1h0M257.6 329.6h0M303.9 330.2h0M274.1 331.6h0M255.1 343.3h0M257.8 334.5h0M255.5 326.9h0M277.4 314.9h0M265.3 326.1h0M280.8 337.3h0M282.4 329.6h0M284.2 333.8h0M251.1 320.5h0M284.4 340.7h0M308.2 338.2h0M287.3 331.8h0M319.5 328.6h0M293.6 337.5h0M258.9 323.8h0M281.7 331.4h0M258.1 338.7h0M260.8 333.5h0M268 327.6h0M285.9 336.2h0M270.2 347.8h0M284.9 337.7h0M294.6 339.2h0M296.9 324.3h0M292.6 343.7h0M275.7 343.4h0M294.8 335.2h0M269.8 329.4h0M279.9 335h0M318.4 327.5h0M310.9 344.8h0M248.4 334.1h0M267.2 335.1h0M255.7 330.5h0M274.6 339.4h0M284.5 335h0M289.2 333.4h0M304.6 331.9h0M295.1 330.2h0M250.6 324.8h0M314.5 344h0M267.3 342h0M249.9 341h0M307.5 332.5h0M260.2 331.6h0M304.8 332.4h0M267 333.3h0M249.9 342.9h0M298.5 330.3h0M281.5 323.5h0M277.5 324.1h0M310.7 335.8h0M297.6 331.7h0M279.7 330.9h0M291.1 336h0M299.2 337.7h0M262.9 331h0M253.2 319.4h0M283 330.5h0M253.3 336.8h0M255.3 339.8h0M257.6 339.2h0M255.8 334.6h0M256.7 341.7h0M284.1 344.7h0M276.6 336.1h0M251 330.5h0M289.5 326.7h0M281.3 330.1h0M289.1 332.8h0M252.4 345.9h0M272.4 330.7h0M257.9 332.8h0M283.8 345.4h0M279.1 341h0M250.2 339.6h0M289.7 323.9h0M271.4 329.6h0M257.9 328.7h0M269.4 326.2h0M249.1 335h0M298 332.5h0M291.1 339.1h0M261.4 336.1h0M262.5 334.5h0M269.7 329.2h0M266.7 332h0M252.5 339.6h0M298.6 326.8h0M273.1 302.4h0M293.2 299.5h0M288.7 312.3h0" stroke="#c9c9c9" stroke-width="3.2" stroke-linecap="round" fill="none"/>
<path d="M231.7 331.2h0M210.5 326.9h0M229.5 328.9h0M246.5 330h0M230.2 324.9h0M224.7 337.4h0M242.3 335.2h0M224.8 337.7h0M227.7 334h0M231 336.3h0M247.9 321.9h0M230.2 326.7h0M228 329h0M246.1 340.8h0M236.8 323.1h0M231.8 335.7h0M242.8 350h0M219.9 325.8h0M199.8 323.6h0M227.4 333.9h0M226.6 332.9h0M223.4 326.9h0M211 324.5h0M247.2 334.1h0M243.5 335.4h0M207.2 330h0M219 324.3h0M240.4 335.2h0M235.7 336.1h0M247.3 338.3h0M234.7 330.5h0M222.2 324.7h0M222.7 344h0M223 330.3h0M247.6 329.3h0M226.3 329.6h0M224.2 334.3h0M229.3 333.8h0M239.5 334.3h0M243.1 330.5h0M217.9 332.6h0M243.8 334.7h0M203.5 327.3h0M226.3 330.2h0M235.8 315.4h0M212.6 323.8h0M199.4 330.3h0M231.7 326.5h0M222.6 324.9h0M240.7 323.9h0M233.1 328.3h0M246.7 336.4h0M226 326.9h0M208.1 330.7h0M246.6 324.5h0M224.5 321.3h0M199.6 326.4h0M227.9 333.6h0M220.3 327.6h0M197.7 330h0M227.6 322.8h0M222.4 327.5h0M227.7 332.9h0M234.9 332.2h0M217.6 328.6h0M233.7 318.4h0M197.7 328.8h0M235.9 322.2h0M231.5 333h0M239.9 328.3h0M233.3 325.7h0M210.4 328.6h0M242.5 330.4h0M214.5 328.9h0M211.5 332.8h0M239.7 346.3h0M202.6 334.8h0M234.7 335.2h0M235 334.7h0M243.4 323.6h0M221.4 331.6h0M238.6 325.6h0M248.3 331.2h0M241.3 329h0M242.1 336h0M197.6 326h0M229.5 327.1h0M206.8 326.7h0M242.8 333.9h0M233 328.7h0M205.9 333.4h0M231.1 327.5h0M235.9 339h0M225.6 323.5h0M216.2 331h0M208.2 328h0M223.7 343.2h0M212.3 326.9h0M208.8 330h0M244.7 329.5h0M218.3 329.1h0M243 320.9h0M204.6 330.5h0M233.7 337.2h0M216.2 331.8h0M219.4 328h0M245.2 330.8h0M221.2 327.8h0M232.2 323.6h0M201.4 327.7h0M201.7 325.1h0M233.5 333.5h0M198.3 329.8h0M242.3 339.1h0M240.7 325.5h0M235.6 327.2h0M231.8 331h0M241.8 338h0M213.9 327.1h0M229.8 336.2h0M240.6 334.7h0M236 324.4h0M198.4 326.8h0M241.6 320.8h0M232 338.9h0M235.2 333h0M215.1 331.3h0M231 333.4h0M246.6 332.8h0M202.6 321.4h0M213.7 327.7h0M237.9 325.9h0M201.3 326.1h0M245.7 336.8h0M214.3 335.4h0M239.5 326.9h0M202.5 333.4h0M226.1 327.9h0M220 330.2h0M207.7 327.5h0M200.5 324.9h0M212 333.5h0M243.5 330.2h0M203.7 328.2h0M225.8 332.4h0M220.1 328.7h0M207.5 328h0M199.8 332.9h0M218.1 327.7h0M227.8 330.9h0M239.3 321.8h0M240.8 323.4h0M208.2 331.4h0M241.6 337.1h0M202.7 325.3h0M224.3 328.8h0M226.3 335.6h0M215.6 329.9h0M200.1 328.3h0M240.1 330.6h0M246.4 332.1h0M202.3 327.7h0M206.5 329.6h0M243.1 323.7h0M221.7 320.6h0M232 327.7h0M247.4 335h0M214.1 322.3h0M205.9 328.1h0M246.2 339.3h0M224.3 322.4h0M239 328h0M218.6 335h0M198.3 329.8h0M226.3 336.7h0M240.3 336.4h0M220.4 325.1h0M219.4 325.5h0M227 335.4h0M235 329h0M205.6 325.6h0M206.3 329.4h0M216.1 335.1h0M244.8 339.5h0M198.2 325.3h0M246.1 338.5h0M239.7 323.6h0M237.8 324.3h0M213 331.9h0M200.4 325.6h0M217.1 327.3h0M214.4 337.5h0M210.4 322.4h0M241.7 331h0M207.4 328.2h0M245.4 332h0M224 337.2h0M203 325.1h0M227 331.1h0M210.7 327.8h0M216.1 328.1h0M215.5 337.3h0M197.9 327.1h0M231.9 325.2h0M244.3 340.4h0M218 327.8h0M226.4 320.2h0M216.3 324h0M235 328.4h0M231.5 321h0M231.3 329.3h0M208.3 327.1h0M228.2 335.1h0M227.5 324h0M218.5 326.7h0M205.4 326.1h0M221.9 327.8h0M231.3 330.6h0M219.7 326.6h0M245.5 333.9h0M200.3 330.9h0M216.1 330.1h0M225.5 333.5h0M198.5 326.5h0M241.2 324.6h0M216.2 332.9h0M200.2 326.8h0M243 326.9h0M230.8 326.2h0M236.6 335.3h0M225.1 337.8h0M245.5 334h0M230.1 328.2h0M212.4 327.2h0M213.7 329.3h0M231 327.9h0M222.6 331.2h0M221.2 323.1h0M222.3 328.3h0M210.1 336h0M235.4 328.1h0M202.7 324.1h0M206.1 331.2h0M230.1 336.3h0M226.3 327.8h0M230.6 329.9h0M244.3 327.2h0M234.2 347.9h0M201.1 333h0M210.8 333.9h0M209.2 326.4h0M218.1 335.6h0M216 336.7h0M237.5 325.1h0M215.2 325.8h0M224.3 331.3h0M210.1 326.8h0M227.4 328.4h0M203 328.3h0M245.3 336.6h0M207.4 333.1h0M243 334.7h0M199.1 328.8h0M202.7 327.9h0M240.8 331h0M243.5 339.5h0M235.3 325.9h0M218.9 324.5h0M234.2 337.7h0M215.2 332.5h0M211.2 320.5h0M216.9 328.7h0M234.7 321.4h0M205.8 325.5h0M214.6 325.2h0M198.9 327.8h0M226.6 320.2h0M233 331.5h0M198.8 327.2h0M199.9 326.9h0M214.3 326.2h0M230 331.7h0M231.3 328.5h0M237.1 331.1h0M217.5 321.6h0M197.7 328.4h0M242.6 314.6h0M231.7 322h0M209.2 328.4h0M230 342.4h0M216.4 325.3h0M227.9 328.1h0M242.2 332.6h0M202.5 327.5h0M224.2 329.4h0M211.5 333.8h0M246.9 335.1h0M231.7 326.8h0M201.7 329.8h0M200.6 329.9h0M222.2 330.5h0M198.6 327.5h0M240.8 323.2h0M216.9 332.1h0M202.5 327.4h0M210.7 335h0M210.3 326.9h0M201.8 326.9h0M204.2 326.2h0M220.6 334.1h0M204.6 325.2h0M236.5 323.2h0M225.9 327.8h0M218.9 324.3h0M229.4 336.6h0M221.4 327.4h0M223 329.4h0M216.9 330.9h0M227.6 328.6h0M240.8 326.5h0M247.5 332.9h0M234.8 341.8h0M224 328.1h0M217 327.8h0M238.4 322.9h0M200.9 329.3h0M217 328.7h0M220.7 327h0M201.8 331.3h0M209.2 322.9h0M228.8 332.4h0M222.8 341.9h0M198.7 329.3h0M231.6 331.5h0M208.7 335.5h0M221 330.3h0M238 333.6h0M227.2 332.7h0M243.5 329.8h0M247.7 343.5h0M244.6 331.2h0M208.1 325.4h0M236.1 330h0M216.2 326.3h0M243 332.4h0M232.2 335.7h0M235.4 332h0M217.9 328.3h0M236.9 331.3h0M226.5 329.2h0M201.4 326.3h0M233.4 322.1h0M229.9 335.2h0M243.4 327.9h0M227 337.3h0M206.3 329.3h0M230.3 342.2h0M203.3 328.8h0M234.1 329.7h0M244.6 339.5h0M245.1 327.6h0M215 335.1h0M240.9 331.9h0M244.4 328.6h0M238.9 336.2h0M219.2 333.7h0M240.2 318h0M234.6 341.1h0M235.3 330h0M205.9 324.8h0M218.2 336.6h0M206.5 321.2h0M234.5 331.5h0M207.5 332.2h0M234 332.1h0M229.7 333.8h0M240.2 346.9h0M221.5 327.3h0M214.8 328.6h0M224.4 332.1h0M222.2 322.3h0M236.1 319.4h0M206.4 330.5h0M232.6 324.7h0M237.2 336.8h0M247.1 332h0M223.2 331.2h0M211 322.9h0M199.8 327.7h0M202 332h0M208.6 325.1h0M206.3 329.9h0M214.6 337.9h0M223.1 332.3h0M215.3 330.5h0M221.9 320.7h0M243.9 314.8h0M235.3 330.9h0M216.6 328.9h0M210.6 333.5h0M233.4 323.5h0M231.3 329.4h0M205.7 325.7h0M235.7 333h0M241.1 333.7h0M208.3 336.7h0M211.6 329.2h0M210.3 337.2h0M227.9 327h0M246.9 326.2h0M222.9 326.7h0M218.5 329.6h0M207.9 338.8h0M215.1 339.2h0M205.4 328.2h0M243.1 322.3h0M236.5 327.9h0M216 325.3h0M240.8 333.6h0M206.5 323h0M245.5 347.1h0M201.1 326.1h0M204.6 330.6h0M204.5 331.3h0M215.6 332.2h0M223.5 331.4h0M241.6 322.6h0M236.3 332h0M228.2 335.1h0M230.8 337.2h0M210.9 327.3h0M226.6 328.3h0M203.5 326h0M246.1 333.3h0M232.8 307.2h0M233.4 312.3h0M241.4 312.3h0M246.8 354.2h0M206.4 313.8h0" stroke="#686868" stroke-width="3.2" stroke-linecap="round" fill="none"/>
<line x1="190.2" x2="348.4" y1="328.5" y2="328.5" stroke="#333" stroke-width="0.9"/>
<line x1="197.5" x2="335.9" y1="319.3" y2="315.5" stroke="#111" stroke-width="1.5" stroke-dasharray="5 4.7"/>
<line x1="197.5" x2="335.9" y1="339.6" y2="349.6" stroke="#111" stroke-width="1.5" stroke-dasharray="5 4.7"/>
<line x1="197.5" x2="335.9" y1="327.9" y2="336.8" stroke="#111" stroke-width="1.5"/>
<rect x="190.2" y="255" width="158.2" height="117.45" fill="none" stroke="#a6a6a6" stroke-width="1"/>
<text x="197.8" y="267.5" font-family="Liberation Sans" font-weight="bold" font-size="10" fill="#111">(j)</text>
<rect x="351.2" y="255" width="158.2" height="117.45" fill="#fff"/>
<path d="M427.1 322.3h0M441.9 323.1h0M419.6 316.7h0M422.7 320h0M413.8 322.6h0M416.1 319.9h0M434.2 313.3h0M420.9 325.1h0M410.8 323.6h0M436.1 322.1h0M450.3 314h0M417.1 328.5h0M427.1 318.5h0M426.7 310h0M410.8 325.5h0M430.5 324.4h0M428.4 324.2h0M412.7 328.8h0M412.7 315.2h0M437.7 329.9h0M420.7 320.8h0M460.1 323.4h0M422.7 325h0M451.1 321.6h0M439.8 305h0M428.3 323.9h0M444.2 330.8h0M415.7 335.5h0M414.6 327.2h0M442 328.7h0M426 326.8h0M429.4 325.4h0M439.7 317.7h0M431.1 331.2h0M442.8 324.7h0M436.6 330.8h0M433.3 332.5h0M425 331.4h0M434.5 326.3h0M435.3 329.1h0M462 320.3h0M436.3 307.7h0M423 328.9h0M429.2 329h0M426.9 333.6h0M426.1 319.6h0M429.9 321.6h0M448.8 323.7h0M409.6 319.8h0M467.9 327.8h0M431.8 317h0M417.3 330.9h0M417.5 325.6h0M415.7 322.8h0M422.5 333.7h0M421.3 313.6h0M447.1 332.8h0M426 324.4h0M449.8 321.1h0M438.2 323.8h0M432 315.8h0M409.7 326.2h0M412.2 331.6h0M412 324h0M428.1 325.1h0M414.9 317.7h0M470.8 309.3h0M424.1 322.2h0M455 312.6h0M430.9 326.2h0M430.1 324h0M414.4 321.2h0M430.8 312.2h0M419.7 330h0M428.8 323.4h0M438.6 311.9h0M442.8 317.6h0M424.7 319.3h0M433 323.7h0M426.6 324.3h0M442.1 306.9h0M411.7 324.6h0M441.4 317.3h0M448.2 316.4h0M441.4 331.1h0M431.5 332.9h0M417 313.5h0M418.5 323.8h0M442.4 324.6h0M457.4 320.8h0M432.3 329.7h0M438.6 319.9h0M419.3 316.9h0M438.3 304.4h0M410.2 323.3h0M448.3 316.1h0M442.4 322.4h0M435.4 323.7h0M431.1 326.9h0M435.2 317.3h0M441.9 322.4h0M450.2 326.2h0M420.5 333.8h0M417.9 315.3h0M452.6 321.5h0M416.2 326.1h0M444.7 317.7h0M417.9 316.6h0M437.7 318.6h0M410.9 328.4h0M445.4 321.8h0M416.1 329h0M460.5 323.9h0M419.2 334.9h0M415.3 320.9h0M409.3 324.8h0M462.7 320.5h0M455.8 306.2h0M411.6 330.2h0M424.6 320h0M435.7 315.2h0M458.9 307.6h0M418.9 329.8h0M469 323.4h0M420.9 304.4h0M420.4 327.3h0M412.9 328.2h0M438.3 324.1h0M425.6 328h0M438.2 327.9h0M423 311.3h0M439.9 322.9h0M434.1 320.6h0M410.6 318.1h0M463.5 295.1h0M427.2 317.9h0M438.9 322.9h0M431.1 326h0M414.5 326.8h0M442.5 326.5h0M481.7 319.6h0M412.6 324h0M436.3 320h0M436.8 325.4h0M412.2 329.1h0M451.6 325.5h0M418 322.4h0M482.5 324.6h0M430.4 321.6h0M422 310.9h0M416.5 321.8h0M410 321.1h0M410.2 319.9h0M454.4 323.2h0M484.4 310.9h0M412.7 324.6h0M431 323.8h0M431.4 336h0M422.1 327.6h0M429.6 326.9h0M451.7 322.2h0M410.9 321.9h0M448.1 320.2h0M425.3 323.5h0M434.6 313.7h0M413.1 320.4h0M411.6 329.8h0M410.5 324.8h0M410.9 326.8h0M419.8 327.5h0M422.7 335.2h0M442.7 322.3h0M431.2 325.9h0M437.3 313.2h0M427.4 314.6h0M438.7 316.1h0M417.5 328.9h0M468.8 311.2h0M417.5 324.8h0M411.8 322.5h0M414.3 323h0M456.3 309.7h0M442.8 324.1h0M422 327.7h0M433.3 322.7h0M416.7 333.2h0M412.1 326.1h0M445.7 309.8h0M412.4 320.5h0M438.6 313h0M427.9 325.1h0M412 323.8h0M414.8 323.7h0M427.4 313h0M422.2 320.6h0M425.8 321.2h0M444.6 305.2h0M411.3 320.3h0M431.7 325.7h0M442.9 322.8h0M493.2 313.5h0M430.7 327.6h0M425.6 327.1h0M421.3 327.5h0M459 312h0M426.6 319.2h0M461.5 325.1h0M433.9 322.7h0M432.5 323.5h0M427 317.5h0M450.9 315.4h0M433.4 325.6h0M415.9 333.3h0M441 323.3h0M422.8 321h0M413.1 332.9h0M426.4 319.9h0M420 328.7h0M412.3 318h0M420.5 315.9h0M454 324.6h0M453.8 309.8h0M471.8 317.6h0M414.9 317.1h0M461.8 297.1h0M439.2 329.7h0M463.3 311.6h0M428.2 312.8h0M433.2 326h0M449.7 310.8h0M459.1 311.7h0M415.3 317.5h0M415 321h0M495 305h0M419.4 337.6h0M452 326.5h0M435.7 323.4h0M423.5 325.8h0M471.8 320.8h0M432.2 321.1h0M428.6 318.5h0M427.9 326.2h0M419.4 332.8h0M423.1 330.2h0M451.2 315.1h0M442.6 319.2h0M423.4 319.9h0M465.7 315.8h0M413 325.9h0M445 310h0M440.1 323.7h0M418.8 331.9h0M425.8 324.4h0M471.3 298.4h0M418.3 327.6h0M410.9 327.1h0M441.6 327.6h0M465.9 327.1h0M419.8 322.3h0M433.2 316h0M436 325.8h0M417.9 331.1h0M440.7 327.6h0M434.9 323.1h0M468.2 318.8h0M416.1 325.4h0M420.8 333.7h0M481.2 322.4h0M442.5 319.4h0M451.6 321.2h0M428.7 331.9h0M435.7 325.9h0M415.9 327.4h0M440.4 306.9h0M453 321.5h0M411.9 325h0M415.3 324.9h0M437.9 325.2h0M422.7 321h0M420.8 323.8h0M435.7 325.7h0M488.8 314.3h0M437.8 324h0M415.2 326.3h0M452.9 290.7h0M414.5 328.5h0M431.1 329.1h0M418.1 327.5h0M447.3 327.9h0M415.9 327.8h0M432 324.5h0M416.7 327h0M417.8 326h0M434.7 308.9h0M420.9 326.2h0M431.2 317.5h0M420.7 319.4h0M421.8 322.4h0M451.4 324.1h0M456.1 322.5h0M419.3 325.8h0M431.2 330.8h0M441.1 317.1h0M421.5 324.4h0M422.9 322.5h0M446 325.3h0M418.6 327.7h0M409.8 321.1h0M425 333.2h0M415.8 315.1h0M477.7 305.7h0M415.9 317.9h0M430.1 327.6h0M429.9 308.2h0M489.3 301.9h0M448.2 305.9h0M460.8 321.1h0M440.5 317.3h0M425.6 313.1h0M432 324.9h0M413.3 322.7h0M437.5 316.1h0M410.1 325.7h0M443.2 314.6h0M435.7 321.5h0M413.1 325.5h0M429.7 312.8h0M432.5 317h0M461 314.4h0M409.7 311.3h0M410.9 332.7h0M425.8 320.7h0M426.4 323.7h0M409.8 325.2h0M428.7 318h0M421 327.2h0M453.9 312.5h0M415.8 326.8h0M443.3 307.4h0M429.3 313h0M425 325.9h0M412.8 323.1h0M418.9 327.2h0M449.1 323h0M456.2 320.7h0M425.3 328h0M414.1 314.2h0M431.2 321.2h0M415.2 329.9h0M434.1 277.3h0M441.3 276.4h0M454.2 275.5h0M443.1 282.4h0M449.7 289.3h0M455.1 288.4h0" stroke="#c9c9c9" stroke-width="3.2" stroke-linecap="round" fill="none"/>
<path d="M380.7 326.3h0M397.7 325.1h0M398.2 333.6h0M384.4 325.9h0M387.2 331h0M380.5 330.5h0M377.4 326.7h0M394.5 325.3h0M400.2 327.4h0M396.9 332.8h0M403.6 332.8h0M384.1 329.7h0M370.8 323.5h0M368.4 328h0M407 328h0M387.2 325.2h0M393.8 320.3h0M379.8 330.7h0M399.1 331h0M364 330.7h0M402.3 321.5h0M397.9 329.5h0M384.1 323.5h0M363.7 325.8h0M376.9 328.7h0M378.5 328.9h0M369.7 328h0M404.9 317.8h0M386.7 329.1h0M375.2 346.5h0M372.1 334.4h0M393.6 329.6h0M363 339.1h0M382.4 327.9h0M405.6 324h0M363.6 336h0M408 312.3h0M385 325.4h0M380.6 329.3h0M407.7 330.6h0M378.5 330.5h0M393.2 322.9h0M397.1 329.9h0M393.9 325.5h0M390.8 319.2h0M362.7 328.7h0M397.4 325.3h0M395.6 323h0M404.1 330.4h0M406 324.4h0M408.9 317.9h0M396.1 330.8h0M380.2 338.8h0M375.7 330.7h0M394.3 335.1h0M400.1 328.3h0M382.6 325.8h0M362.9 327.5h0M397.2 331.1h0M362.2 328.3h0M387.6 329.9h0M388.5 317.9h0M378.5 331.2h0M375.9 324.3h0M359.5 328.6h0M376.4 323.4h0M397.8 319.1h0M395 326.9h0M399.8 325.8h0M370.3 327.9h0M396.1 306.7h0M406 329.7h0M386.9 335h0M397.4 334.5h0M364.4 334.8h0M372.6 333.8h0M376.4 332h0M394.6 327.1h0M373.1 333.1h0M366 328.3h0M399.2 319.8h0M380 326.4h0M361.4 322.5h0M397 321.4h0M388.7 325.5h0M404.7 320.4h0M360.2 331.9h0M366 326.5h0M395 316.7h0M361.7 333.4h0M391.2 321.3h0M377.9 335.3h0M377.4 327.2h0M397.6 323.6h0M377.9 328.5h0M396 334.8h0M390.1 323h0M377.2 326.4h0M386 327.5h0M399.5 329h0M387.5 317.7h0M363 325.8h0M407.1 319.9h0M376 329.6h0M396.7 332.1h0M404.5 330.6h0M389.1 328.4h0M363.3 329.9h0M397.6 329.4h0M398.5 333h0M377.8 329.4h0M379.3 326.7h0M378.7 330.9h0M381.6 329.8h0M409.2 328.5h0M385.1 328.2h0M380.1 327.4h0M397.5 319.8h0M379.7 328.9h0M381.6 320.3h0M374.5 324.2h0M394.2 328.7h0M381.7 329.6h0M371 332.3h0M378.5 327.4h0M366.9 327.3h0M405.1 327.3h0M371.8 333.9h0M383.6 325.9h0M390.5 323h0M392.3 315.1h0M403.7 323.3h0M391.5 318.5h0M367.6 327.5h0M377.3 334.8h0M383.8 326.7h0M391.6 325.8h0M401.3 332h0M390.6 329.2h0M393.3 334.7h0M375.8 324.9h0M395 331h0M387.4 335.8h0M401.8 324.5h0M384 321.1h0M395.3 324.6h0M380.2 328.2h0M389.3 326.8h0M369.8 327.8h0M401.2 318.5h0M405.9 312.9h0M391.3 323.1h0M391 321.7h0M393.3 334.4h0M371.6 326.9h0M386.1 323.2h0M363.3 329.9h0M402 325.1h0M371.3 325.2h0M393.6 320.9h0M364.1 330.9h0M396.6 325.9h0M405.7 311.6h0M398.5 334.9h0M366.6 333.8h0M396.9 321.2h0M378 322.2h0M393.8 331.6h0M390.3 330.7h0M361.7 329.2h0M375.4 324.4h0M361.3 335.6h0M395.7 321h0M374.2 335.9h0M406.6 319.1h0M374.9 324.2h0M389.4 322.4h0M397.8 324.3h0M394.6 331.2h0M403.5 320.2h0M374.1 326.9h0M402.5 325.3h0M406 327.4h0M395.3 324.5h0M384.2 318.6h0M399.2 317.3h0M377.2 328.8h0M398.5 322.4h0M380 334.7h0M394.7 329.3h0M374.5 328.4h0M365.1 333.9h0M383.8 328.4h0M365.8 332h0M380 329.5h0M370.3 327.5h0M389.3 339h0M408.7 329.8h0M393.1 325.3h0M404 338.3h0M374.4 328.2h0M364.5 332.9h0M391.2 324.6h0M403.6 324.7h0M377.9 328h0M377.6 333.1h0M364 325h0M381.6 327.9h0M408.2 326h0M401.2 313.2h0M365 331.6h0M409.1 326.8h0M374.2 328.1h0M391.7 327.4h0M409 328.4h0M395.4 334.8h0M370.1 331.3h0M398.4 321.8h0M400.8 330h0M361.6 328.9h0M359.6 326.5h0M383.9 326.5h0M381.4 326.3h0M401.6 325.6h0M379.9 327.4h0M398.3 322.8h0M383.4 327.7h0M391.9 320.2h0M386.6 329.3h0M382.3 333.2h0M402.6 324.1h0M382.2 326.1h0M392.9 331.5h0M374.5 328.9h0M392.8 333.1h0M364.4 333.6h0M382.2 324.6h0M398.6 333h0M405.2 323.3h0M383.3 321.5h0M402.8 322.2h0M395 318.3h0M388.7 323.5h0M371.6 330.3h0M401.4 331.8h0M383.3 320.6h0M378 327.6h0M403.5 324h0M396 327.6h0M361.6 332.1h0M366.4 328.5h0M365.5 326.4h0M370 336.2h0M390.3 324h0M364.2 330h0M388 333.1h0M391.2 325.9h0M393.8 325.6h0M392.8 328.5h0M380.9 334.5h0M378.9 324.3h0M372.8 329.6h0M398.8 321.6h0M404.2 328.3h0M361.1 331.2h0M363.2 330h0M379.9 330.4h0M378.2 333.8h0M369.6 332.4h0M396.9 334.3h0M396.4 324.7h0M382.3 325.6h0M395.6 334.3h0M391.2 315.5h0M400.5 321.7h0M390.9 328.2h0M380 330.8h0M388.7 337.1h0M389.2 323.4h0M403.5 341.2h0M383.9 325.9h0M391.2 324h0M368.6 328.2h0M384.7 326h0M360.2 335.8h0M359 332.6h0M402.2 316.5h0M367.7 334.3h0M394.6 331.6h0M378.8 327.6h0M359.9 327.8h0M381.2 339.8h0M359.2 334.4h0M398.3 322.2h0M381.4 340.5h0M394.3 324.6h0M377 327.4h0M365.8 327.8h0M400.1 326.2h0M407.8 323h0M386 326.4h0M386.6 320.2h0M389.8 323h0M363.8 329h0M405.9 322.7h0M378.4 326.5h0M392.9 328.2h0M382.4 332.5h0M361.2 330.6h0M409.1 336h0M371.4 327.4h0M369.5 323.1h0M380.1 330.7h0M403.6 315.3h0M403.4 323.2h0M369.2 326.7h0M371.4 330.6h0M384.1 328.9h0M375.6 324.2h0M382.3 330.2h0M378.9 325.3h0M375.2 329.9h0M407.3 325.1h0M393 329.1h0M390.3 331.5h0M365.4 328.4h0M395.5 323.4h0M387.3 328.2h0M398.6 320.3h0M365 327.8h0M378.6 323.7h0M368.5 332h0M359.1 330.9h0M383.9 325.8h0M402.5 321.2h0M380.8 324.2h0M373.4 334.5h0M399.5 322.2h0M383.5 326.6h0M405.9 314h0M396.3 323.6h0M382.1 331.6h0M404.8 333.7h0M369.6 330.3h0M360 328.6h0M405.3 323.3h0M361.5 330.4h0M367.2 325.9h0M400.2 329.9h0M382 319.7h0M378.6 326.7h0M392.5 321.7h0M378.8 328h0M378.9 326.9h0M372.2 327.2h0M391.6 329.7h0M387 335.8h0M362.5 328.4h0M394.1 323.5h0M377.3 320h0M383.2 332.1h0M389.9 330.4h0M377.2 333h0M383 331.4h0M368.4 329.1h0M387.4 325.7h0M392.2 331.3h0M382 325.9h0M359.8 332.5h0M390.9 332.2h0M387.2 322.2h0M374.4 337.4h0M371.2 331.7h0M404.5 327.8h0M403.7 333.2h0M404.5 328.5h0M393.8 329.3h0M359.8 335.5h0M383 326.7h0M376.5 326h0M387.8 326.3h0M375.6 328h0M363.6 327.4h0M373.5 331.1h0M365.5 330h0M397.1 324.4h0M366.7 330.2h0M388.3 324.6h0M386.3 337h0M388.1 324.6h0M400.1 334h0M386.6 328.8h0M372.6 323.4h0M382.9 328.8h0M393.4 334.8h0M378.5 323.4h0M366.5 335.7h0M384.3 325.8h0M386.6 332.5h0M363.8 331.9h0M385.9 324h0M387.1 325.7h0M361.9 334.3h0M383.8 325.4h0M372.8 335.9h0M368.4 326.7h0M398.8 320.8h0M405.2 325h0M376.5 322h0M385.9 330.8h0M376.9 326.1h0M363.2 330h0M403.6 317.7h0M382.5 319.2h0M378.7 318.9h0M376 334.5h0M394.8 324.7h0M394.4 325.8h0M408.9 321h0M382.8 320.2h0M370.8 325.7h0M381.4 334.1h0M391.8 335.9h0M390.7 325.3h0M404.8 324.8h0M409 326.5h0M408.7 325.3h0M365.1 327.4h0M402 335h0M359.4 332.8h0M379.4 328.4h0M366 331.1h0M387.5 332.2h0M364.2 327.1h0M390 315h0M395 333.7h0M376.8 332h0M390.1 325.4h0M401 329.2h0M371.5 327.7h0M405.4 313.4h0M385.3 316.1h0M365.3 333.9h0M394.8 325.8h0M375.2 328.2h0M389.7 321.8h0M377.2 332.1h0M409.2 327.5h0M399.1 325.1h0M403 329.1h0M379.1 328.5h0M374.3 302.4h0M398.2 304.2h0M407.8 349.1h0" stroke="#686868" stroke-width="3.2" stroke-linecap="round" fill="none"/>
<line x1="351.2" x2="509.4" y1="328.5" y2="328.5" stroke="#333" stroke-width="0.9"/>
<line x1="358.5" x2="496.9" y1="323.2" y2="285.3" stroke="#111" stroke-width="1.5" stroke-dasharray="5 4.7"/>
<line x1="358.5" x2="496.9" y1="341.8" y2="330" stroke="#111" stroke-width="1.5" stroke-dasharray="5 4.7"/>
<line x1="358.5" x2="496.9" y1="330" y2="316.8" stroke="#111" stroke-width="1.5"/>
<rect x="351.2" y="255" width="158.2" height="117.45" fill="none" stroke="#a6a6a6" stroke-width="1"/>
<text x="358.7" y="267.5" font-family="Liberation Sans" font-weight="bold" font-size="10" fill="#111">(k)</text>
<rect x="512.1" y="255" width="158.2" height="117.45" fill="#fff"/>
<path d="M580.8 336.6h0M571.8 321.3h0M582.5 330h0M570.6 328.8h0M572.8 328.6h0M586 333.4h0M587.5 336.7h0M584.5 336.4h0M641.7 351.3h0M591.5 329.3h0M575.4 326h0M584.4 337.1h0M611.8 339.7h0M625.6 336.8h0M587.4 338.4h0M625 351h0M580.1 318.6h0M583.7 338h0M573.5 335.2h0M597 348.1h0M578.9 331h0M586.7 337h0M597.9 337.9h0M592.6 340.1h0M612.2 352.2h0M578.2 336.5h0M628.9 342h0M598.3 333.1h0M571.6 315.9h0M578.7 339.4h0M570.7 332.7h0M610.5 343.5h0M586.8 342.1h0M573.1 333.6h0M602 324.9h0M593.7 333.5h0M591.2 329.7h0M578.9 332.2h0M573.3 335h0M626 334h0M570.4 336.9h0M574.9 342.7h0M604 340.8h0M584.3 329.3h0M582 330.7h0M583.1 336.3h0M577.1 322.2h0M627.3 340.8h0M585.4 340.7h0M599.9 330.4h0M570.9 341.6h0M619.1 340.1h0M573.6 333.3h0M589.4 342.1h0M585.1 338.8h0M581.5 339h0M578.3 331.3h0M601.7 332.2h0M597.1 329.7h0M575.7 326h0M573.2 335.2h0M595.4 332.2h0M589.1 338.4h0M610.1 337.1h0M615 344.3h0M579.2 336.1h0M605.3 338h0M596.3 346.2h0M573.7 337.7h0M570.3 323h0M606.3 334.7h0M602.8 335.7h0M577.3 331.5h0M570.8 347h0M579.2 327.6h0M607.3 345.3h0M573 335.2h0M606.2 340.4h0M582.4 341.6h0M585.4 341.9h0M585.9 337.9h0M626.1 343.6h0M575.4 333.3h0M592.9 335.7h0M602.2 334h0M581.9 320.5h0M604.2 337.1h0M582.5 339h0M594.5 350.5h0M571.8 343h0M591.7 343.7h0M571.8 342.1h0M586.9 327.5h0M616.7 337.3h0M600.4 333.1h0M605 347.4h0M589.5 336.1h0M571.4 328.2h0M573.1 329h0M574.4 341h0M576.4 330.4h0M610.3 335.5h0M600.9 338.8h0M590.6 326.3h0M595.3 340.8h0M613.4 335.7h0M597.3 330.1h0M649.2 339.8h0M573.3 322.4h0M620.3 341.3h0M572.3 342.6h0M614.1 340.8h0M578.4 326.1h0M572.5 335.2h0M592.8 336h0M629.9 338.7h0M613.8 326.6h0M575.9 347.5h0M580.8 324.2h0M598.4 332.5h0M582.1 340.2h0M613.5 330.3h0M583.4 347.8h0M579.2 325h0M623.8 333.9h0M611.4 335.6h0M596.5 332.3h0M572.1 342.4h0M601 337.5h0M571.1 334.7h0M578.8 331.9h0M615.7 336.9h0M572.4 333h0M575.7 321.7h0M606.4 338.7h0M623.1 332h0M576.6 329.7h0M572.8 326.3h0M581 334.6h0M572.6 333.3h0M572.8 323.5h0M607.4 328.2h0M602.7 340.1h0M576 329.1h0M604.5 335.4h0M578.2 335.6h0M590.2 343.4h0M571 331.6h0M589.4 326.1h0M608.2 331.5h0M572.5 343h0M579.2 337.3h0M607.3 338.4h0M582.7 339.2h0M593.8 330.6h0M579.6 332.4h0M575.4 322.1h0M604.1 337.7h0M583.3 334.6h0M594.9 335.2h0M593.3 350.4h0M574.7 324.9h0M587.5 342.2h0M623.7 336.4h0M595.1 338.5h0M573.6 333.9h0M597.9 327.4h0M595.4 333.6h0M620.7 328.2h0M577.9 338.4h0M590.5 334.3h0M582.6 329.2h0M589.7 345.5h0M580 321.7h0M597.8 339.2h0M626.3 342.2h0M613.4 337.8h0M583.4 344.1h0M580.6 341.3h0M580.8 329.6h0M605.3 332.4h0M573.5 329.2h0M634.1 339.3h0M577 328.4h0M586.6 329.1h0M592.4 340.6h0M572.1 335.9h0M601.3 340.5h0M570.7 336h0M583.1 338.9h0M593.5 342.3h0M576.1 339.5h0M601.6 337.5h0M585.1 343.7h0M592.4 344.5h0M575.8 341h0M570.3 331.6h0M588.1 336.5h0M573.1 344.7h0M572.8 330.7h0M631.8 342.6h0M611 341.7h0M587.1 338.7h0M575.2 332.5h0M588.7 337.4h0M592.2 329h0M592.8 333.4h0M573.2 326.3h0M604.5 343.6h0M599.8 335.2h0M576.4 330.3h0M585.8 331.6h0M585.9 340.5h0M609.8 342.5h0M615.5 336.6h0M609 328.2h0M587.9 330.6h0M605.9 328.2h0M634.9 342.5h0M615.4 331.2h0M581.7 328.3h0M574.5 340.9h0M583.7 340h0M576.7 340.9h0M574.2 332.9h0M617.7 339.9h0M587.6 341.3h0M574.3 335.6h0M605.7 339.4h0M576.2 336.4h0M581.6 328.7h0M571.5 331.3h0M583.8 323.5h0M593.8 328.4h0M579 328.7h0M582.4 341.7h0M579.9 329.1h0M604.9 336.7h0M573.8 323.1h0M602.6 337.2h0M612 350.7h0M611.4 323.7h0M623.2 340.8h0M583.3 335.7h0M579.9 330.2h0M580.3 342h0M595.2 330.8h0M597.2 337h0M595.9 346.8h0M609.7 334.7h0M591.5 332.3h0M613.5 341.3h0M585.7 330h0M593.6 338.3h0M607.1 329.8h0M590.1 335h0M604.9 334.7h0M635.3 341.7h0M576.7 324h0M585.2 341h0M580.7 327h0M596.2 335.6h0M590.2 334.9h0M591.1 340h0M585.5 335.1h0M612.8 342.8h0M571.7 334.8h0M592.9 334h0M588.8 332.9h0M607.5 340.5h0M592.7 334.8h0M578 333h0M574.9 333.5h0M586.2 328.5h0M574.5 338.4h0M598 333.6h0M570.7 337.6h0M575.6 338.7h0M602.3 338.5h0M588.5 334.5h0M587.6 331.4h0M578.6 338.9h0M592.9 342.1h0M574.6 335.9h0M604.9 342.3h0M578.9 334.3h0M622.9 328.9h0M575.5 347.2h0M580.5 332.3h0M595.6 337h0M602 340h0M600.2 337.6h0M599.7 340.1h0M593.1 348h0M581.1 331.5h0M591.7 329.9h0M587.4 334.2h0M583.4 340.3h0M578.9 345.9h0M587 337.9h0M579.3 337.6h0M607.7 328.8h0M609.3 339.6h0M607.8 333.8h0M577.5 335.9h0M593.4 339.9h0M571.9 334h0M578 336h0M597.5 341.7h0M577.6 328.6h0M577.1 342.8h0M577.8 324.6h0M586.1 343.2h0M586.2 332.1h0M573.9 327.9h0M602.8 343.5h0M581.9 336.3h0M576.1 326.4h0M608.3 334.8h0M584.6 334.2h0M571.5 329.1h0M579 326.1h0M573.2 333.4h0M590.7 337.9h0M625.6 330.7h0M590 345.5h0M603.6 332.8h0M584.6 339.8h0M598.2 323.2h0M576.3 332.6h0M575.8 343.6h0M570.6 333.6h0M593.9 340.6h0M576.7 327.6h0M624.8 350h0M591.9 333.7h0M593.7 337.6h0M595.1 301h0M615.2 302.4h0M601.7 313.8h0" stroke="#c9c9c9" stroke-width="3.2" stroke-linecap="round" fill="none"/>
<path d="M557 339.5h0M533 326.7h0M535.4 327.2h0M557.9 326.4h0M550.6 335.4h0M527.4 323.4h0M563.6 331.1h0M565.3 342.1h0M529.7 324.8h0M560.6 337.4h0M528.5 329.5h0M560.7 323.9h0M531.9 337.6h0M521.9 323.4h0M525.1 327.5h0M568.2 334.2h0M551.6 331.4h0M541 330.7h0M547.6 332.1h0M551.5 339.5h0M563.1 329.8h0M564.3 332.6h0M556.7 327.9h0M538.1 328.8h0M551.2 325.5h0M532.6 329.8h0M565.2 334.7h0M553.1 332.6h0M525.1 324.3h0M550.1 327h0M555.4 326.6h0M530.1 329.1h0M563.1 346.3h0M567.3 326.6h0M533.2 325.5h0M549.8 326.3h0M539 323.1h0M559.7 329.8h0M565.6 325h0M544.6 330.8h0M543.2 335.4h0M537.5 336.5h0M563.1 325.9h0M569.7 328.9h0M569.5 336.4h0M556 334.5h0M562.1 317.7h0M568.1 328.4h0M533.3 324.5h0M538.9 324.6h0M519.6 321.6h0M557 316.5h0M551.8 334.3h0M557 339.1h0M546.8 333h0M558.7 327.8h0M562.5 337h0M546.3 340.6h0M544.1 325.2h0M547.7 328.5h0M562.2 319.3h0M541.5 326.3h0M562.7 327h0M565.9 331.9h0M529.3 325.2h0M523.2 331.8h0M555.6 316.6h0M550.3 335.7h0M534.3 325.5h0M542.3 337.4h0M524.5 320.2h0M567.5 343.4h0M550.1 328.1h0M548.2 332.8h0M555.1 329h0M538.4 331.1h0M554.6 321.7h0M555.3 336.6h0M543.4 337h0M542.3 336.7h0M524.7 333.7h0M534.1 333h0M564.7 334.4h0M532.7 339.6h0M533.6 335.4h0M546.8 335.7h0M525.2 329.4h0M542 335.2h0M549.6 329.8h0M555.8 335h0M566.1 333.4h0M567.2 327.7h0M544.9 324h0M529.7 328h0M553.3 328.8h0M565.5 330.1h0M555.4 342.6h0M532.2 325.2h0M569.5 339.1h0M526 325.9h0M568.1 328.8h0M564.8 336.4h0M553.9 336.8h0M561.4 338.3h0M527.4 333.4h0M534.2 326.9h0M551.5 328.9h0M529.5 331.1h0M536.2 323.5h0M569 330.4h0M557.6 337h0M545.9 332.9h0M551.9 337.6h0M535.8 323h0M569.8 341.7h0M552.7 337.9h0M547.1 331.7h0M542.7 330.6h0M564.2 331.1h0M539.6 326.7h0M547.6 336.1h0M531.3 325h0M544.6 319.1h0M534.6 326.2h0M550.7 326.5h0M569.1 329.7h0M564.8 346.9h0M547.6 329.2h0M534.9 329h0M546.3 331.8h0M537.6 330.1h0M525.6 326.3h0M524.8 331.1h0M551.6 332.6h0M551.8 326.6h0M555.7 335.2h0M536.6 328.9h0M526.6 332.6h0M567.7 322.9h0M531.1 332.5h0M534.8 321.3h0M529.1 335h0M536.4 330.7h0M564.2 322.9h0M524 326.4h0M543.7 336.7h0M563.5 329.8h0M550.5 333h0M561.5 325h0M541.5 334.8h0M535.6 332.2h0M557 333.7h0M533.6 331.6h0M524.8 322.9h0M554.4 331.8h0M523.9 326.9h0M556.5 304h0M549.3 326.9h0M529.5 336.3h0M541 328.1h0M524.9 325.5h0M557.6 332.6h0M534.4 328.1h0M538.5 324.5h0M568.5 336.3h0M540.9 332.7h0M541 327.6h0M536.4 325.9h0M566.7 328.9h0M552.9 325.2h0M546.4 332.6h0M519.8 323.3h0M539.4 337.3h0M561.4 341.3h0M562.9 326.8h0M547.3 326.3h0M555 331.2h0M561.1 332.2h0M540.4 336.7h0M561.8 331.2h0M540.1 333.4h0M562.6 336.6h0M569.3 340.4h0M542.2 329.4h0M552.7 334h0M532.6 331.9h0M525.5 328.4h0M568.6 323.2h0M568.2 319.1h0M548.9 327.1h0M521.5 331h0M539.1 331.9h0M548.2 341.6h0M539.3 339.6h0M543.6 324h0M527.2 326.1h0M546.6 326.7h0M556.8 341.6h0M522.4 325.4h0M550.7 335h0M548.9 323.6h0M555.1 329.8h0M568.8 334.2h0M543.9 334.2h0M542.8 337h0M555.1 329.6h0M553.6 334.8h0M554.4 333.9h0M546.7 322.8h0M551.6 339.5h0M567 328.1h0M520.9 326.4h0M532.4 327.6h0M569.8 332.4h0M565.8 338.6h0M542.8 330.5h0M562.2 317.5h0M539.8 334.9h0M568.5 335.8h0M561.1 334.1h0M534.7 327h0M533.7 331.9h0M557.4 332.5h0M569.1 332.7h0M550.5 339.1h0M565.7 330.8h0M544.1 339.5h0M526.7 331.8h0M560.4 343.7h0M528.3 331.9h0M569.7 337.5h0M547 333.8h0M554.2 327h0M565.9 346.4h0M540.1 332.2h0M559.2 335.3h0M553.7 323.8h0M561.5 320.1h0M527.6 328.1h0M533.6 328.4h0M545.3 336.2h0M527.3 326.1h0M552.7 328h0M539 328h0M568.1 324.2h0M538.5 325h0M544.1 335.3h0M567.8 326.3h0M559.7 335.1h0M535 332.1h0M556.7 332.1h0M530.1 329.9h0M551 332.5h0M559.9 328.9h0M521.3 325.7h0M531.4 331.9h0M555.8 334.1h0M523.2 325.6h0M558 340.4h0M546.6 330.7h0M521.1 331.1h0M553.4 342.5h0M548.6 323.7h0M532.3 330.4h0M567.2 335.2h0M536.6 330.7h0M555.2 337.8h0M568.5 332.8h0M558.7 321.5h0M539.6 330.5h0M544.5 338.6h0M556.1 334.3h0M566.4 328.3h0M532.3 331.9h0M540.3 322.1h0M546.4 330.2h0M524.9 330.8h0M554.8 326.8h0M566.4 331.3h0M567.1 326.6h0M549 331.1h0M521.7 337.3h0M527.3 327.7h0M554.8 328.6h0M538.9 329.5h0M529.1 328.9h0M520.8 323.8h0M534.2 330.1h0M539.6 328.5h0M549.9 331.2h0M544.1 320.8h0M551.2 334.5h0M554.5 337.4h0M522.4 330.6h0M568.1 329h0M524.5 328.8h0M561.8 325.6h0M550.2 331.7h0M539.9 336.5h0M569.6 335.1h0M546.5 331.8h0M558.8 324.4h0M544.6 341.1h0M546.1 319.9h0M546.2 332.4h0M537 332.6h0M561.3 329.6h0M547.1 332.8h0M546.7 335.1h0M558.3 333.6h0M553.8 332.8h0M556.1 337.2h0M534.4 327.3h0M556.6 338.2h0M568.5 330.3h0M547.6 332.2h0M520.1 323.4h0M525.5 328.1h0M555.8 331.1h0M532.1 323.4h0M529.4 326.6h0M539 325.6h0M561 331.3h0M530.7 320.5h0M564 338.4h0M549.8 331.7h0M524.2 329.7h0M546.9 330.7h0M553.2 339.3h0M550.5 326.1h0M525.4 321.5h0M558 330h0M551.4 333.1h0M546.2 323.8h0M543.4 329.7h0M539.2 334.1h0M549.8 329h0M562.9 339.5h0M560.5 334.6h0M529.4 334.1h0M541.6 328.1h0M524.3 328.4h0M549.1 329.4h0M545.6 331h0M524.3 321.3h0M565.3 336.6h0M539.2 337.1h0M542 332.4h0M535.8 332.1h0M540.1 327.1h0M528.9 333h0M531.1 332.4h0M565.8 325.9h0M557.2 329.4h0M531.1 324.2h0M538.8 327.5h0M557.4 343.8h0M543.7 318.9h0M543.7 336.1h0M565.6 340.3h0M568.4 338.9h0M561.5 337.3h0M566.2 328.2h0M549.2 323.5h0M544.3 330.9h0M562.4 325.8h0M547.8 334.4h0M541.4 330.4h0M566.9 333.3h0M560.7 334.6h0M555.1 340.8h0M543.6 337.3h0M520.8 325.2h0M527 323.5h0M565.5 316.5h0M530.6 327h0M566 332.3h0M532.5 330h0M533.3 326.7h0M543.2 315.4h0M543.7 326.4h0M552.5 335.2h0M551.7 324.6h0M563 333.5h0M557.8 336.2h0M528.1 327.6h0M558.5 334.5h0M520.3 329.9h0M545.9 332.6h0M522.2 324.5h0M559.5 337h0M546.3 332h0M560.6 322.1h0M561.1 329.3h0M532.9 332.7h0M545.2 332.3h0M544.2 330.5h0M542.1 324.5h0M536.3 332.8h0M543.5 325.6h0M541.7 333.5h0M549.1 330.2h0M546.2 315h0M551.5 332.9h0M560.4 331.5h0M533.4 333.1h0M541.6 330.6h0M566.7 330.1h0M550.5 329.5h0M560.4 323.6h0M564.2 336.6h0M565.8 332.2h0M562.7 335.7h0M530.8 334.6h0M522.5 327.1h0M530.9 336.4h0M558 336.4h0M545.8 324.1h0M540.4 329.4h0M554.8 342.7h0M556.6 333.3h0M563.9 337.5h0M561.6 326.5h0M519.7 328.9h0M566 349.5h0M562.4 326.6h0M532.8 329h0M521.5 329.3h0M538.7 326.5h0M561.6 316.7h0M557.3 323.9h0M520.4 331.4h0M546.2 322.3h0M549.2 338.7h0M532.8 323.9h0M567 331.3h0M529.8 328.3h0M533.8 334.7h0M534.3 327.8h0M548.1 334.8h0M535 324.9h0M529.1 325.2h0M558.7 332.8h0M553.3 332.4h0M545 339h0M537.4 324.8h0M559.7 336.7h0M544 337.6h0M540.1 330.7h0M528.1 330.5h0M549.3 331.5h0M540.7 325.7h0M554.7 335.1h0M542.5 329.3h0M525.3 323.2h0M521 327.7h0M530.5 332.2h0M559.8 316.4h0M550.3 334.6h0M550.2 326.2h0M556.8 335.7h0M522.2 331.7h0M540.9 323.7h0M535.3 277.3h0M519.5 301.2h0M535.9 310.2h0M554.8 309.3h0M568.8 359.3h0M555.4 352.7h0" stroke="#686868" stroke-width="3.2" stroke-linecap="round" fill="none"/>
<line x1="512.1" x2="670.3" y1="328.5" y2="328.5" stroke="#333" stroke-width="0.9"/>
<line x1="519.4" x2="657.8" y1="315.7" y2="325.6" stroke="#111" stroke-width="1.5" stroke-dasharray="5 4.7"/>
<line x1="519.4" x2="657.8" y1="337.2" y2="357.1" stroke="#111" stroke-width="1.5" stroke-dasharray="5 4.7"/>
<line x1="519.4" x2="657.8" y1="327.9" y2="343.1" stroke="#111" stroke-width="1.5"/>
<rect x="512.1" y="255" width="158.2" height="117.45" fill="none" stroke="#a6a6a6" stroke-width="1"/>
<text x="519.6" y="267.5" font-family="Liberation Sans" font-weight="bold" font-size="10" fill="#111">(l)</text>
<rect x="29.3" y="1.2" width="158.2" height="13.1" fill="#c4c4c4" stroke="#8a8a8a" stroke-width="1"/>
<text x="108.4" y="11.8" text-anchor="middle" font-family="Liberation Sans" font-weight="bold" font-size="10.7" fill="#111">GDD</text>
<rect x="190.2" y="1.2" width="158.2" height="13.1" fill="#c4c4c4" stroke="#8a8a8a" stroke-width="1"/>
<text x="269.4" y="11.8" text-anchor="middle" font-family="Liberation Sans" font-weight="bold" font-size="10.7" fill="#111">Exponential</text>
<rect x="351.2" y="1.2" width="158.2" height="13.1" fill="#c4c4c4" stroke="#8a8a8a" stroke-width="1"/>
<text x="430.3" y="11.8" text-anchor="middle" font-family="Liberation Sans" font-weight="bold" font-size="10.7" fill="#111">Bilinear</text>
<rect x="512.1" y="1.2" width="158.2" height="13.1" fill="#c4c4c4" stroke="#8a8a8a" stroke-width="1"/>
<text x="591.2" y="11.8" text-anchor="middle" font-family="Liberation Sans" font-weight="bold" font-size="10.7" fill="#111">Beta</text>
<rect x="670.3" y="14.3" width="13.4" height="117.45" fill="#c4c4c4" stroke="#8a8a8a" stroke-width="1"/>
<g transform="translate(672.8 73) rotate(90)" font-family="Liberation Sans" font-weight="bold" font-size="10.3" fill="#111"><text x="-18.8" y="0">GST</text><text x="3.6" y="0" font-size="10.8">≤</text><text x="12.6" y="0">1°C</text></g>
<polygon points="673.4,44.1 680.5,48.3 673.4,52.5" fill="none" stroke="#222" stroke-width="0.9"/>
<rect x="670.3" y="134.7" width="13.4" height="117.45" fill="#c4c4c4" stroke="#8a8a8a" stroke-width="1"/>
<g transform="translate(672.8 193.4) rotate(90)" font-family="Liberation Sans" font-weight="bold" font-size="10.3" fill="#111"><text x="-18.8" y="0">GST</text><text x="3.6" y="0" font-size="10.8">≤</text><text x="12.6" y="0">2°C</text></g>
<polygon points="673.4,164.5 680.5,168.7 673.4,172.9" fill="none" stroke="#222" stroke-width="0.9"/>
<rect x="670.3" y="255" width="13.4" height="117.45" fill="#c4c4c4" stroke="#8a8a8a" stroke-width="1"/>
<g transform="translate(672.8 313.7) rotate(90)" font-family="Liberation Sans" font-weight="bold" font-size="10.3" fill="#111"><text x="-18.8" y="0">GST</text><text x="3.6" y="0" font-size="10.8">≤</text><text x="12.6" y="0">3°C</text></g>
<polygon points="673.4,284.8 680.5,289 673.4,293.2" fill="none" stroke="#222" stroke-width="0.9"/>
<line x1="26.2" x2="29.3" y1="24.2" y2="24.2" stroke="#333" stroke-width="1.1"/>
<text x="24.1" y="28.1" text-anchor="end" font-family="Liberation Sans" font-size="8.5" fill="#2a2a2a">65</text>
<line x1="26.2" x2="29.3" y1="38.8" y2="38.8" stroke="#333" stroke-width="1.1"/>
<text x="24.1" y="42.7" text-anchor="end" font-family="Liberation Sans" font-size="8.5" fill="#2a2a2a">50</text>
<line x1="26.2" x2="29.3" y1="53.4" y2="53.4" stroke="#333" stroke-width="1.1"/>
<text x="24.1" y="57.3" text-anchor="end" font-family="Liberation Sans" font-size="8.5" fill="#2a2a2a">35</text>
<line x1="26.2" x2="29.3" y1="68" y2="68" stroke="#333" stroke-width="1.1"/>
<text x="24.1" y="71.9" text-anchor="end" font-family="Liberation Sans" font-size="8.5" fill="#2a2a2a">20</text>
<line x1="26.2" x2="29.3" y1="82.6" y2="82.6" stroke="#333" stroke-width="1.1"/>
<text x="24.1" y="86.5" text-anchor="end" font-family="Liberation Sans" font-size="8.5" fill="#2a2a2a">5</text>
<line x1="26.2" x2="29.3" y1="97.2" y2="97.2" stroke="#333" stroke-width="1.1"/>
<text x="24.1" y="101.1" text-anchor="end" font-family="Liberation Sans" font-size="8.5" fill="#2a2a2a">-10</text>
<line x1="26.2" x2="29.3" y1="111.8" y2="111.8" stroke="#333" stroke-width="1.1"/>
<text x="24.1" y="115.7" text-anchor="end" font-family="Liberation Sans" font-size="8.5" fill="#2a2a2a">-25</text>
<line x1="26.2" x2="29.3" y1="126.4" y2="126.4" stroke="#333" stroke-width="1.1"/>
<text x="24.1" y="130.3" text-anchor="end" font-family="Liberation Sans" font-size="8.5" fill="#2a2a2a">-40</text>
<line x1="26.2" x2="29.3" y1="144.7" y2="144.7" stroke="#333" stroke-width="1.1"/>
<text x="24.1" y="148.6" text-anchor="end" font-family="Liberation Sans" font-size="8.5" fill="#2a2a2a">65</text>
<line x1="26.2" x2="29.3" y1="159.3" y2="159.3" stroke="#333" stroke-width="1.1"/>
<text x="24.1" y="163.2" text-anchor="end" font-family="Liberation Sans" font-size="8.5" fill="#2a2a2a">50</text>
<line x1="26.2" x2="29.3" y1="173.9" y2="173.9" stroke="#333" stroke-width="1.1"/>
<text x="24.1" y="177.8" text-anchor="end" font-family="Liberation Sans" font-size="8.5" fill="#2a2a2a">35</text>
<line x1="26.2" x2="29.3" y1="188.5" y2="188.5" stroke="#333" stroke-width="1.1"/>
<text x="24.1" y="192.4" text-anchor="end" font-family="Liberation Sans" font-size="8.5" fill="#2a2a2a">20</text>
<line x1="26.2" x2="29.3" y1="203.1" y2="203.1" stroke="#333" stroke-width="1.1"/>
<text x="24.1" y="207" text-anchor="end" font-family="Liberation Sans" font-size="8.5" fill="#2a2a2a">5</text>
<line x1="26.2" x2="29.3" y1="217.7" y2="217.7" stroke="#333" stroke-width="1.1"/>
<text x="24.1" y="221.6" text-anchor="end" font-family="Liberation Sans" font-size="8.5" fill="#2a2a2a">-10</text>
<line x1="26.2" x2="29.3" y1="232.3" y2="232.3" stroke="#333" stroke-width="1.1"/>
<text x="24.1" y="236.2" text-anchor="end" font-family="Liberation Sans" font-size="8.5" fill="#2a2a2a">-25</text>
<line x1="26.2" x2="29.3" y1="246.9" y2="246.9" stroke="#333" stroke-width="1.1"/>
<text x="24.1" y="250.8" text-anchor="end" font-family="Liberation Sans" font-size="8.5" fill="#2a2a2a">-40</text>
<line x1="26.2" x2="29.3" y1="265.2" y2="265.2" stroke="#333" stroke-width="1.1"/>
<text x="24.1" y="269.1" text-anchor="end" font-family="Liberation Sans" font-size="8.5" fill="#2a2a2a">65</text>
<line x1="26.2" x2="29.3" y1="279.8" y2="279.8" stroke="#333" stroke-width="1.1"/>
<text x="24.1" y="283.7" text-anchor="end" font-family="Liberation Sans" font-size="8.5" fill="#2a2a2a">50</text>
<line x1="26.2" x2="29.3" y1="294.4" y2="294.4" stroke="#333" stroke-width="1.1"/>
<text x="24.1" y="298.3" text-anchor="end" font-family="Liberation Sans" font-size="8.5" fill="#2a2a2a">35</text>
<line x1="26.2" x2="29.3" y1="309" y2="309" stroke="#333" stroke-width="1.1"/>
<text x="24.1" y="312.9" text-anchor="end" font-family="Liberation Sans" font-size="8.5" fill="#2a2a2a">20</text>
<line x1="26.2" x2="29.3" y1="323.6" y2="323.6" stroke="#333" stroke-width="1.1"/>
<text x="24.1" y="327.5" text-anchor="end" font-family="Liberation Sans" font-size="8.5" fill="#2a2a2a">5</text>
<line x1="26.2" x2="29.3" y1="338.2" y2="338.2" stroke="#333" stroke-width="1.1"/>
<text x="24.1" y="342.1" text-anchor="end" font-family="Liberation Sans" font-size="8.5" fill="#2a2a2a">-10</text>
<line x1="26.2" x2="29.3" y1="352.8" y2="352.8" stroke="#333" stroke-width="1.1"/>
<text x="24.1" y="356.7" text-anchor="end" font-family="Liberation Sans" font-size="8.5" fill="#2a2a2a">-25</text>
<line x1="26.2" x2="29.3" y1="367.4" y2="367.4" stroke="#333" stroke-width="1.1"/>
<text x="24.1" y="371.3" text-anchor="end" font-family="Liberation Sans" font-size="8.5" fill="#2a2a2a">-40</text>
<line x1="36.6" x2="36.6" y1="372.4" y2="375.8" stroke="#333" stroke-width="1.1"/>
<text x="36.6" y="384.1" text-anchor="middle" font-family="Liberation Sans" font-size="8.5" fill="#2a2a2a">0</text>
<line x1="53.5" x2="53.5" y1="372.4" y2="375.8" stroke="#333" stroke-width="1.1"/>
<text x="53.5" y="384.1" text-anchor="middle" font-family="Liberation Sans" font-size="8.5" fill="#2a2a2a">1</text>
<line x1="70.4" x2="70.4" y1="372.4" y2="375.8" stroke="#333" stroke-width="1.1"/>
<text x="70.4" y="384.1" text-anchor="middle" font-family="Liberation Sans" font-size="8.5" fill="#2a2a2a">2</text>
<line x1="87.3" x2="87.3" y1="372.4" y2="375.8" stroke="#333" stroke-width="1.1"/>
<text x="87.3" y="384.1" text-anchor="middle" font-family="Liberation Sans" font-size="8.5" fill="#2a2a2a">3</text>
<line x1="104.2" x2="104.2" y1="372.4" y2="375.8" stroke="#333" stroke-width="1.1"/>
<text x="104.2" y="384.1" text-anchor="middle" font-family="Liberation Sans" font-size="8.5" fill="#2a2a2a">4</text>
<line x1="121.2" x2="121.2" y1="372.4" y2="375.8" stroke="#333" stroke-width="1.1"/>
<text x="121.2" y="384.1" text-anchor="middle" font-family="Liberation Sans" font-size="8.5" fill="#2a2a2a">5</text>
<line x1="138.1" x2="138.1" y1="372.4" y2="375.8" stroke="#333" stroke-width="1.1"/>
<text x="138.1" y="384.1" text-anchor="middle" font-family="Liberation Sans" font-size="8.5" fill="#2a2a2a">6</text>
<line x1="155" x2="155" y1="372.4" y2="375.8" stroke="#333" stroke-width="1.1"/>
<text x="155" y="384.1" text-anchor="middle" font-family="Liberation Sans" font-size="8.5" fill="#2a2a2a">7</text>
<line x1="171.9" x2="171.9" y1="372.4" y2="375.8" stroke="#333" stroke-width="1.1"/>
<text x="171.9" y="384.1" text-anchor="middle" font-family="Liberation Sans" font-size="8.5" fill="#2a2a2a">8</text>
<line x1="197.5" x2="197.5" y1="372.4" y2="375.8" stroke="#333" stroke-width="1.1"/>
<text x="197.5" y="384.1" text-anchor="middle" font-family="Liberation Sans" font-size="8.5" fill="#2a2a2a">0</text>
<line x1="214.5" x2="214.5" y1="372.4" y2="375.8" stroke="#333" stroke-width="1.1"/>
<text x="214.5" y="384.1" text-anchor="middle" font-family="Liberation Sans" font-size="8.5" fill="#2a2a2a">1</text>
<line x1="231.4" x2="231.4" y1="372.4" y2="375.8" stroke="#333" stroke-width="1.1"/>
<text x="231.4" y="384.1" text-anchor="middle" font-family="Liberation Sans" font-size="8.5" fill="#2a2a2a">2</text>
<line x1="248.3" x2="248.3" y1="372.4" y2="375.8" stroke="#333" stroke-width="1.1"/>
<text x="248.3" y="384.1" text-anchor="middle" font-family="Liberation Sans" font-size="8.5" fill="#2a2a2a">3</text>
<line x1="265.2" x2="265.2" y1="372.4" y2="375.8" stroke="#333" stroke-width="1.1"/>
<text x="265.2" y="384.1" text-anchor="middle" font-family="Liberation Sans" font-size="8.5" fill="#2a2a2a">4</text>
<line x1="282.1" x2="282.1" y1="372.4" y2="375.8" stroke="#333" stroke-width="1.1"/>
<text x="282.1" y="384.1" text-anchor="middle" font-family="Liberation Sans" font-size="8.5" fill="#2a2a2a">5</text>
<line x1="299" x2="299" y1="372.4" y2="375.8" stroke="#333" stroke-width="1.1"/>
<text x="299" y="384.1" text-anchor="middle" font-family="Liberation Sans" font-size="8.5" fill="#2a2a2a">6</text>
<line x1="315.9" x2="315.9" y1="372.4" y2="375.8" stroke="#333" stroke-width="1.1"/>
<text x="315.9" y="384.1" text-anchor="middle" font-family="Liberation Sans" font-size="8.5" fill="#2a2a2a">7</text>
<line x1="332.8" x2="332.8" y1="372.4" y2="375.8" stroke="#333" stroke-width="1.1"/>
<text x="332.8" y="384.1" text-anchor="middle" font-family="Liberation Sans" font-size="8.5" fill="#2a2a2a">8</text>
<line x1="358.5" x2="358.5" y1="372.4" y2="375.8" stroke="#333" stroke-width="1.1"/>
<text x="358.5" y="384.1" text-anchor="middle" font-family="Liberation Sans" font-size="8.5" fill="#2a2a2a">0</text>
<line x1="375.4" x2="375.4" y1="372.4" y2="375.8" stroke="#333" stroke-width="1.1"/>
<text x="375.4" y="384.1" text-anchor="middle" font-family="Liberation Sans" font-size="8.5" fill="#2a2a2a">1</text>
<line x1="392.3" x2="392.3" y1="372.4" y2="375.8" stroke="#333" stroke-width="1.1"/>
<text x="392.3" y="384.1" text-anchor="middle" font-family="Liberation Sans" font-size="8.5" fill="#2a2a2a">2</text>
<line x1="409.2" x2="409.2" y1="372.4" y2="375.8" stroke="#333" stroke-width="1.1"/>
<text x="409.2" y="384.1" text-anchor="middle" font-family="Liberation Sans" font-size="8.5" fill="#2a2a2a">3</text>
<line x1="426.1" x2="426.1" y1="372.4" y2="375.8" stroke="#333" stroke-width="1.1"/>
<text x="426.1" y="384.1" text-anchor="middle" font-family="Liberation Sans" font-size="8.5" fill="#2a2a2a">4</text>
<line x1="443.1" x2="443.1" y1="372.4" y2="375.8" stroke="#333" stroke-width="1.1"/>
<text x="443.1" y="384.1" text-anchor="middle" font-family="Liberation Sans" font-size="8.5" fill="#2a2a2a">5</text>
<line x1="460" x2="460" y1="372.4" y2="375.8" stroke="#333" stroke-width="1.1"/>
<text x="460" y="384.1" text-anchor="middle" font-family="Liberation Sans" font-size="8.5" fill="#2a2a2a">6</text>
<line x1="476.9" x2="476.9" y1="372.4" y2="375.8" stroke="#333" stroke-width="1.1"/>
<text x="476.9" y="384.1" text-anchor="middle" font-family="Liberation Sans" font-size="8.5" fill="#2a2a2a">7</text>
<line x1="493.8" x2="493.8" y1="372.4" y2="375.8" stroke="#333" stroke-width="1.1"/>
<text x="493.8" y="384.1" text-anchor="middle" font-family="Liberation Sans" font-size="8.5" fill="#2a2a2a">8</text>
<line x1="519.4" x2="519.4" y1="372.4" y2="375.8" stroke="#333" stroke-width="1.1"/>
<text x="519.4" y="384.1" text-anchor="middle" font-family="Liberation Sans" font-size="8.5" fill="#2a2a2a">0</text>
<line x1="536.4" x2="536.4" y1="372.4" y2="375.8" stroke="#333" stroke-width="1.1"/>
<text x="536.4" y="384.1" text-anchor="middle" font-family="Liberation Sans" font-size="8.5" fill="#2a2a2a">1</text>
<line x1="553.3" x2="553.3" y1="372.4" y2="375.8" stroke="#333" stroke-width="1.1"/>
<text x="553.3" y="384.1" text-anchor="middle" font-family="Liberation Sans" font-size="8.5" fill="#2a2a2a">2</text>
<line x1="570.2" x2="570.2" y1="372.4" y2="375.8" stroke="#333" stroke-width="1.1"/>
<text x="570.2" y="384.1" text-anchor="middle" font-family="Liberation Sans" font-size="8.5" fill="#2a2a2a">3</text>
<line x1="587.1" x2="587.1" y1="372.4" y2="375.8" stroke="#333" stroke-width="1.1"/>
<text x="587.1" y="384.1" text-anchor="middle" font-family="Liberation Sans" font-size="8.5" fill="#2a2a2a">4</text>
<line x1="604" x2="604" y1="372.4" y2="375.8" stroke="#333" stroke-width="1.1"/>
<text x="604" y="384.1" text-anchor="middle" font-family="Liberation Sans" font-size="8.5" fill="#2a2a2a">5</text>
<line x1="620.9" x2="620.9" y1="372.4" y2="375.8" stroke="#333" stroke-width="1.1"/>
<text x="620.9" y="384.1" text-anchor="middle" font-family="Liberation Sans" font-size="8.5" fill="#2a2a2a">6</text>
<line x1="637.8" x2="637.8" y1="372.4" y2="375.8" stroke="#333" stroke-width="1.1"/>
<text x="637.8" y="384.1" text-anchor="middle" font-family="Liberation Sans" font-size="8.5" fill="#2a2a2a">7</text>
<line x1="654.7" x2="654.7" y1="372.4" y2="375.8" stroke="#333" stroke-width="1.1"/>
<text x="654.7" y="384.1" text-anchor="middle" font-family="Liberation Sans" font-size="8.5" fill="#2a2a2a">8</text>
<text x="335" y="394.8" font-family="Liberation Sans" font-size="10.5" fill="#111">GST(°C)</text>
<polygon points="324.8,394.4 328.8,387.2 332.8,394.4" fill="none" stroke="#666" stroke-width="0.7"/>
<g transform="translate(9.4 193.2) rotate(-90)"><text x="0" y="0" text-anchor="middle" font-family="Liberation Sans" font-size="11" fill="#111">Bias in DAE to maturity (%)</text></g>
</svg></body></html>
